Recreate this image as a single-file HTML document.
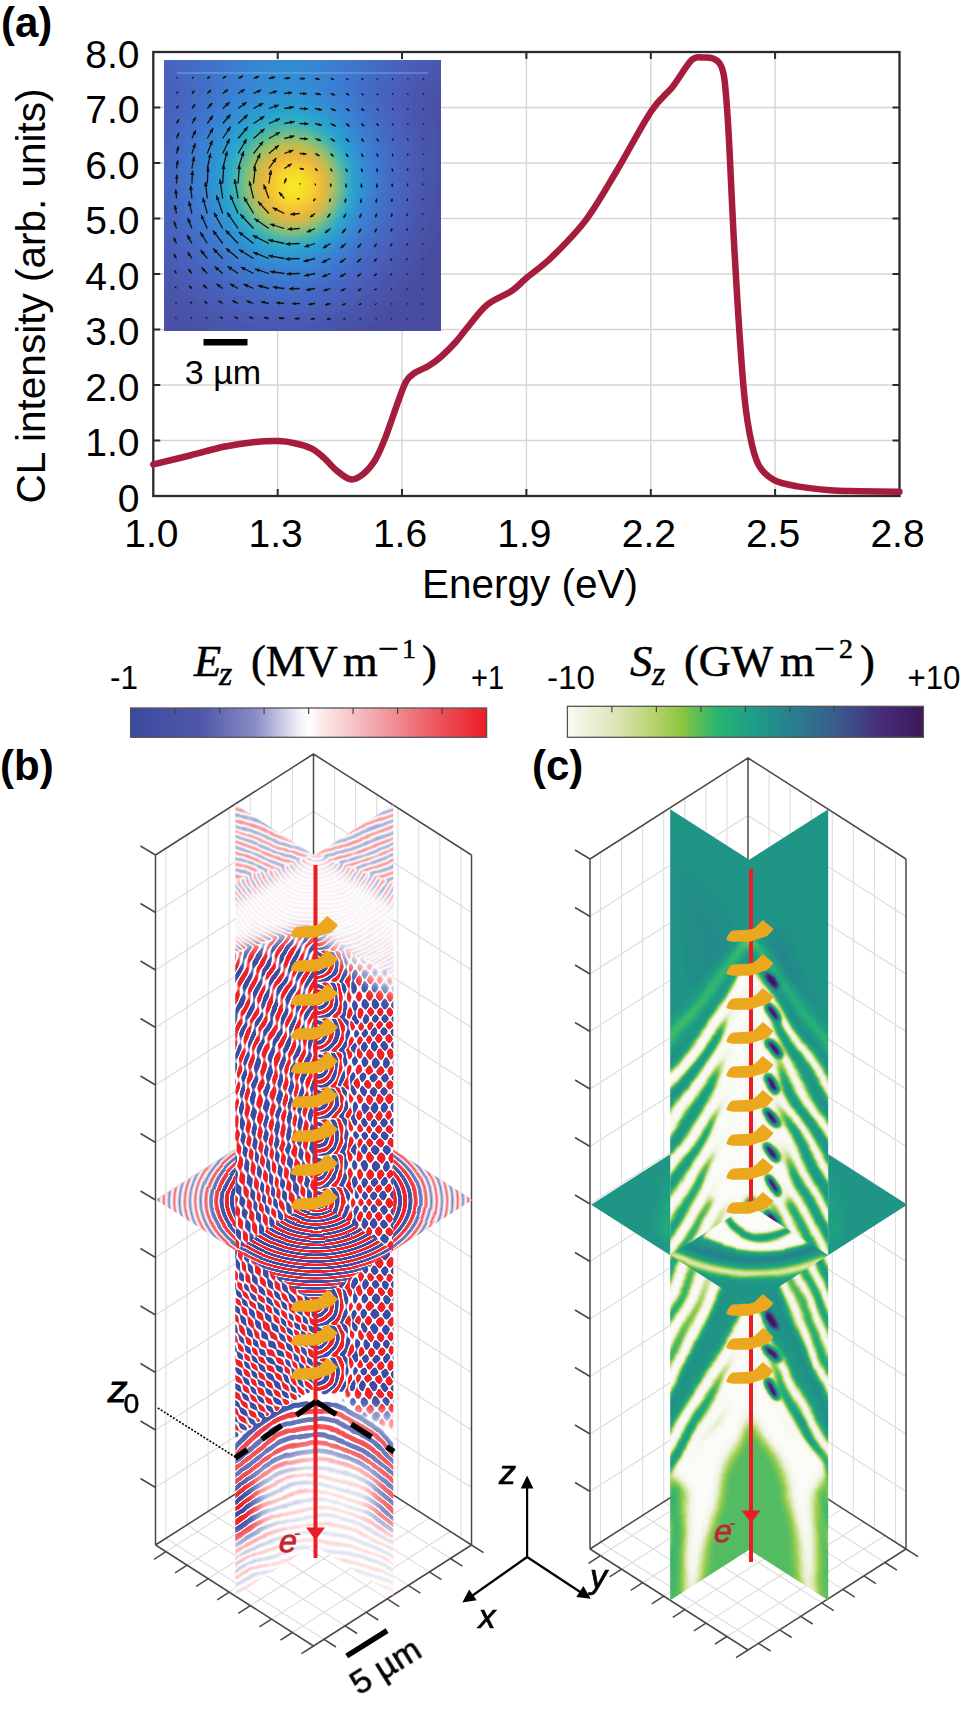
<!DOCTYPE html>
<html><head><meta charset="utf-8"><style>
html,body{margin:0;padding:0;background:#fff;}
svg{display:block;}
text{font-family:"Liberation Sans",sans-serif;fill:#000;}
.tk{font-size:39px;}
.ax{font-size:40.5px;}
.lbl{font-size:42px;font-weight:bold;}
.sb{font-size:34px;}
.cbt{font-size:33px;}
.ser{font-family:"Liberation Serif",serif;font-size:44.6px;stroke:#000;stroke-width:0.5px;}
</style></head><body>
<svg width="969" height="1720" viewBox="0 0 969 1720">

<defs><clipPath id="insclip"><rect x="164" y="60" width="277" height="271"/></clipPath>
<filter id="blur3" x="-5%" y="-5%" width="110%" height="110%"><feGaussianBlur stdDeviation="5"/></filter>
<linearGradient id="cbE" x1="0" x2="1" y1="0" y2="0"><stop offset="0" stop-color="#3a4aa0"/><stop offset="0.2" stop-color="#5058a8"/><stop offset="0.35" stop-color="#8a8cc6"/><stop offset="0.47" stop-color="#eeeef8"/><stop offset="0.5" stop-color="#ffffff"/><stop offset="0.53" stop-color="#fdeeee"/><stop offset="0.7" stop-color="#f2a0a6"/><stop offset="0.85" stop-color="#ee5a62"/><stop offset="1" stop-color="#ec1c24"/></linearGradient>
<linearGradient id="cbS" x1="0" x2="1" y1="0" y2="0"><stop offset="0" stop-color="#fafaf5"/><stop offset="0.12" stop-color="#e2e6c0"/><stop offset="0.25" stop-color="#b4d26a"/><stop offset="0.32" stop-color="#8cc63f"/><stop offset="0.42" stop-color="#2ab572"/><stop offset="0.52" stop-color="#1d9e86"/><stop offset="0.64" stop-color="#2a7d8e"/><stop offset="0.76" stop-color="#3a5a8c"/><stop offset="0.88" stop-color="#472d7b"/><stop offset="1" stop-color="#3d1856"/></linearGradient>
<filter id="rbS" color-interpolation-filters="sRGB" filterUnits="userSpaceOnUse" x="0" y="700" width="969" height="1020"><feTurbulence type="fractalNoise" baseFrequency="0.03" numOctaves="1" seed="3" result="t"/><feDisplacementMap in="SourceGraphic" in2="t" scale="9" xChannelSelector="R" yChannelSelector="G" result="d"/><feGaussianBlur in="d" stdDeviation="0.8" result="bb"/><feComponentTransfer in="bb"><feFuncR type="table" tableValues="0.230 0.230 0.230 0.230 0.230 0.230 0.230 0.230 0.230 0.230 0.230 0.230 0.230 0.230 0.325 0.503 0.714 0.950 1.000 1.000 1.000 1.000 1.000 0.994 0.973 0.957 0.941 0.930 0.930 0.930 0.930 0.930 0.930 0.930 0.930 0.930 0.930 0.930 0.930 0.930 0.930"/><feFuncG type="table" tableValues="0.300 0.300 0.300 0.300 0.300 0.300 0.300 0.300 0.300 0.300 0.300 0.300 0.300 0.300 0.386 0.548 0.740 0.955 1.000 1.000 1.000 1.000 1.000 0.921 0.668 0.461 0.272 0.130 0.130 0.130 0.130 0.130 0.130 0.130 0.130 0.130 0.130 0.130 0.130 0.130 0.130"/><feFuncB type="table" tableValues="0.640 0.640 0.640 0.640 0.640 0.640 0.640 0.640 0.640 0.640 0.640 0.640 0.640 0.640 0.684 0.767 0.866 0.977 1.000 1.000 1.000 1.000 1.000 0.923 0.676 0.473 0.289 0.150 0.150 0.150 0.150 0.150 0.150 0.150 0.150 0.150 0.150 0.150 0.150 0.150 0.150"/></feComponentTransfer></filter>
<filter id="rbF" color-interpolation-filters="sRGB" filterUnits="userSpaceOnUse" x="0" y="700" width="969" height="1020"><feTurbulence type="fractalNoise" baseFrequency="0.03" numOctaves="1" seed="3" result="t"/><feDisplacementMap in="SourceGraphic" in2="t" scale="9" xChannelSelector="R" yChannelSelector="G" result="d"/><feGaussianBlur in="d" stdDeviation="0.8" result="bb"/><feComponentTransfer in="bb"><feFuncR type="table" tableValues="0.230 0.300 0.352 0.399 0.442 0.484 0.524 0.562 0.600 0.637 0.672 0.707 0.742 0.776 0.809 0.842 0.874 0.906 0.938 0.969 1.000 0.998 0.996 0.993 0.991 0.988 0.984 0.981 0.978 0.974 0.971 0.967 0.963 0.959 0.955 0.951 0.947 0.943 0.939 0.934 0.930"/><feFuncG type="table" tableValues="0.300 0.364 0.411 0.453 0.493 0.531 0.567 0.602 0.636 0.670 0.702 0.734 0.765 0.796 0.826 0.856 0.886 0.915 0.943 0.972 1.000 0.979 0.951 0.919 0.884 0.846 0.807 0.766 0.723 0.679 0.634 0.588 0.541 0.492 0.443 0.393 0.342 0.290 0.237 0.184 0.130"/><feFuncB type="table" tableValues="0.640 0.673 0.697 0.719 0.739 0.759 0.777 0.795 0.813 0.830 0.847 0.863 0.879 0.895 0.911 0.926 0.941 0.956 0.971 0.986 1.000 0.980 0.952 0.921 0.886 0.850 0.811 0.771 0.730 0.687 0.643 0.597 0.551 0.504 0.456 0.407 0.357 0.306 0.255 0.203 0.150"/></feComponentTransfer></filter>
<filter id="rbH" color-interpolation-filters="sRGB" filterUnits="userSpaceOnUse" x="0" y="700" width="969" height="1020"><feTurbulence type="fractalNoise" baseFrequency="0.03" numOctaves="1" seed="7" result="t"/><feDisplacementMap in="SourceGraphic" in2="t" scale="3" xChannelSelector="R" yChannelSelector="G" result="d"/><feGaussianBlur in="d" stdDeviation="0.7" result="bb"/><feComponentTransfer in="bb"><feFuncR type="table" tableValues="0.230 0.230 0.230 0.230 0.230 0.230 0.230 0.230 0.230 0.230 0.230 0.230 0.230 0.230 0.325 0.503 0.714 0.950 1.000 1.000 1.000 1.000 1.000 0.994 0.973 0.957 0.941 0.930 0.930 0.930 0.930 0.930 0.930 0.930 0.930 0.930 0.930 0.930 0.930 0.930 0.930"/><feFuncG type="table" tableValues="0.300 0.300 0.300 0.300 0.300 0.300 0.300 0.300 0.300 0.300 0.300 0.300 0.300 0.300 0.386 0.548 0.740 0.955 1.000 1.000 1.000 1.000 1.000 0.921 0.668 0.461 0.272 0.130 0.130 0.130 0.130 0.130 0.130 0.130 0.130 0.130 0.130 0.130 0.130 0.130 0.130"/><feFuncB type="table" tableValues="0.640 0.640 0.640 0.640 0.640 0.640 0.640 0.640 0.640 0.640 0.640 0.640 0.640 0.640 0.684 0.767 0.866 0.977 1.000 1.000 1.000 1.000 1.000 0.923 0.676 0.473 0.289 0.150 0.150 0.150 0.150 0.150 0.150 0.150 0.150 0.150 0.150 0.150 0.150 0.150 0.150"/></feComponentTransfer></filter>
<filter id="rbHF" color-interpolation-filters="sRGB" filterUnits="userSpaceOnUse" x="0" y="700" width="969" height="1020"><feTurbulence type="fractalNoise" baseFrequency="0.03" numOctaves="1" seed="7" result="t"/><feDisplacementMap in="SourceGraphic" in2="t" scale="3" xChannelSelector="R" yChannelSelector="G" result="d"/><feGaussianBlur in="d" stdDeviation="0.7" result="bb"/><feComponentTransfer in="bb"><feFuncR type="table" tableValues="0.230 0.300 0.352 0.399 0.442 0.484 0.524 0.562 0.600 0.637 0.672 0.707 0.742 0.776 0.809 0.842 0.874 0.906 0.938 0.969 1.000 0.998 0.996 0.993 0.991 0.988 0.984 0.981 0.978 0.974 0.971 0.967 0.963 0.959 0.955 0.951 0.947 0.943 0.939 0.934 0.930"/><feFuncG type="table" tableValues="0.300 0.364 0.411 0.453 0.493 0.531 0.567 0.602 0.636 0.670 0.702 0.734 0.765 0.796 0.826 0.856 0.886 0.915 0.943 0.972 1.000 0.979 0.951 0.919 0.884 0.846 0.807 0.766 0.723 0.679 0.634 0.588 0.541 0.492 0.443 0.393 0.342 0.290 0.237 0.184 0.130"/><feFuncB type="table" tableValues="0.640 0.673 0.697 0.719 0.739 0.759 0.777 0.795 0.813 0.830 0.847 0.863 0.879 0.895 0.911 0.926 0.941 0.956 0.971 0.986 1.000 0.980 0.952 0.921 0.886 0.850 0.811 0.771 0.730 0.687 0.643 0.597 0.551 0.504 0.456 0.407 0.357 0.306 0.255 0.203 0.150"/></feComponentTransfer></filter>
<filter id="bb4" filterUnits="userSpaceOnUse" x="0" y="700" width="969" height="1020"><feGaussianBlur stdDeviation="4"/></filter>
<filter id="bb8" filterUnits="userSpaceOnUse" x="0" y="700" width="969" height="1020"><feGaussianBlur stdDeviation="8"/></filter>
<filter id="bb12" filterUnits="userSpaceOnUse" x="0" y="700" width="969" height="1020"><feGaussianBlur stdDeviation="12"/></filter>
<radialGradient id="gL1" gradientUnits="userSpaceOnUse" cx="760" cy="1120" r="11.5" spreadMethod="repeat" gradientTransform="translate(760 1120) scale(1 0.8) translate(-760 -1120)"><stop offset="0" stop-color="#000"/><stop offset="0.5" stop-color="#fff"/><stop offset="1" stop-color="#000"/></radialGradient>
<linearGradient id="gL2" gradientUnits="userSpaceOnUse" x1="0" y1="0" x2="7.4" y2="9.5" spreadMethod="repeat"><stop offset="0" stop-color="#000"/><stop offset="0.5" stop-color="#fff"/><stop offset="1" stop-color="#000"/></linearGradient>
<radialGradient id="gC0" gradientUnits="userSpaceOnUse" cx="317" cy="930" r="10" spreadMethod="repeat" ><stop offset="0" stop-color="#000"/><stop offset="0.5" stop-color="#fff"/><stop offset="1" stop-color="#000"/></radialGradient>
<radialGradient id="gC1" gradientUnits="userSpaceOnUse" cx="317" cy="964" r="10" spreadMethod="repeat" ><stop offset="0" stop-color="#000"/><stop offset="0.5" stop-color="#fff"/><stop offset="1" stop-color="#000"/></radialGradient>
<radialGradient id="gC2" gradientUnits="userSpaceOnUse" cx="317" cy="998" r="10" spreadMethod="repeat" ><stop offset="0" stop-color="#000"/><stop offset="0.5" stop-color="#fff"/><stop offset="1" stop-color="#000"/></radialGradient>
<radialGradient id="gC3" gradientUnits="userSpaceOnUse" cx="317" cy="1032" r="10" spreadMethod="repeat" ><stop offset="0" stop-color="#000"/><stop offset="0.5" stop-color="#fff"/><stop offset="1" stop-color="#000"/></radialGradient>
<radialGradient id="gC4" gradientUnits="userSpaceOnUse" cx="317" cy="1066" r="10" spreadMethod="repeat" ><stop offset="0" stop-color="#000"/><stop offset="0.5" stop-color="#fff"/><stop offset="1" stop-color="#000"/></radialGradient>
<radialGradient id="gC5" gradientUnits="userSpaceOnUse" cx="317" cy="1100" r="10" spreadMethod="repeat" ><stop offset="0" stop-color="#000"/><stop offset="0.5" stop-color="#fff"/><stop offset="1" stop-color="#000"/></radialGradient>
<radialGradient id="gC6" gradientUnits="userSpaceOnUse" cx="317" cy="1134" r="10" spreadMethod="repeat" ><stop offset="0" stop-color="#000"/><stop offset="0.5" stop-color="#fff"/><stop offset="1" stop-color="#000"/></radialGradient>
<radialGradient id="gC7" gradientUnits="userSpaceOnUse" cx="317" cy="1168" r="10" spreadMethod="repeat" ><stop offset="0" stop-color="#000"/><stop offset="0.5" stop-color="#fff"/><stop offset="1" stop-color="#000"/></radialGradient>
<radialGradient id="gC8" gradientUnits="userSpaceOnUse" cx="317" cy="1202" r="10" spreadMethod="repeat" ><stop offset="0" stop-color="#000"/><stop offset="0.5" stop-color="#fff"/><stop offset="1" stop-color="#000"/></radialGradient>
<radialGradient id="gC9" gradientUnits="userSpaceOnUse" cx="317" cy="1236" r="10" spreadMethod="repeat" ><stop offset="0" stop-color="#000"/><stop offset="0.5" stop-color="#fff"/><stop offset="1" stop-color="#000"/></radialGradient>
<radialGradient id="gC10" gradientUnits="userSpaceOnUse" cx="317" cy="1270" r="10" spreadMethod="repeat" ><stop offset="0" stop-color="#000"/><stop offset="0.5" stop-color="#fff"/><stop offset="1" stop-color="#000"/></radialGradient>
<radialGradient id="gC11" gradientUnits="userSpaceOnUse" cx="317" cy="1304" r="10" spreadMethod="repeat" ><stop offset="0" stop-color="#000"/><stop offset="0.5" stop-color="#fff"/><stop offset="1" stop-color="#000"/></radialGradient>
<radialGradient id="gC12" gradientUnits="userSpaceOnUse" cx="317" cy="1338" r="10" spreadMethod="repeat" ><stop offset="0" stop-color="#000"/><stop offset="0.5" stop-color="#fff"/><stop offset="1" stop-color="#000"/></radialGradient>
<radialGradient id="gC13" gradientUnits="userSpaceOnUse" cx="317" cy="1372" r="10" spreadMethod="repeat" ><stop offset="0" stop-color="#000"/><stop offset="0.5" stop-color="#fff"/><stop offset="1" stop-color="#000"/></radialGradient>
<linearGradient id="gR1" gradientUnits="userSpaceOnUse" x1="0" y1="0" x2="13.9" y2="9.8" spreadMethod="repeat"><stop offset="0" stop-color="#000"/><stop offset="0.5" stop-color="#fff"/><stop offset="1" stop-color="#000"/></linearGradient>
<linearGradient id="gR2" gradientUnits="userSpaceOnUse" x1="0" y1="0" x2="-13.9" y2="9.8" spreadMethod="repeat"><stop offset="0" stop-color="#000"/><stop offset="0.5" stop-color="#fff"/><stop offset="1" stop-color="#000"/></linearGradient>
<radialGradient id="gH" gradientUnits="userSpaceOnUse" cx="316" cy="1201" r="10.5" spreadMethod="repeat" gradientTransform="translate(316 1201) scale(1 0.64) translate(-316 -1201)"><stop offset="0" stop-color="#000"/><stop offset="0.5" stop-color="#fff"/><stop offset="1" stop-color="#000"/></radialGradient>
<linearGradient id="gW1" gradientUnits="userSpaceOnUse" x1="0" y1="0" x2="-3.6" y2="9.9" spreadMethod="repeat"><stop offset="0" stop-color="#000"/><stop offset="0.5" stop-color="#fff"/><stop offset="1" stop-color="#000"/></linearGradient>
<linearGradient id="gW2" gradientUnits="userSpaceOnUse" x1="0" y1="0" x2="3.6" y2="9.9" spreadMethod="repeat"><stop offset="0" stop-color="#000"/><stop offset="0.5" stop-color="#fff"/><stop offset="1" stop-color="#000"/></linearGradient>
<radialGradient id="gBot" gradientUnits="userSpaceOnUse" cx="316" cy="1540" r="7.4" spreadMethod="repeat" gradientTransform="translate(316 1540) scale(1 1.25) translate(-316 -1540)"><stop offset="0" stop-color="#000"/><stop offset="0.5" stop-color="#fff"/><stop offset="1" stop-color="#000"/></radialGradient>
<radialGradient id="gTop" gradientUnits="userSpaceOnUse" cx="316" cy="846" r="8" spreadMethod="repeat" ><stop offset="0" stop-color="#000"/><stop offset="0.5" stop-color="#fff"/><stop offset="1" stop-color="#000"/></radialGradient>
<filter id="boost" color-interpolation-filters="sRGB" filterUnits="userSpaceOnUse" x="0" y="700" width="969" height="1020"><feComponentTransfer><feFuncR type="linear" slope="2.4" intercept="-0.7"/><feFuncG type="linear" slope="2.4" intercept="-0.7"/><feFuncB type="linear" slope="2.4" intercept="-0.7"/></feComponentTransfer></filter>
<linearGradient id="rampR" gradientUnits="userSpaceOnUse" x1="335" y1="0" x2="372" y2="0"><stop offset="0" stop-color="#fff" stop-opacity="0"/><stop offset="1" stop-color="#fff" stop-opacity="1"/></linearGradient>
<mask id="mRamp" maskUnits="userSpaceOnUse" x="0" y="700" width="969" height="1020"><rect x="0" y="700" width="969" height="1020" fill="url(#rampR)"/></mask>
<filter id="vmap" color-interpolation-filters="sRGB" filterUnits="userSpaceOnUse" x="0" y="700" width="969" height="1020"><feTurbulence type="fractalNoise" baseFrequency="0.025" numOctaves="1" seed="11" result="t"/><feDisplacementMap in="SourceGraphic" in2="t" scale="10" xChannelSelector="R" yChannelSelector="G" result="d"/><feGaussianBlur in="d" stdDeviation="0.8" result="bb"/><feComponentTransfer in="bb"><feFuncR type="table" tableValues="0.988 0.969 0.949 0.907 0.850 0.786 0.696 0.606 0.497 0.382 0.286 0.218 0.149 0.140 0.132 0.123 0.122 0.122 0.122 0.122 0.122 0.130 0.138 0.150 0.165 0.181 0.201 0.222 0.243 0.253 0.263 0.273 0.268 0.260 0.253 0.245 0.239 0.233 0.227 0.221 0.216"/><feFuncG type="table" tableValues="0.988 0.975 0.962 0.939 0.910 0.879 0.843 0.807 0.779 0.753 0.729 0.710 0.690 0.671 0.651 0.631 0.621 0.613 0.605 0.596 0.588 0.560 0.533 0.497 0.456 0.415 0.375 0.335 0.294 0.254 0.213 0.173 0.151 0.133 0.115 0.098 0.090 0.085 0.080 0.075 0.071"/><feFuncB type="table" tableValues="0.973 0.940 0.907 0.818 0.690 0.564 0.441 0.319 0.327 0.368 0.405 0.438 0.471 0.484 0.498 0.511 0.515 0.517 0.518 0.520 0.522 0.533 0.544 0.551 0.554 0.555 0.547 0.538 0.529 0.505 0.480 0.456 0.431 0.407 0.382 0.358 0.343 0.331 0.319 0.306 0.294"/></feComponentTransfer></filter>
<filter id="vmap2" color-interpolation-filters="sRGB" filterUnits="userSpaceOnUse" x="0" y="700" width="969" height="1020"><feTurbulence type="fractalNoise" baseFrequency="0.03" numOctaves="1" seed="5" result="t"/><feDisplacementMap in="SourceGraphic" in2="t" scale="4" xChannelSelector="R" yChannelSelector="G" result="d"/><feGaussianBlur in="d" stdDeviation="0.8" result="bb"/><feComponentTransfer in="bb"><feFuncR type="table" tableValues="0.988 0.969 0.949 0.907 0.850 0.786 0.696 0.606 0.497 0.382 0.286 0.218 0.149 0.140 0.132 0.123 0.122 0.122 0.122 0.122 0.122 0.130 0.138 0.150 0.165 0.181 0.201 0.222 0.243 0.253 0.263 0.273 0.268 0.260 0.253 0.245 0.239 0.233 0.227 0.221 0.216"/><feFuncG type="table" tableValues="0.988 0.975 0.962 0.939 0.910 0.879 0.843 0.807 0.779 0.753 0.729 0.710 0.690 0.671 0.651 0.631 0.621 0.613 0.605 0.596 0.588 0.560 0.533 0.497 0.456 0.415 0.375 0.335 0.294 0.254 0.213 0.173 0.151 0.133 0.115 0.098 0.090 0.085 0.080 0.075 0.071"/><feFuncB type="table" tableValues="0.973 0.940 0.907 0.818 0.690 0.564 0.441 0.319 0.327 0.368 0.405 0.438 0.471 0.484 0.498 0.511 0.515 0.517 0.518 0.520 0.522 0.533 0.544 0.551 0.554 0.555 0.547 0.538 0.529 0.505 0.480 0.456 0.431 0.407 0.382 0.358 0.343 0.331 0.319 0.306 0.294"/></feComponentTransfer></filter>
<filter id="cb2" filterUnits="userSpaceOnUse" x="0" y="700" width="969" height="1020"><feGaussianBlur stdDeviation="2"/></filter>
<filter id="cb3" filterUnits="userSpaceOnUse" x="0" y="700" width="969" height="1020"><feGaussianBlur stdDeviation="3"/></filter>
<filter id="cb4" filterUnits="userSpaceOnUse" x="0" y="700" width="969" height="1020"><feGaussianBlur stdDeviation="4"/></filter>
<filter id="cb6" filterUnits="userSpaceOnUse" x="0" y="700" width="969" height="1020"><feGaussianBlur stdDeviation="6"/></filter>
<filter id="cb9" filterUnits="userSpaceOnUse" x="0" y="700" width="969" height="1020"><feGaussianBlur stdDeviation="9"/></filter>
<filter id="cb14" filterUnits="userSpaceOnUse" x="0" y="700" width="969" height="1020"><feGaussianBlur stdDeviation="14"/></filter></defs>
<path d="M277.7,52V496M402,52V496M526.4,52V496M650.8,52V496M775.1,52V496M153.3,440.5H899.5M153.3,385H899.5M153.3,329.5H899.5M153.3,274H899.5M153.3,218.5H899.5M153.3,163H899.5M153.3,107.5H899.5" stroke="#d6d6d6" stroke-width="1.4" fill="none"/>
<path d="M277.7,496v-7M277.7,52v7M402,496v-7M402,52v7M526.4,496v-7M526.4,52v7M650.8,496v-7M650.8,52v7M775.1,496v-7M775.1,52v7M153.3,440.5h7M899.5,440.5h-7M153.3,385h7M899.5,385h-7M153.3,329.5h7M899.5,329.5h-7M153.3,274h7M899.5,274h-7M153.3,218.5h7M899.5,218.5h-7M153.3,163h7M899.5,163h-7M153.3,107.5h7M899.5,107.5h-7" stroke="#2a2a2a" stroke-width="2" fill="none"/>
<rect x="153.3" y="52" width="746.2" height="444" fill="none" stroke="#2a2a2a" stroke-width="2.3"/>
<text x="151.3" y="547" text-anchor="middle" class="tk">1.0</text>
<text x="275.7" y="547" text-anchor="middle" class="tk">1.3</text>
<text x="400" y="547" text-anchor="middle" class="tk">1.6</text>
<text x="524.4" y="547" text-anchor="middle" class="tk">1.9</text>
<text x="648.8" y="547" text-anchor="middle" class="tk">2.2</text>
<text x="773.1" y="547" text-anchor="middle" class="tk">2.5</text>
<text x="897.5" y="547" text-anchor="middle" class="tk">2.8</text>
<text x="139.5" y="511.5" text-anchor="end" class="tk">0</text>
<text x="139.5" y="456" text-anchor="end" class="tk">1.0</text>
<text x="139.5" y="400.5" text-anchor="end" class="tk">2.0</text>
<text x="139.5" y="345" text-anchor="end" class="tk">3.0</text>
<text x="139.5" y="289.5" text-anchor="end" class="tk">4.0</text>
<text x="139.5" y="234" text-anchor="end" class="tk">5.0</text>
<text x="139.5" y="178.5" text-anchor="end" class="tk">6.0</text>
<text x="139.5" y="123" text-anchor="end" class="tk">7.0</text>
<text x="139.5" y="67.5" text-anchor="end" class="tk">8.0</text>
<text x="530" y="598" text-anchor="middle" class="ax">Energy (eV)</text>
<text transform="translate(44.5,296) rotate(-90)" text-anchor="middle" class="ax">CL intensity (arb. units)</text>
<text x="1" y="37" class="lbl">(a)</text>
<g clip-path="url(#insclip)"><g filter="url(#blur3)">
<rect x="156" y="52" width="9" height="9" fill="#485fbb"/>
<rect x="164" y="52" width="9" height="9" fill="#4861bd"/>
<rect x="172" y="52" width="9" height="9" fill="#4763be"/>
<rect x="180" y="52" width="9" height="9" fill="#4665c0"/>
<rect x="188" y="52" width="9" height="9" fill="#4568c2"/>
<rect x="196" y="52" width="9" height="9" fill="#446ac4"/>
<rect x="204" y="52" width="9" height="9" fill="#426dc6"/>
<rect x="212" y="52" width="9" height="9" fill="#4170c8"/>
<rect x="220" y="52" width="9" height="9" fill="#4072ca"/>
<rect x="228" y="52" width="9" height="9" fill="#3f75cc"/>
<rect x="236" y="52" width="9" height="9" fill="#3e77ce"/>
<rect x="244" y="52" width="9" height="9" fill="#3d7acf"/>
<rect x="252" y="52" width="9" height="9" fill="#3c7cd1"/>
<rect x="260" y="52" width="9" height="9" fill="#3b7dd2"/>
<rect x="268" y="52" width="9" height="9" fill="#3b7ed3"/>
<rect x="276" y="52" width="9" height="9" fill="#3a7fd3"/>
<rect x="284" y="52" width="9" height="9" fill="#3a7fd3"/>
<rect x="292" y="52" width="9" height="9" fill="#3b7fd3"/>
<rect x="300" y="52" width="9" height="9" fill="#3b7ed2"/>
<rect x="308" y="52" width="9" height="9" fill="#3c7cd1"/>
<rect x="316" y="52" width="9" height="9" fill="#3c7ad0"/>
<rect x="324" y="52" width="9" height="9" fill="#3d78ce"/>
<rect x="332" y="52" width="9" height="9" fill="#3f76cc"/>
<rect x="340" y="52" width="9" height="9" fill="#4073ca"/>
<rect x="348" y="52" width="9" height="9" fill="#4170c8"/>
<rect x="356" y="52" width="9" height="9" fill="#426dc6"/>
<rect x="364" y="52" width="9" height="9" fill="#446ac3"/>
<rect x="372" y="52" width="9" height="9" fill="#4567c1"/>
<rect x="380" y="52" width="9" height="9" fill="#4664bf"/>
<rect x="388" y="52" width="9" height="9" fill="#4861bd"/>
<rect x="396" y="52" width="9" height="9" fill="#485eba"/>
<rect x="404" y="52" width="9" height="9" fill="#485cb6"/>
<rect x="412" y="52" width="9" height="9" fill="#485ab3"/>
<rect x="420" y="52" width="9" height="9" fill="#4859b0"/>
<rect x="428" y="52" width="9" height="9" fill="#4857ae"/>
<rect x="436" y="52" width="9" height="9" fill="#4855ac"/>
<rect x="444" y="52" width="9" height="9" fill="#4854aa"/>
<rect x="156" y="60" width="9" height="9" fill="#4861bd"/>
<rect x="164" y="60" width="9" height="9" fill="#4763be"/>
<rect x="172" y="60" width="9" height="9" fill="#4666c0"/>
<rect x="180" y="60" width="9" height="9" fill="#4468c2"/>
<rect x="188" y="60" width="9" height="9" fill="#436bc4"/>
<rect x="196" y="60" width="9" height="9" fill="#426ec7"/>
<rect x="204" y="60" width="9" height="9" fill="#4071c9"/>
<rect x="212" y="60" width="9" height="9" fill="#3f75cb"/>
<rect x="220" y="60" width="9" height="9" fill="#3e78ce"/>
<rect x="228" y="60" width="9" height="9" fill="#3c7bd0"/>
<rect x="236" y="60" width="9" height="9" fill="#3b7ed2"/>
<rect x="244" y="60" width="9" height="9" fill="#3a81d4"/>
<rect x="252" y="60" width="9" height="9" fill="#3883d4"/>
<rect x="260" y="60" width="9" height="9" fill="#3786d3"/>
<rect x="268" y="60" width="9" height="9" fill="#3687d3"/>
<rect x="276" y="60" width="9" height="9" fill="#3588d3"/>
<rect x="284" y="60" width="9" height="9" fill="#3589d3"/>
<rect x="292" y="60" width="9" height="9" fill="#3588d3"/>
<rect x="300" y="60" width="9" height="9" fill="#3687d3"/>
<rect x="308" y="60" width="9" height="9" fill="#3785d4"/>
<rect x="316" y="60" width="9" height="9" fill="#3982d4"/>
<rect x="324" y="60" width="9" height="9" fill="#3a7fd3"/>
<rect x="332" y="60" width="9" height="9" fill="#3c7cd1"/>
<rect x="340" y="60" width="9" height="9" fill="#3d79cf"/>
<rect x="348" y="60" width="9" height="9" fill="#3f75cc"/>
<rect x="356" y="60" width="9" height="9" fill="#4072c9"/>
<rect x="364" y="60" width="9" height="9" fill="#426ec7"/>
<rect x="372" y="60" width="9" height="9" fill="#436bc4"/>
<rect x="380" y="60" width="9" height="9" fill="#4567c2"/>
<rect x="388" y="60" width="9" height="9" fill="#4664bf"/>
<rect x="396" y="60" width="9" height="9" fill="#4861bd"/>
<rect x="404" y="60" width="9" height="9" fill="#485eba"/>
<rect x="412" y="60" width="9" height="9" fill="#485cb6"/>
<rect x="420" y="60" width="9" height="9" fill="#485ab3"/>
<rect x="428" y="60" width="9" height="9" fill="#4858b0"/>
<rect x="436" y="60" width="9" height="9" fill="#4857ad"/>
<rect x="444" y="60" width="9" height="9" fill="#4855ab"/>
<rect x="156" y="68" width="9" height="9" fill="#4861bc"/>
<rect x="164" y="68" width="9" height="9" fill="#4763be"/>
<rect x="172" y="68" width="9" height="9" fill="#4666c0"/>
<rect x="180" y="68" width="9" height="9" fill="#4468c2"/>
<rect x="188" y="68" width="9" height="9" fill="#436cc5"/>
<rect x="196" y="68" width="9" height="9" fill="#416fc7"/>
<rect x="204" y="68" width="9" height="9" fill="#4072ca"/>
<rect x="212" y="68" width="9" height="9" fill="#3e76cc"/>
<rect x="220" y="68" width="9" height="9" fill="#3d7acf"/>
<rect x="228" y="68" width="9" height="9" fill="#3b7dd2"/>
<rect x="236" y="68" width="9" height="9" fill="#3a80d4"/>
<rect x="244" y="68" width="9" height="9" fill="#3884d4"/>
<rect x="252" y="68" width="9" height="9" fill="#3687d3"/>
<rect x="260" y="68" width="9" height="9" fill="#348ad3"/>
<rect x="268" y="68" width="9" height="9" fill="#338cd3"/>
<rect x="276" y="68" width="9" height="9" fill="#338dd3"/>
<rect x="284" y="68" width="9" height="9" fill="#338dd3"/>
<rect x="292" y="68" width="9" height="9" fill="#338cd3"/>
<rect x="300" y="68" width="9" height="9" fill="#348bd3"/>
<rect x="308" y="68" width="9" height="9" fill="#3589d3"/>
<rect x="316" y="68" width="9" height="9" fill="#3786d3"/>
<rect x="324" y="68" width="9" height="9" fill="#3982d4"/>
<rect x="332" y="68" width="9" height="9" fill="#3b7ed3"/>
<rect x="340" y="68" width="9" height="9" fill="#3c7bd0"/>
<rect x="348" y="68" width="9" height="9" fill="#3e77cd"/>
<rect x="356" y="68" width="9" height="9" fill="#4073ca"/>
<rect x="364" y="68" width="9" height="9" fill="#416fc7"/>
<rect x="372" y="68" width="9" height="9" fill="#436bc4"/>
<rect x="380" y="68" width="9" height="9" fill="#4567c2"/>
<rect x="388" y="68" width="9" height="9" fill="#4664bf"/>
<rect x="396" y="68" width="9" height="9" fill="#4861bc"/>
<rect x="404" y="68" width="9" height="9" fill="#485eb9"/>
<rect x="412" y="68" width="9" height="9" fill="#485cb5"/>
<rect x="420" y="68" width="9" height="9" fill="#4859b2"/>
<rect x="428" y="68" width="9" height="9" fill="#4858af"/>
<rect x="436" y="68" width="9" height="9" fill="#4856ac"/>
<rect x="444" y="68" width="9" height="9" fill="#4854aa"/>
<rect x="156" y="76" width="9" height="9" fill="#485fbb"/>
<rect x="164" y="76" width="9" height="9" fill="#4761bd"/>
<rect x="172" y="76" width="9" height="9" fill="#4664bf"/>
<rect x="180" y="76" width="9" height="9" fill="#4567c1"/>
<rect x="188" y="76" width="9" height="9" fill="#446ac4"/>
<rect x="196" y="76" width="9" height="9" fill="#426ec6"/>
<rect x="204" y="76" width="9" height="9" fill="#4071c9"/>
<rect x="212" y="76" width="9" height="9" fill="#3f75cc"/>
<rect x="220" y="76" width="9" height="9" fill="#3d79cf"/>
<rect x="228" y="76" width="9" height="9" fill="#3b7dd1"/>
<rect x="236" y="76" width="9" height="9" fill="#3a80d4"/>
<rect x="244" y="76" width="9" height="9" fill="#3884d4"/>
<rect x="252" y="76" width="9" height="9" fill="#3688d3"/>
<rect x="260" y="76" width="9" height="9" fill="#348ad3"/>
<rect x="268" y="76" width="9" height="9" fill="#338cd3"/>
<rect x="276" y="76" width="9" height="9" fill="#328dd3"/>
<rect x="284" y="76" width="9" height="9" fill="#328ed3"/>
<rect x="292" y="76" width="9" height="9" fill="#338dd3"/>
<rect x="300" y="76" width="9" height="9" fill="#348bd3"/>
<rect x="308" y="76" width="9" height="9" fill="#3589d3"/>
<rect x="316" y="76" width="9" height="9" fill="#3785d3"/>
<rect x="324" y="76" width="9" height="9" fill="#3981d4"/>
<rect x="332" y="76" width="9" height="9" fill="#3b7ed2"/>
<rect x="340" y="76" width="9" height="9" fill="#3d7acf"/>
<rect x="348" y="76" width="9" height="9" fill="#3f75cc"/>
<rect x="356" y="76" width="9" height="9" fill="#4071c9"/>
<rect x="364" y="76" width="9" height="9" fill="#426dc6"/>
<rect x="372" y="76" width="9" height="9" fill="#4469c3"/>
<rect x="380" y="76" width="9" height="9" fill="#4665c0"/>
<rect x="388" y="76" width="9" height="9" fill="#4762bd"/>
<rect x="396" y="76" width="9" height="9" fill="#485eba"/>
<rect x="404" y="76" width="9" height="9" fill="#485cb6"/>
<rect x="412" y="76" width="9" height="9" fill="#4859b2"/>
<rect x="420" y="76" width="9" height="9" fill="#4857af"/>
<rect x="428" y="76" width="9" height="9" fill="#4856ac"/>
<rect x="436" y="76" width="9" height="9" fill="#4854a9"/>
<rect x="444" y="76" width="9" height="9" fill="#4852a7"/>
<rect x="156" y="84" width="9" height="9" fill="#485eb8"/>
<rect x="164" y="84" width="9" height="9" fill="#4860bc"/>
<rect x="172" y="84" width="9" height="9" fill="#4762be"/>
<rect x="180" y="84" width="9" height="9" fill="#4665c0"/>
<rect x="188" y="84" width="9" height="9" fill="#4469c3"/>
<rect x="196" y="84" width="9" height="9" fill="#436dc5"/>
<rect x="204" y="84" width="9" height="9" fill="#4170c8"/>
<rect x="212" y="84" width="9" height="9" fill="#3f74cb"/>
<rect x="220" y="84" width="9" height="9" fill="#3d79ce"/>
<rect x="228" y="84" width="9" height="9" fill="#3c7cd1"/>
<rect x="236" y="84" width="9" height="9" fill="#3a80d4"/>
<rect x="244" y="84" width="9" height="9" fill="#3785d4"/>
<rect x="252" y="84" width="9" height="9" fill="#3588d3"/>
<rect x="260" y="84" width="9" height="9" fill="#348bd3"/>
<rect x="268" y="84" width="9" height="9" fill="#328dd3"/>
<rect x="276" y="84" width="9" height="9" fill="#328fd3"/>
<rect x="284" y="84" width="9" height="9" fill="#328fd3"/>
<rect x="292" y="84" width="9" height="9" fill="#328ed3"/>
<rect x="300" y="84" width="9" height="9" fill="#338cd3"/>
<rect x="308" y="84" width="9" height="9" fill="#3589d3"/>
<rect x="316" y="84" width="9" height="9" fill="#3786d3"/>
<rect x="324" y="84" width="9" height="9" fill="#3981d4"/>
<rect x="332" y="84" width="9" height="9" fill="#3b7dd2"/>
<rect x="340" y="84" width="9" height="9" fill="#3d79cf"/>
<rect x="348" y="84" width="9" height="9" fill="#3f74cb"/>
<rect x="356" y="84" width="9" height="9" fill="#4170c8"/>
<rect x="364" y="84" width="9" height="9" fill="#436bc5"/>
<rect x="372" y="84" width="9" height="9" fill="#4567c1"/>
<rect x="380" y="84" width="9" height="9" fill="#4763be"/>
<rect x="388" y="84" width="9" height="9" fill="#485fbb"/>
<rect x="396" y="84" width="9" height="9" fill="#485cb6"/>
<rect x="404" y="84" width="9" height="9" fill="#485ab2"/>
<rect x="412" y="84" width="9" height="9" fill="#4857af"/>
<rect x="420" y="84" width="9" height="9" fill="#4855ab"/>
<rect x="428" y="84" width="9" height="9" fill="#4853a8"/>
<rect x="436" y="84" width="9" height="9" fill="#4852a6"/>
<rect x="444" y="84" width="9" height="9" fill="#4851a4"/>
<rect x="156" y="92" width="9" height="9" fill="#485db7"/>
<rect x="164" y="92" width="9" height="9" fill="#485fbb"/>
<rect x="172" y="92" width="9" height="9" fill="#4762bd"/>
<rect x="180" y="92" width="9" height="9" fill="#4665c0"/>
<rect x="188" y="92" width="9" height="9" fill="#4469c3"/>
<rect x="196" y="92" width="9" height="9" fill="#426dc6"/>
<rect x="204" y="92" width="9" height="9" fill="#4171c9"/>
<rect x="212" y="92" width="9" height="9" fill="#3f75cc"/>
<rect x="220" y="92" width="9" height="9" fill="#3d7acf"/>
<rect x="228" y="92" width="9" height="9" fill="#3b7ed3"/>
<rect x="236" y="92" width="9" height="9" fill="#3883d4"/>
<rect x="244" y="92" width="9" height="9" fill="#3688d3"/>
<rect x="252" y="92" width="9" height="9" fill="#338cd3"/>
<rect x="260" y="92" width="9" height="9" fill="#318fd3"/>
<rect x="268" y="92" width="9" height="9" fill="#3091d2"/>
<rect x="276" y="92" width="9" height="9" fill="#2f93d2"/>
<rect x="284" y="92" width="9" height="9" fill="#2f93d2"/>
<rect x="292" y="92" width="9" height="9" fill="#3092d2"/>
<rect x="300" y="92" width="9" height="9" fill="#3190d2"/>
<rect x="308" y="92" width="9" height="9" fill="#338dd3"/>
<rect x="316" y="92" width="9" height="9" fill="#3589d3"/>
<rect x="324" y="92" width="9" height="9" fill="#3884d4"/>
<rect x="332" y="92" width="9" height="9" fill="#3b7fd3"/>
<rect x="340" y="92" width="9" height="9" fill="#3d7acf"/>
<rect x="348" y="92" width="9" height="9" fill="#3f75cc"/>
<rect x="356" y="92" width="9" height="9" fill="#4170c8"/>
<rect x="364" y="92" width="9" height="9" fill="#436bc5"/>
<rect x="372" y="92" width="9" height="9" fill="#4567c1"/>
<rect x="380" y="92" width="9" height="9" fill="#4762be"/>
<rect x="388" y="92" width="9" height="9" fill="#485fba"/>
<rect x="396" y="92" width="9" height="9" fill="#485bb5"/>
<rect x="404" y="92" width="9" height="9" fill="#4859b1"/>
<rect x="412" y="92" width="9" height="9" fill="#4856ad"/>
<rect x="420" y="92" width="9" height="9" fill="#4854a9"/>
<rect x="428" y="92" width="9" height="9" fill="#4852a7"/>
<rect x="436" y="92" width="9" height="9" fill="#4851a4"/>
<rect x="444" y="92" width="9" height="9" fill="#484fa2"/>
<rect x="156" y="100" width="9" height="9" fill="#485db8"/>
<rect x="164" y="100" width="9" height="9" fill="#485fbb"/>
<rect x="172" y="100" width="9" height="9" fill="#4763be"/>
<rect x="180" y="100" width="9" height="9" fill="#4566c1"/>
<rect x="188" y="100" width="9" height="9" fill="#446ac4"/>
<rect x="196" y="100" width="9" height="9" fill="#426fc7"/>
<rect x="204" y="100" width="9" height="9" fill="#4073ca"/>
<rect x="212" y="100" width="9" height="9" fill="#3d78ce"/>
<rect x="220" y="100" width="9" height="9" fill="#3b7dd2"/>
<rect x="228" y="100" width="9" height="9" fill="#3982d4"/>
<rect x="236" y="100" width="9" height="9" fill="#3588d3"/>
<rect x="244" y="100" width="9" height="9" fill="#328dd3"/>
<rect x="252" y="100" width="9" height="9" fill="#3092d2"/>
<rect x="260" y="100" width="9" height="9" fill="#2e96d2"/>
<rect x="268" y="100" width="9" height="9" fill="#2c98d2"/>
<rect x="276" y="100" width="9" height="9" fill="#2b9ad1"/>
<rect x="284" y="100" width="9" height="9" fill="#2b9ad1"/>
<rect x="292" y="100" width="9" height="9" fill="#2c99d1"/>
<rect x="300" y="100" width="9" height="9" fill="#2d97d2"/>
<rect x="308" y="100" width="9" height="9" fill="#2f93d2"/>
<rect x="316" y="100" width="9" height="9" fill="#328fd3"/>
<rect x="324" y="100" width="9" height="9" fill="#3589d3"/>
<rect x="332" y="100" width="9" height="9" fill="#3883d4"/>
<rect x="340" y="100" width="9" height="9" fill="#3b7dd2"/>
<rect x="348" y="100" width="9" height="9" fill="#3e78ce"/>
<rect x="356" y="100" width="9" height="9" fill="#4073ca"/>
<rect x="364" y="100" width="9" height="9" fill="#426dc6"/>
<rect x="372" y="100" width="9" height="9" fill="#4468c2"/>
<rect x="380" y="100" width="9" height="9" fill="#4763bf"/>
<rect x="388" y="100" width="9" height="9" fill="#485fbb"/>
<rect x="396" y="100" width="9" height="9" fill="#485cb5"/>
<rect x="404" y="100" width="9" height="9" fill="#4859b1"/>
<rect x="412" y="100" width="9" height="9" fill="#4856ad"/>
<rect x="420" y="100" width="9" height="9" fill="#4854a9"/>
<rect x="428" y="100" width="9" height="9" fill="#4852a6"/>
<rect x="436" y="100" width="9" height="9" fill="#4850a3"/>
<rect x="444" y="100" width="9" height="9" fill="#484fa1"/>
<rect x="156" y="108" width="9" height="9" fill="#485eb9"/>
<rect x="164" y="108" width="9" height="9" fill="#4860bc"/>
<rect x="172" y="108" width="9" height="9" fill="#4664bf"/>
<rect x="180" y="108" width="9" height="9" fill="#4568c2"/>
<rect x="188" y="108" width="9" height="9" fill="#436cc5"/>
<rect x="196" y="108" width="9" height="9" fill="#4071c9"/>
<rect x="204" y="108" width="9" height="9" fill="#3e76cd"/>
<rect x="212" y="108" width="9" height="9" fill="#3c7cd1"/>
<rect x="220" y="108" width="9" height="9" fill="#3981d4"/>
<rect x="228" y="108" width="9" height="9" fill="#3588d3"/>
<rect x="236" y="108" width="9" height="9" fill="#328ed3"/>
<rect x="244" y="108" width="9" height="9" fill="#2e94d2"/>
<rect x="252" y="108" width="9" height="9" fill="#2b9ad1"/>
<rect x="260" y="108" width="9" height="9" fill="#299ed1"/>
<rect x="268" y="108" width="9" height="9" fill="#27a1d1"/>
<rect x="276" y="108" width="9" height="9" fill="#26a3d0"/>
<rect x="284" y="108" width="9" height="9" fill="#25a4d0"/>
<rect x="292" y="108" width="9" height="9" fill="#26a3d1"/>
<rect x="300" y="108" width="9" height="9" fill="#27a0d1"/>
<rect x="308" y="108" width="9" height="9" fill="#2a9cd1"/>
<rect x="316" y="108" width="9" height="9" fill="#2d97d2"/>
<rect x="324" y="108" width="9" height="9" fill="#3091d2"/>
<rect x="332" y="108" width="9" height="9" fill="#348ad3"/>
<rect x="340" y="108" width="9" height="9" fill="#3982d4"/>
<rect x="348" y="108" width="9" height="9" fill="#3c7cd1"/>
<rect x="356" y="108" width="9" height="9" fill="#3e76cc"/>
<rect x="364" y="108" width="9" height="9" fill="#4170c8"/>
<rect x="372" y="108" width="9" height="9" fill="#436bc4"/>
<rect x="380" y="108" width="9" height="9" fill="#4665c0"/>
<rect x="388" y="108" width="9" height="9" fill="#4860bc"/>
<rect x="396" y="108" width="9" height="9" fill="#485db7"/>
<rect x="404" y="108" width="9" height="9" fill="#4859b2"/>
<rect x="412" y="108" width="9" height="9" fill="#4857ad"/>
<rect x="420" y="108" width="9" height="9" fill="#4854a9"/>
<rect x="428" y="108" width="9" height="9" fill="#4852a6"/>
<rect x="436" y="108" width="9" height="9" fill="#4850a3"/>
<rect x="444" y="108" width="9" height="9" fill="#484fa1"/>
<rect x="156" y="116" width="9" height="9" fill="#485fba"/>
<rect x="164" y="116" width="9" height="9" fill="#4762bd"/>
<rect x="172" y="116" width="9" height="9" fill="#4666c0"/>
<rect x="180" y="116" width="9" height="9" fill="#446ac3"/>
<rect x="188" y="116" width="9" height="9" fill="#426fc7"/>
<rect x="196" y="116" width="9" height="9" fill="#3f74cb"/>
<rect x="204" y="116" width="9" height="9" fill="#3d7acf"/>
<rect x="212" y="116" width="9" height="9" fill="#3a80d4"/>
<rect x="220" y="116" width="9" height="9" fill="#3687d3"/>
<rect x="228" y="116" width="9" height="9" fill="#328ed3"/>
<rect x="236" y="116" width="9" height="9" fill="#2e96d2"/>
<rect x="244" y="116" width="9" height="9" fill="#2a9cd1"/>
<rect x="252" y="116" width="9" height="9" fill="#26a3d1"/>
<rect x="260" y="116" width="9" height="9" fill="#23a8d0"/>
<rect x="268" y="116" width="9" height="9" fill="#2aabc7"/>
<rect x="276" y="116" width="9" height="9" fill="#2eadc1"/>
<rect x="284" y="116" width="9" height="9" fill="#30aebf"/>
<rect x="292" y="116" width="9" height="9" fill="#2eadc1"/>
<rect x="300" y="116" width="9" height="9" fill="#29abc8"/>
<rect x="308" y="116" width="9" height="9" fill="#24a7d0"/>
<rect x="316" y="116" width="9" height="9" fill="#27a1d1"/>
<rect x="324" y="116" width="9" height="9" fill="#2b9ad1"/>
<rect x="332" y="116" width="9" height="9" fill="#3092d2"/>
<rect x="340" y="116" width="9" height="9" fill="#3589d3"/>
<rect x="348" y="116" width="9" height="9" fill="#3a81d4"/>
<rect x="356" y="116" width="9" height="9" fill="#3d7acf"/>
<rect x="364" y="116" width="9" height="9" fill="#4073cb"/>
<rect x="372" y="116" width="9" height="9" fill="#426dc6"/>
<rect x="380" y="116" width="9" height="9" fill="#4568c2"/>
<rect x="388" y="116" width="9" height="9" fill="#4762be"/>
<rect x="396" y="116" width="9" height="9" fill="#485eb9"/>
<rect x="404" y="116" width="9" height="9" fill="#485ab3"/>
<rect x="412" y="116" width="9" height="9" fill="#4857ae"/>
<rect x="420" y="116" width="9" height="9" fill="#4855aa"/>
<rect x="428" y="116" width="9" height="9" fill="#4852a7"/>
<rect x="436" y="116" width="9" height="9" fill="#4850a4"/>
<rect x="444" y="116" width="9" height="9" fill="#484fa1"/>
<rect x="156" y="124" width="9" height="9" fill="#485fbb"/>
<rect x="164" y="124" width="9" height="9" fill="#4763be"/>
<rect x="172" y="124" width="9" height="9" fill="#4567c1"/>
<rect x="180" y="124" width="9" height="9" fill="#436cc5"/>
<rect x="188" y="124" width="9" height="9" fill="#4171c9"/>
<rect x="196" y="124" width="9" height="9" fill="#3e77cd"/>
<rect x="204" y="124" width="9" height="9" fill="#3b7dd2"/>
<rect x="212" y="124" width="9" height="9" fill="#3884d4"/>
<rect x="220" y="124" width="9" height="9" fill="#338cd3"/>
<rect x="228" y="124" width="9" height="9" fill="#2e95d2"/>
<rect x="236" y="124" width="9" height="9" fill="#299dd1"/>
<rect x="244" y="124" width="9" height="9" fill="#25a5d0"/>
<rect x="252" y="124" width="9" height="9" fill="#2aabc7"/>
<rect x="260" y="124" width="9" height="9" fill="#35b0b9"/>
<rect x="268" y="124" width="9" height="9" fill="#3eb4ad"/>
<rect x="276" y="124" width="9" height="9" fill="#45b7a5"/>
<rect x="284" y="124" width="9" height="9" fill="#47b8a1"/>
<rect x="292" y="124" width="9" height="9" fill="#46b8a3"/>
<rect x="300" y="124" width="9" height="9" fill="#40b5aa"/>
<rect x="308" y="124" width="9" height="9" fill="#37b1b7"/>
<rect x="316" y="124" width="9" height="9" fill="#2aabc7"/>
<rect x="324" y="124" width="9" height="9" fill="#26a3d0"/>
<rect x="332" y="124" width="9" height="9" fill="#2b9ad1"/>
<rect x="340" y="124" width="9" height="9" fill="#3190d2"/>
<rect x="348" y="124" width="9" height="9" fill="#3687d3"/>
<rect x="356" y="124" width="9" height="9" fill="#3b7ed2"/>
<rect x="364" y="124" width="9" height="9" fill="#3e77cd"/>
<rect x="372" y="124" width="9" height="9" fill="#4170c8"/>
<rect x="380" y="124" width="9" height="9" fill="#446ac3"/>
<rect x="388" y="124" width="9" height="9" fill="#4664bf"/>
<rect x="396" y="124" width="9" height="9" fill="#485fbb"/>
<rect x="404" y="124" width="9" height="9" fill="#485bb5"/>
<rect x="412" y="124" width="9" height="9" fill="#4858b0"/>
<rect x="420" y="124" width="9" height="9" fill="#4855ab"/>
<rect x="428" y="124" width="9" height="9" fill="#4853a7"/>
<rect x="436" y="124" width="9" height="9" fill="#4851a4"/>
<rect x="444" y="124" width="9" height="9" fill="#484fa1"/>
<rect x="156" y="132" width="9" height="9" fill="#4860bc"/>
<rect x="164" y="132" width="9" height="9" fill="#4664bf"/>
<rect x="172" y="132" width="9" height="9" fill="#4468c2"/>
<rect x="180" y="132" width="9" height="9" fill="#426ec6"/>
<rect x="188" y="132" width="9" height="9" fill="#4073ca"/>
<rect x="196" y="132" width="9" height="9" fill="#3d79cf"/>
<rect x="204" y="132" width="9" height="9" fill="#3a80d4"/>
<rect x="212" y="132" width="9" height="9" fill="#3589d3"/>
<rect x="220" y="132" width="9" height="9" fill="#3092d2"/>
<rect x="228" y="132" width="9" height="9" fill="#2b9bd1"/>
<rect x="236" y="132" width="9" height="9" fill="#25a4d0"/>
<rect x="244" y="132" width="9" height="9" fill="#2cacc5"/>
<rect x="252" y="132" width="9" height="9" fill="#3bb3b1"/>
<rect x="260" y="132" width="9" height="9" fill="#49b99e"/>
<rect x="268" y="132" width="9" height="9" fill="#5bbd8d"/>
<rect x="276" y="132" width="9" height="9" fill="#6ebf7f"/>
<rect x="284" y="132" width="9" height="9" fill="#77bf78"/>
<rect x="292" y="132" width="9" height="9" fill="#75bf79"/>
<rect x="300" y="132" width="9" height="9" fill="#68be84"/>
<rect x="308" y="132" width="9" height="9" fill="#50bc96"/>
<rect x="316" y="132" width="9" height="9" fill="#40b5aa"/>
<rect x="324" y="132" width="9" height="9" fill="#2eadc2"/>
<rect x="332" y="132" width="9" height="9" fill="#26a3d0"/>
<rect x="340" y="132" width="9" height="9" fill="#2c98d2"/>
<rect x="348" y="132" width="9" height="9" fill="#338dd3"/>
<rect x="356" y="132" width="9" height="9" fill="#3982d4"/>
<rect x="364" y="132" width="9" height="9" fill="#3d7acf"/>
<rect x="372" y="132" width="9" height="9" fill="#4073ca"/>
<rect x="380" y="132" width="9" height="9" fill="#436cc5"/>
<rect x="388" y="132" width="9" height="9" fill="#4566c0"/>
<rect x="396" y="132" width="9" height="9" fill="#4860bc"/>
<rect x="404" y="132" width="9" height="9" fill="#485cb6"/>
<rect x="412" y="132" width="9" height="9" fill="#4859b1"/>
<rect x="420" y="132" width="9" height="9" fill="#4856ac"/>
<rect x="428" y="132" width="9" height="9" fill="#4853a8"/>
<rect x="436" y="132" width="9" height="9" fill="#4851a4"/>
<rect x="444" y="132" width="9" height="9" fill="#484fa2"/>
<rect x="156" y="140" width="9" height="9" fill="#4861bd"/>
<rect x="164" y="140" width="9" height="9" fill="#4665c0"/>
<rect x="172" y="140" width="9" height="9" fill="#446ac3"/>
<rect x="180" y="140" width="9" height="9" fill="#416fc7"/>
<rect x="188" y="140" width="9" height="9" fill="#3f75cc"/>
<rect x="196" y="140" width="9" height="9" fill="#3c7cd1"/>
<rect x="204" y="140" width="9" height="9" fill="#3883d4"/>
<rect x="212" y="140" width="9" height="9" fill="#338dd3"/>
<rect x="220" y="140" width="9" height="9" fill="#2d96d2"/>
<rect x="228" y="140" width="9" height="9" fill="#27a0d1"/>
<rect x="236" y="140" width="9" height="9" fill="#28aac9"/>
<rect x="244" y="140" width="9" height="9" fill="#3bb3b1"/>
<rect x="252" y="140" width="9" height="9" fill="#4ebb99"/>
<rect x="260" y="140" width="9" height="9" fill="#70bf7d"/>
<rect x="268" y="140" width="9" height="9" fill="#91c263"/>
<rect x="276" y="140" width="9" height="9" fill="#abc450"/>
<rect x="284" y="140" width="9" height="9" fill="#b4c14d"/>
<rect x="292" y="140" width="9" height="9" fill="#b4c14d"/>
<rect x="300" y="140" width="9" height="9" fill="#aac450"/>
<rect x="308" y="140" width="9" height="9" fill="#8cc167"/>
<rect x="316" y="140" width="9" height="9" fill="#64be86"/>
<rect x="324" y="140" width="9" height="9" fill="#43b6a6"/>
<rect x="332" y="140" width="9" height="9" fill="#2cacc5"/>
<rect x="340" y="140" width="9" height="9" fill="#289fd1"/>
<rect x="348" y="140" width="9" height="9" fill="#2f93d2"/>
<rect x="356" y="140" width="9" height="9" fill="#3687d3"/>
<rect x="364" y="140" width="9" height="9" fill="#3b7dd2"/>
<rect x="372" y="140" width="9" height="9" fill="#3f75cc"/>
<rect x="380" y="140" width="9" height="9" fill="#426ec6"/>
<rect x="388" y="140" width="9" height="9" fill="#4567c1"/>
<rect x="396" y="140" width="9" height="9" fill="#4762bd"/>
<rect x="404" y="140" width="9" height="9" fill="#485db7"/>
<rect x="412" y="140" width="9" height="9" fill="#4859b2"/>
<rect x="420" y="140" width="9" height="9" fill="#4856ad"/>
<rect x="428" y="140" width="9" height="9" fill="#4853a8"/>
<rect x="436" y="140" width="9" height="9" fill="#4851a5"/>
<rect x="444" y="140" width="9" height="9" fill="#484fa2"/>
<rect x="156" y="148" width="9" height="9" fill="#4761bd"/>
<rect x="164" y="148" width="9" height="9" fill="#4566c0"/>
<rect x="172" y="148" width="9" height="9" fill="#436bc4"/>
<rect x="180" y="148" width="9" height="9" fill="#4170c8"/>
<rect x="188" y="148" width="9" height="9" fill="#3e77cd"/>
<rect x="196" y="148" width="9" height="9" fill="#3b7ed2"/>
<rect x="204" y="148" width="9" height="9" fill="#3686d3"/>
<rect x="212" y="148" width="9" height="9" fill="#3190d2"/>
<rect x="220" y="148" width="9" height="9" fill="#2b9bd1"/>
<rect x="228" y="148" width="9" height="9" fill="#24a6d0"/>
<rect x="236" y="148" width="9" height="9" fill="#34afbb"/>
<rect x="244" y="148" width="9" height="9" fill="#4ab99e"/>
<rect x="252" y="148" width="9" height="9" fill="#72bf7c"/>
<rect x="260" y="148" width="9" height="9" fill="#a1c357"/>
<rect x="268" y="148" width="9" height="9" fill="#c0bc4a"/>
<rect x="276" y="148" width="9" height="9" fill="#d6b444"/>
<rect x="284" y="148" width="9" height="9" fill="#e3b041"/>
<rect x="292" y="148" width="9" height="9" fill="#e5af40"/>
<rect x="300" y="148" width="9" height="9" fill="#d9b344"/>
<rect x="308" y="148" width="9" height="9" fill="#c2bb4a"/>
<rect x="316" y="148" width="9" height="9" fill="#9ec359"/>
<rect x="324" y="148" width="9" height="9" fill="#65be85"/>
<rect x="332" y="148" width="9" height="9" fill="#3eb4ae"/>
<rect x="340" y="148" width="9" height="9" fill="#23a7d0"/>
<rect x="348" y="148" width="9" height="9" fill="#2c98d2"/>
<rect x="356" y="148" width="9" height="9" fill="#348bd3"/>
<rect x="364" y="148" width="9" height="9" fill="#3a7fd4"/>
<rect x="372" y="148" width="9" height="9" fill="#3e77cd"/>
<rect x="380" y="148" width="9" height="9" fill="#416fc7"/>
<rect x="388" y="148" width="9" height="9" fill="#4469c2"/>
<rect x="396" y="148" width="9" height="9" fill="#4763be"/>
<rect x="404" y="148" width="9" height="9" fill="#485eb8"/>
<rect x="412" y="148" width="9" height="9" fill="#485ab2"/>
<rect x="420" y="148" width="9" height="9" fill="#4856ad"/>
<rect x="428" y="148" width="9" height="9" fill="#4854a9"/>
<rect x="436" y="148" width="9" height="9" fill="#4851a5"/>
<rect x="444" y="148" width="9" height="9" fill="#484fa2"/>
<rect x="156" y="156" width="9" height="9" fill="#4762bd"/>
<rect x="164" y="156" width="9" height="9" fill="#4566c1"/>
<rect x="172" y="156" width="9" height="9" fill="#436bc5"/>
<rect x="180" y="156" width="9" height="9" fill="#4071c9"/>
<rect x="188" y="156" width="9" height="9" fill="#3e78ce"/>
<rect x="196" y="156" width="9" height="9" fill="#3a7fd3"/>
<rect x="204" y="156" width="9" height="9" fill="#3588d3"/>
<rect x="212" y="156" width="9" height="9" fill="#2f93d2"/>
<rect x="220" y="156" width="9" height="9" fill="#299ed1"/>
<rect x="228" y="156" width="9" height="9" fill="#27aacb"/>
<rect x="236" y="156" width="9" height="9" fill="#3eb4ad"/>
<rect x="244" y="156" width="9" height="9" fill="#5fbd8a"/>
<rect x="252" y="156" width="9" height="9" fill="#97c25f"/>
<rect x="260" y="156" width="9" height="9" fill="#c3bb49"/>
<rect x="268" y="156" width="9" height="9" fill="#e7af40"/>
<rect x="276" y="156" width="9" height="9" fill="#f0b53a"/>
<rect x="284" y="156" width="9" height="9" fill="#f2bd37"/>
<rect x="292" y="156" width="9" height="9" fill="#f2be36"/>
<rect x="300" y="156" width="9" height="9" fill="#f1b839"/>
<rect x="308" y="156" width="9" height="9" fill="#eead3e"/>
<rect x="316" y="156" width="9" height="9" fill="#c9b948"/>
<rect x="324" y="156" width="9" height="9" fill="#95c260"/>
<rect x="332" y="156" width="9" height="9" fill="#4fbc97"/>
<rect x="340" y="156" width="9" height="9" fill="#2fadc1"/>
<rect x="348" y="156" width="9" height="9" fill="#299ed1"/>
<rect x="356" y="156" width="9" height="9" fill="#318fd3"/>
<rect x="364" y="156" width="9" height="9" fill="#3982d4"/>
<rect x="372" y="156" width="9" height="9" fill="#3d78ce"/>
<rect x="380" y="156" width="9" height="9" fill="#4171c8"/>
<rect x="388" y="156" width="9" height="9" fill="#4469c3"/>
<rect x="396" y="156" width="9" height="9" fill="#4763be"/>
<rect x="404" y="156" width="9" height="9" fill="#485eb9"/>
<rect x="412" y="156" width="9" height="9" fill="#485ab3"/>
<rect x="420" y="156" width="9" height="9" fill="#4857ad"/>
<rect x="428" y="156" width="9" height="9" fill="#4854a9"/>
<rect x="436" y="156" width="9" height="9" fill="#4851a5"/>
<rect x="444" y="156" width="9" height="9" fill="#484fa2"/>
<rect x="156" y="164" width="9" height="9" fill="#4762be"/>
<rect x="164" y="164" width="9" height="9" fill="#4567c1"/>
<rect x="172" y="164" width="9" height="9" fill="#436cc5"/>
<rect x="180" y="164" width="9" height="9" fill="#4072c9"/>
<rect x="188" y="164" width="9" height="9" fill="#3d79ce"/>
<rect x="196" y="164" width="9" height="9" fill="#3a80d4"/>
<rect x="204" y="164" width="9" height="9" fill="#348ad3"/>
<rect x="212" y="164" width="9" height="9" fill="#2e95d2"/>
<rect x="220" y="164" width="9" height="9" fill="#27a0d1"/>
<rect x="228" y="164" width="9" height="9" fill="#2dacc4"/>
<rect x="236" y="164" width="9" height="9" fill="#46b8a3"/>
<rect x="244" y="164" width="9" height="9" fill="#77bf78"/>
<rect x="252" y="164" width="9" height="9" fill="#b3c14e"/>
<rect x="260" y="164" width="9" height="9" fill="#dfb142"/>
<rect x="268" y="164" width="9" height="9" fill="#f1b839"/>
<rect x="276" y="164" width="9" height="9" fill="#f5c733"/>
<rect x="284" y="164" width="9" height="9" fill="#f6d02f"/>
<rect x="292" y="164" width="9" height="9" fill="#f6d22e"/>
<rect x="300" y="164" width="9" height="9" fill="#f6cc30"/>
<rect x="308" y="164" width="9" height="9" fill="#f2be36"/>
<rect x="316" y="164" width="9" height="9" fill="#ecad3f"/>
<rect x="324" y="164" width="9" height="9" fill="#b8bf4c"/>
<rect x="332" y="164" width="9" height="9" fill="#6ebf7e"/>
<rect x="340" y="164" width="9" height="9" fill="#3ab2b3"/>
<rect x="348" y="164" width="9" height="9" fill="#26a2d1"/>
<rect x="356" y="164" width="9" height="9" fill="#3092d2"/>
<rect x="364" y="164" width="9" height="9" fill="#3884d4"/>
<rect x="372" y="164" width="9" height="9" fill="#3d7acf"/>
<rect x="380" y="164" width="9" height="9" fill="#4071c9"/>
<rect x="388" y="164" width="9" height="9" fill="#446ac4"/>
<rect x="396" y="164" width="9" height="9" fill="#4664bf"/>
<rect x="404" y="164" width="9" height="9" fill="#485eb9"/>
<rect x="412" y="164" width="9" height="9" fill="#485ab3"/>
<rect x="420" y="164" width="9" height="9" fill="#4857ad"/>
<rect x="428" y="164" width="9" height="9" fill="#4854a9"/>
<rect x="436" y="164" width="9" height="9" fill="#4851a5"/>
<rect x="444" y="164" width="9" height="9" fill="#484fa2"/>
<rect x="156" y="172" width="9" height="9" fill="#4762be"/>
<rect x="164" y="172" width="9" height="9" fill="#4567c1"/>
<rect x="172" y="172" width="9" height="9" fill="#436cc5"/>
<rect x="180" y="172" width="9" height="9" fill="#4072ca"/>
<rect x="188" y="172" width="9" height="9" fill="#3d79cf"/>
<rect x="196" y="172" width="9" height="9" fill="#3a80d4"/>
<rect x="204" y="172" width="9" height="9" fill="#348ad3"/>
<rect x="212" y="172" width="9" height="9" fill="#2e96d2"/>
<rect x="220" y="172" width="9" height="9" fill="#27a2d1"/>
<rect x="228" y="172" width="9" height="9" fill="#30aebf"/>
<rect x="236" y="172" width="9" height="9" fill="#4bba9c"/>
<rect x="244" y="172" width="9" height="9" fill="#87c16b"/>
<rect x="252" y="172" width="9" height="9" fill="#c2bb4a"/>
<rect x="260" y="172" width="9" height="9" fill="#efaf3d"/>
<rect x="268" y="172" width="9" height="9" fill="#f4c334"/>
<rect x="276" y="172" width="9" height="9" fill="#f6d42d"/>
<rect x="284" y="172" width="9" height="9" fill="#f7de29"/>
<rect x="292" y="172" width="9" height="9" fill="#f7e128"/>
<rect x="300" y="172" width="9" height="9" fill="#f7da2b"/>
<rect x="308" y="172" width="9" height="9" fill="#f6cb31"/>
<rect x="316" y="172" width="9" height="9" fill="#f0b63a"/>
<rect x="324" y="172" width="9" height="9" fill="#ccb847"/>
<rect x="332" y="172" width="9" height="9" fill="#86c16c"/>
<rect x="340" y="172" width="9" height="9" fill="#42b6a9"/>
<rect x="348" y="172" width="9" height="9" fill="#25a5d0"/>
<rect x="356" y="172" width="9" height="9" fill="#2f94d2"/>
<rect x="364" y="172" width="9" height="9" fill="#3785d4"/>
<rect x="372" y="172" width="9" height="9" fill="#3d7ad0"/>
<rect x="380" y="172" width="9" height="9" fill="#4072c9"/>
<rect x="388" y="172" width="9" height="9" fill="#446ac4"/>
<rect x="396" y="172" width="9" height="9" fill="#4664bf"/>
<rect x="404" y="172" width="9" height="9" fill="#485eb9"/>
<rect x="412" y="172" width="9" height="9" fill="#485ab3"/>
<rect x="420" y="172" width="9" height="9" fill="#4857ad"/>
<rect x="428" y="172" width="9" height="9" fill="#4854a9"/>
<rect x="436" y="172" width="9" height="9" fill="#4851a5"/>
<rect x="444" y="172" width="9" height="9" fill="#484fa1"/>
<rect x="156" y="180" width="9" height="9" fill="#4762bd"/>
<rect x="164" y="180" width="9" height="9" fill="#4566c1"/>
<rect x="172" y="180" width="9" height="9" fill="#436cc5"/>
<rect x="180" y="180" width="9" height="9" fill="#4072c9"/>
<rect x="188" y="180" width="9" height="9" fill="#3d79ce"/>
<rect x="196" y="180" width="9" height="9" fill="#3a80d4"/>
<rect x="204" y="180" width="9" height="9" fill="#348ad3"/>
<rect x="212" y="180" width="9" height="9" fill="#2e95d2"/>
<rect x="220" y="180" width="9" height="9" fill="#27a2d1"/>
<rect x="228" y="180" width="9" height="9" fill="#31aebe"/>
<rect x="236" y="180" width="9" height="9" fill="#4dbb9a"/>
<rect x="244" y="180" width="9" height="9" fill="#8dc166"/>
<rect x="252" y="180" width="9" height="9" fill="#c9b948"/>
<rect x="260" y="180" width="9" height="9" fill="#f0b33b"/>
<rect x="268" y="180" width="9" height="9" fill="#f5c832"/>
<rect x="276" y="180" width="9" height="9" fill="#f7da2b"/>
<rect x="284" y="180" width="9" height="9" fill="#f8e527"/>
<rect x="292" y="180" width="9" height="9" fill="#f8e825"/>
<rect x="300" y="180" width="9" height="9" fill="#f7e128"/>
<rect x="308" y="180" width="9" height="9" fill="#f6d22e"/>
<rect x="316" y="180" width="9" height="9" fill="#f2bc37"/>
<rect x="324" y="180" width="9" height="9" fill="#d6b444"/>
<rect x="332" y="180" width="9" height="9" fill="#90c264"/>
<rect x="340" y="180" width="9" height="9" fill="#45b7a5"/>
<rect x="348" y="180" width="9" height="9" fill="#24a6d0"/>
<rect x="356" y="180" width="9" height="9" fill="#2f94d2"/>
<rect x="364" y="180" width="9" height="9" fill="#3785d4"/>
<rect x="372" y="180" width="9" height="9" fill="#3d7acf"/>
<rect x="380" y="180" width="9" height="9" fill="#4071c9"/>
<rect x="388" y="180" width="9" height="9" fill="#446ac3"/>
<rect x="396" y="180" width="9" height="9" fill="#4663bf"/>
<rect x="404" y="180" width="9" height="9" fill="#485eb9"/>
<rect x="412" y="180" width="9" height="9" fill="#485ab3"/>
<rect x="420" y="180" width="9" height="9" fill="#4856ad"/>
<rect x="428" y="180" width="9" height="9" fill="#4853a8"/>
<rect x="436" y="180" width="9" height="9" fill="#4851a4"/>
<rect x="444" y="180" width="9" height="9" fill="#484fa1"/>
<rect x="156" y="188" width="9" height="9" fill="#4761bd"/>
<rect x="164" y="188" width="9" height="9" fill="#4566c0"/>
<rect x="172" y="188" width="9" height="9" fill="#436bc4"/>
<rect x="180" y="188" width="9" height="9" fill="#4171c9"/>
<rect x="188" y="188" width="9" height="9" fill="#3e78ce"/>
<rect x="196" y="188" width="9" height="9" fill="#3a7fd3"/>
<rect x="204" y="188" width="9" height="9" fill="#3589d3"/>
<rect x="212" y="188" width="9" height="9" fill="#2e94d2"/>
<rect x="220" y="188" width="9" height="9" fill="#27a0d1"/>
<rect x="228" y="188" width="9" height="9" fill="#2eadc1"/>
<rect x="236" y="188" width="9" height="9" fill="#4aba9d"/>
<rect x="244" y="188" width="9" height="9" fill="#88c16b"/>
<rect x="252" y="188" width="9" height="9" fill="#c5bb49"/>
<rect x="260" y="188" width="9" height="9" fill="#efb13c"/>
<rect x="268" y="188" width="9" height="9" fill="#f4c733"/>
<rect x="276" y="188" width="9" height="9" fill="#f7d92c"/>
<rect x="284" y="188" width="9" height="9" fill="#f7e427"/>
<rect x="292" y="188" width="9" height="9" fill="#f8e726"/>
<rect x="300" y="188" width="9" height="9" fill="#f7e029"/>
<rect x="308" y="188" width="9" height="9" fill="#f6d02f"/>
<rect x="316" y="188" width="9" height="9" fill="#f1ba38"/>
<rect x="324" y="188" width="9" height="9" fill="#d3b645"/>
<rect x="332" y="188" width="9" height="9" fill="#8bc168"/>
<rect x="340" y="188" width="9" height="9" fill="#42b6a8"/>
<rect x="348" y="188" width="9" height="9" fill="#25a5d0"/>
<rect x="356" y="188" width="9" height="9" fill="#2f93d2"/>
<rect x="364" y="188" width="9" height="9" fill="#3884d4"/>
<rect x="372" y="188" width="9" height="9" fill="#3d79cf"/>
<rect x="380" y="188" width="9" height="9" fill="#4171c9"/>
<rect x="388" y="188" width="9" height="9" fill="#4469c3"/>
<rect x="396" y="188" width="9" height="9" fill="#4763be"/>
<rect x="404" y="188" width="9" height="9" fill="#485eb8"/>
<rect x="412" y="188" width="9" height="9" fill="#485ab2"/>
<rect x="420" y="188" width="9" height="9" fill="#4856ac"/>
<rect x="428" y="188" width="9" height="9" fill="#4853a8"/>
<rect x="436" y="188" width="9" height="9" fill="#4850a4"/>
<rect x="444" y="188" width="9" height="9" fill="#484ea1"/>
<rect x="156" y="196" width="9" height="9" fill="#4861bc"/>
<rect x="164" y="196" width="9" height="9" fill="#4665c0"/>
<rect x="172" y="196" width="9" height="9" fill="#446ac4"/>
<rect x="180" y="196" width="9" height="9" fill="#4170c8"/>
<rect x="188" y="196" width="9" height="9" fill="#3e77cd"/>
<rect x="196" y="196" width="9" height="9" fill="#3b7ed2"/>
<rect x="204" y="196" width="9" height="9" fill="#3687d3"/>
<rect x="212" y="196" width="9" height="9" fill="#3092d2"/>
<rect x="220" y="196" width="9" height="9" fill="#299ed1"/>
<rect x="228" y="196" width="9" height="9" fill="#29abc9"/>
<rect x="236" y="196" width="9" height="9" fill="#44b6a6"/>
<rect x="244" y="196" width="9" height="9" fill="#76bf78"/>
<rect x="252" y="196" width="9" height="9" fill="#b7bf4d"/>
<rect x="260" y="196" width="9" height="9" fill="#e8ae3f"/>
<rect x="268" y="196" width="9" height="9" fill="#f2be36"/>
<rect x="276" y="196" width="9" height="9" fill="#f6cf2f"/>
<rect x="284" y="196" width="9" height="9" fill="#f7da2b"/>
<rect x="292" y="196" width="9" height="9" fill="#f7dc2a"/>
<rect x="300" y="196" width="9" height="9" fill="#f7d52d"/>
<rect x="308" y="196" width="9" height="9" fill="#f4c733"/>
<rect x="316" y="196" width="9" height="9" fill="#efb23c"/>
<rect x="324" y="196" width="9" height="9" fill="#c2bc4a"/>
<rect x="332" y="196" width="9" height="9" fill="#76bf78"/>
<rect x="340" y="196" width="9" height="9" fill="#3ab2b2"/>
<rect x="348" y="196" width="9" height="9" fill="#27a1d1"/>
<rect x="356" y="196" width="9" height="9" fill="#3190d2"/>
<rect x="364" y="196" width="9" height="9" fill="#3982d4"/>
<rect x="372" y="196" width="9" height="9" fill="#3e78ce"/>
<rect x="380" y="196" width="9" height="9" fill="#416fc8"/>
<rect x="388" y="196" width="9" height="9" fill="#4468c2"/>
<rect x="396" y="196" width="9" height="9" fill="#4762bd"/>
<rect x="404" y="196" width="9" height="9" fill="#485db7"/>
<rect x="412" y="196" width="9" height="9" fill="#4859b1"/>
<rect x="420" y="196" width="9" height="9" fill="#4855ac"/>
<rect x="428" y="196" width="9" height="9" fill="#4853a7"/>
<rect x="436" y="196" width="9" height="9" fill="#4850a3"/>
<rect x="444" y="196" width="9" height="9" fill="#484ea0"/>
<rect x="156" y="204" width="9" height="9" fill="#4860bc"/>
<rect x="164" y="204" width="9" height="9" fill="#4664bf"/>
<rect x="172" y="204" width="9" height="9" fill="#4469c3"/>
<rect x="180" y="204" width="9" height="9" fill="#426fc7"/>
<rect x="188" y="204" width="9" height="9" fill="#3f75cc"/>
<rect x="196" y="204" width="9" height="9" fill="#3c7cd1"/>
<rect x="204" y="204" width="9" height="9" fill="#3884d4"/>
<rect x="212" y="204" width="9" height="9" fill="#328fd3"/>
<rect x="220" y="204" width="9" height="9" fill="#2b9ad1"/>
<rect x="228" y="204" width="9" height="9" fill="#24a7d0"/>
<rect x="236" y="204" width="9" height="9" fill="#39b2b4"/>
<rect x="244" y="204" width="9" height="9" fill="#5bbd8d"/>
<rect x="252" y="204" width="9" height="9" fill="#9bc35b"/>
<rect x="260" y="204" width="9" height="9" fill="#ccb847"/>
<rect x="268" y="204" width="9" height="9" fill="#efb03c"/>
<rect x="276" y="204" width="9" height="9" fill="#f3bf36"/>
<rect x="284" y="204" width="9" height="9" fill="#f5c832"/>
<rect x="292" y="204" width="9" height="9" fill="#f5ca31"/>
<rect x="300" y="204" width="9" height="9" fill="#f4c434"/>
<rect x="308" y="204" width="9" height="9" fill="#f0b63a"/>
<rect x="316" y="204" width="9" height="9" fill="#dab343"/>
<rect x="324" y="204" width="9" height="9" fill="#a5c454"/>
<rect x="332" y="204" width="9" height="9" fill="#55bc92"/>
<rect x="340" y="204" width="9" height="9" fill="#2eadc2"/>
<rect x="348" y="204" width="9" height="9" fill="#2a9cd1"/>
<rect x="356" y="204" width="9" height="9" fill="#338cd3"/>
<rect x="364" y="204" width="9" height="9" fill="#3b7fd3"/>
<rect x="372" y="204" width="9" height="9" fill="#3f76cc"/>
<rect x="380" y="204" width="9" height="9" fill="#426ec6"/>
<rect x="388" y="204" width="9" height="9" fill="#4567c1"/>
<rect x="396" y="204" width="9" height="9" fill="#4861bd"/>
<rect x="404" y="204" width="9" height="9" fill="#485cb6"/>
<rect x="412" y="204" width="9" height="9" fill="#4858b0"/>
<rect x="420" y="204" width="9" height="9" fill="#4855ab"/>
<rect x="428" y="204" width="9" height="9" fill="#4852a6"/>
<rect x="436" y="204" width="9" height="9" fill="#4850a3"/>
<rect x="444" y="204" width="9" height="9" fill="#484ea0"/>
<rect x="156" y="212" width="9" height="9" fill="#485fba"/>
<rect x="164" y="212" width="9" height="9" fill="#4763be"/>
<rect x="172" y="212" width="9" height="9" fill="#4567c2"/>
<rect x="180" y="212" width="9" height="9" fill="#426dc6"/>
<rect x="188" y="212" width="9" height="9" fill="#4073ca"/>
<rect x="196" y="212" width="9" height="9" fill="#3d79cf"/>
<rect x="204" y="212" width="9" height="9" fill="#3a81d4"/>
<rect x="212" y="212" width="9" height="9" fill="#348ad3"/>
<rect x="220" y="212" width="9" height="9" fill="#2e95d2"/>
<rect x="228" y="212" width="9" height="9" fill="#27a0d1"/>
<rect x="236" y="212" width="9" height="9" fill="#2cacc4"/>
<rect x="244" y="212" width="9" height="9" fill="#45b7a5"/>
<rect x="252" y="212" width="9" height="9" fill="#70bf7d"/>
<rect x="260" y="212" width="9" height="9" fill="#a9c451"/>
<rect x="268" y="212" width="9" height="9" fill="#ccb847"/>
<rect x="276" y="212" width="9" height="9" fill="#e9ae3f"/>
<rect x="284" y="212" width="9" height="9" fill="#efb13c"/>
<rect x="292" y="212" width="9" height="9" fill="#f0b33b"/>
<rect x="300" y="212" width="9" height="9" fill="#eead3d"/>
<rect x="308" y="212" width="9" height="9" fill="#d6b544"/>
<rect x="316" y="212" width="9" height="9" fill="#b0c24e"/>
<rect x="324" y="212" width="9" height="9" fill="#70bf7d"/>
<rect x="332" y="212" width="9" height="9" fill="#3eb4ad"/>
<rect x="340" y="212" width="9" height="9" fill="#25a5d0"/>
<rect x="348" y="212" width="9" height="9" fill="#2e95d2"/>
<rect x="356" y="212" width="9" height="9" fill="#3687d3"/>
<rect x="364" y="212" width="9" height="9" fill="#3c7cd1"/>
<rect x="372" y="212" width="9" height="9" fill="#4073ca"/>
<rect x="380" y="212" width="9" height="9" fill="#436cc5"/>
<rect x="388" y="212" width="9" height="9" fill="#4665c0"/>
<rect x="396" y="212" width="9" height="9" fill="#485fbb"/>
<rect x="404" y="212" width="9" height="9" fill="#485bb4"/>
<rect x="412" y="212" width="9" height="9" fill="#4857af"/>
<rect x="420" y="212" width="9" height="9" fill="#4854aa"/>
<rect x="428" y="212" width="9" height="9" fill="#4851a5"/>
<rect x="436" y="212" width="9" height="9" fill="#484fa2"/>
<rect x="444" y="212" width="9" height="9" fill="#484ea0"/>
<rect x="156" y="220" width="9" height="9" fill="#485eb9"/>
<rect x="164" y="220" width="9" height="9" fill="#4761bd"/>
<rect x="172" y="220" width="9" height="9" fill="#4566c0"/>
<rect x="180" y="220" width="9" height="9" fill="#436bc4"/>
<rect x="188" y="220" width="9" height="9" fill="#4170c8"/>
<rect x="196" y="220" width="9" height="9" fill="#3e77cd"/>
<rect x="204" y="220" width="9" height="9" fill="#3b7dd2"/>
<rect x="212" y="220" width="9" height="9" fill="#3786d3"/>
<rect x="220" y="220" width="9" height="9" fill="#318fd2"/>
<rect x="228" y="220" width="9" height="9" fill="#2b9ad1"/>
<rect x="236" y="220" width="9" height="9" fill="#25a5d0"/>
<rect x="244" y="220" width="9" height="9" fill="#32afbd"/>
<rect x="252" y="220" width="9" height="9" fill="#48b9a0"/>
<rect x="260" y="220" width="9" height="9" fill="#6ebf7f"/>
<rect x="268" y="220" width="9" height="9" fill="#98c25e"/>
<rect x="276" y="220" width="9" height="9" fill="#b5c04d"/>
<rect x="284" y="220" width="9" height="9" fill="#c2bc4a"/>
<rect x="292" y="220" width="9" height="9" fill="#c3bb49"/>
<rect x="300" y="220" width="9" height="9" fill="#b8bf4c"/>
<rect x="308" y="220" width="9" height="9" fill="#9ec35a"/>
<rect x="316" y="220" width="9" height="9" fill="#6ebf7f"/>
<rect x="324" y="220" width="9" height="9" fill="#44b6a6"/>
<rect x="332" y="220" width="9" height="9" fill="#28aaca"/>
<rect x="340" y="220" width="9" height="9" fill="#2a9bd1"/>
<rect x="348" y="220" width="9" height="9" fill="#328dd3"/>
<rect x="356" y="220" width="9" height="9" fill="#3981d4"/>
<rect x="364" y="220" width="9" height="9" fill="#3e78ce"/>
<rect x="372" y="220" width="9" height="9" fill="#4170c8"/>
<rect x="380" y="220" width="9" height="9" fill="#4469c3"/>
<rect x="388" y="220" width="9" height="9" fill="#4763be"/>
<rect x="396" y="220" width="9" height="9" fill="#485eb9"/>
<rect x="404" y="220" width="9" height="9" fill="#485ab3"/>
<rect x="412" y="220" width="9" height="9" fill="#4856ad"/>
<rect x="420" y="220" width="9" height="9" fill="#4853a8"/>
<rect x="428" y="220" width="9" height="9" fill="#4851a4"/>
<rect x="436" y="220" width="9" height="9" fill="#484fa1"/>
<rect x="444" y="220" width="9" height="9" fill="#484ea0"/>
<rect x="156" y="228" width="9" height="9" fill="#485db7"/>
<rect x="164" y="228" width="9" height="9" fill="#4860bb"/>
<rect x="172" y="228" width="9" height="9" fill="#4664bf"/>
<rect x="180" y="228" width="9" height="9" fill="#4469c2"/>
<rect x="188" y="228" width="9" height="9" fill="#426ec6"/>
<rect x="196" y="228" width="9" height="9" fill="#3f74cb"/>
<rect x="204" y="228" width="9" height="9" fill="#3d7acf"/>
<rect x="212" y="228" width="9" height="9" fill="#3a80d4"/>
<rect x="220" y="228" width="9" height="9" fill="#3589d3"/>
<rect x="228" y="228" width="9" height="9" fill="#3092d2"/>
<rect x="236" y="228" width="9" height="9" fill="#2a9cd1"/>
<rect x="244" y="228" width="9" height="9" fill="#24a6d0"/>
<rect x="252" y="228" width="9" height="9" fill="#31aebe"/>
<rect x="260" y="228" width="9" height="9" fill="#42b6a8"/>
<rect x="268" y="228" width="9" height="9" fill="#54bc93"/>
<rect x="276" y="228" width="9" height="9" fill="#6dbf80"/>
<rect x="284" y="228" width="9" height="9" fill="#7bc075"/>
<rect x="292" y="228" width="9" height="9" fill="#7bc074"/>
<rect x="300" y="228" width="9" height="9" fill="#6dbf80"/>
<rect x="308" y="228" width="9" height="9" fill="#51bc95"/>
<rect x="316" y="228" width="9" height="9" fill="#3eb4ad"/>
<rect x="324" y="228" width="9" height="9" fill="#28aac9"/>
<rect x="332" y="228" width="9" height="9" fill="#299ed1"/>
<rect x="340" y="228" width="9" height="9" fill="#3091d2"/>
<rect x="348" y="228" width="9" height="9" fill="#3786d3"/>
<rect x="356" y="228" width="9" height="9" fill="#3c7cd1"/>
<rect x="364" y="228" width="9" height="9" fill="#3f74cb"/>
<rect x="372" y="228" width="9" height="9" fill="#426dc6"/>
<rect x="380" y="228" width="9" height="9" fill="#4567c1"/>
<rect x="388" y="228" width="9" height="9" fill="#4861bd"/>
<rect x="396" y="228" width="9" height="9" fill="#485cb6"/>
<rect x="404" y="228" width="9" height="9" fill="#4859b0"/>
<rect x="412" y="228" width="9" height="9" fill="#4855ab"/>
<rect x="420" y="228" width="9" height="9" fill="#4852a7"/>
<rect x="428" y="228" width="9" height="9" fill="#4850a3"/>
<rect x="436" y="228" width="9" height="9" fill="#484ea0"/>
<rect x="444" y="228" width="9" height="9" fill="#484ea0"/>
<rect x="156" y="236" width="9" height="9" fill="#485bb5"/>
<rect x="164" y="236" width="9" height="9" fill="#485eb9"/>
<rect x="172" y="236" width="9" height="9" fill="#4762bd"/>
<rect x="180" y="236" width="9" height="9" fill="#4566c1"/>
<rect x="188" y="236" width="9" height="9" fill="#436bc4"/>
<rect x="196" y="236" width="9" height="9" fill="#4170c8"/>
<rect x="204" y="236" width="9" height="9" fill="#3e76cc"/>
<rect x="212" y="236" width="9" height="9" fill="#3c7cd1"/>
<rect x="220" y="236" width="9" height="9" fill="#3883d4"/>
<rect x="228" y="236" width="9" height="9" fill="#348bd3"/>
<rect x="236" y="236" width="9" height="9" fill="#2f93d2"/>
<rect x="244" y="236" width="9" height="9" fill="#2a9bd1"/>
<rect x="252" y="236" width="9" height="9" fill="#26a3d0"/>
<rect x="260" y="236" width="9" height="9" fill="#28aaca"/>
<rect x="268" y="236" width="9" height="9" fill="#33afbb"/>
<rect x="276" y="236" width="9" height="9" fill="#3cb3b0"/>
<rect x="284" y="236" width="9" height="9" fill="#40b5aa"/>
<rect x="292" y="236" width="9" height="9" fill="#40b5ab"/>
<rect x="300" y="236" width="9" height="9" fill="#3ab2b3"/>
<rect x="308" y="236" width="9" height="9" fill="#2fadc1"/>
<rect x="316" y="236" width="9" height="9" fill="#24a7d0"/>
<rect x="324" y="236" width="9" height="9" fill="#2a9dd1"/>
<rect x="332" y="236" width="9" height="9" fill="#3092d2"/>
<rect x="340" y="236" width="9" height="9" fill="#3688d3"/>
<rect x="348" y="236" width="9" height="9" fill="#3b7ed3"/>
<rect x="356" y="236" width="9" height="9" fill="#3e77cd"/>
<rect x="364" y="236" width="9" height="9" fill="#4170c8"/>
<rect x="372" y="236" width="9" height="9" fill="#446ac3"/>
<rect x="380" y="236" width="9" height="9" fill="#4664bf"/>
<rect x="388" y="236" width="9" height="9" fill="#485fba"/>
<rect x="396" y="236" width="9" height="9" fill="#485bb4"/>
<rect x="404" y="236" width="9" height="9" fill="#4857ae"/>
<rect x="412" y="236" width="9" height="9" fill="#4854a9"/>
<rect x="420" y="236" width="9" height="9" fill="#4851a5"/>
<rect x="428" y="236" width="9" height="9" fill="#484fa2"/>
<rect x="436" y="236" width="9" height="9" fill="#484ea0"/>
<rect x="444" y="236" width="9" height="9" fill="#484ea0"/>
<rect x="156" y="244" width="9" height="9" fill="#485ab3"/>
<rect x="164" y="244" width="9" height="9" fill="#485db7"/>
<rect x="172" y="244" width="9" height="9" fill="#4860bb"/>
<rect x="180" y="244" width="9" height="9" fill="#4664bf"/>
<rect x="188" y="244" width="9" height="9" fill="#4568c2"/>
<rect x="196" y="244" width="9" height="9" fill="#426dc6"/>
<rect x="204" y="244" width="9" height="9" fill="#4072c9"/>
<rect x="212" y="244" width="9" height="9" fill="#3e77cd"/>
<rect x="220" y="244" width="9" height="9" fill="#3b7dd2"/>
<rect x="228" y="244" width="9" height="9" fill="#3883d4"/>
<rect x="236" y="244" width="9" height="9" fill="#348ad3"/>
<rect x="244" y="244" width="9" height="9" fill="#3091d2"/>
<rect x="252" y="244" width="9" height="9" fill="#2d97d2"/>
<rect x="260" y="244" width="9" height="9" fill="#299dd1"/>
<rect x="268" y="244" width="9" height="9" fill="#26a2d1"/>
<rect x="276" y="244" width="9" height="9" fill="#24a5d0"/>
<rect x="284" y="244" width="9" height="9" fill="#24a7d0"/>
<rect x="292" y="244" width="9" height="9" fill="#24a6d0"/>
<rect x="300" y="244" width="9" height="9" fill="#26a3d0"/>
<rect x="308" y="244" width="9" height="9" fill="#299ed1"/>
<rect x="316" y="244" width="9" height="9" fill="#2c98d2"/>
<rect x="324" y="244" width="9" height="9" fill="#3190d2"/>
<rect x="332" y="244" width="9" height="9" fill="#3687d3"/>
<rect x="340" y="244" width="9" height="9" fill="#3a7fd3"/>
<rect x="348" y="244" width="9" height="9" fill="#3d78ce"/>
<rect x="356" y="244" width="9" height="9" fill="#4072ca"/>
<rect x="364" y="244" width="9" height="9" fill="#436cc5"/>
<rect x="372" y="244" width="9" height="9" fill="#4566c1"/>
<rect x="380" y="244" width="9" height="9" fill="#4861bd"/>
<rect x="388" y="244" width="9" height="9" fill="#485db7"/>
<rect x="396" y="244" width="9" height="9" fill="#4859b1"/>
<rect x="404" y="244" width="9" height="9" fill="#4856ac"/>
<rect x="412" y="244" width="9" height="9" fill="#4853a8"/>
<rect x="420" y="244" width="9" height="9" fill="#4850a4"/>
<rect x="428" y="244" width="9" height="9" fill="#484ea0"/>
<rect x="436" y="244" width="9" height="9" fill="#484ea0"/>
<rect x="444" y="244" width="9" height="9" fill="#484ea0"/>
<rect x="156" y="252" width="9" height="9" fill="#4859b1"/>
<rect x="164" y="252" width="9" height="9" fill="#485bb4"/>
<rect x="172" y="252" width="9" height="9" fill="#485eb8"/>
<rect x="180" y="252" width="9" height="9" fill="#4861bd"/>
<rect x="188" y="252" width="9" height="9" fill="#4665c0"/>
<rect x="196" y="252" width="9" height="9" fill="#4469c3"/>
<rect x="204" y="252" width="9" height="9" fill="#426ec6"/>
<rect x="212" y="252" width="9" height="9" fill="#4073ca"/>
<rect x="220" y="252" width="9" height="9" fill="#3e78ce"/>
<rect x="228" y="252" width="9" height="9" fill="#3c7cd1"/>
<rect x="236" y="252" width="9" height="9" fill="#3982d4"/>
<rect x="244" y="252" width="9" height="9" fill="#3687d3"/>
<rect x="252" y="252" width="9" height="9" fill="#338dd3"/>
<rect x="260" y="252" width="9" height="9" fill="#3091d2"/>
<rect x="268" y="252" width="9" height="9" fill="#2e95d2"/>
<rect x="276" y="252" width="9" height="9" fill="#2d97d2"/>
<rect x="284" y="252" width="9" height="9" fill="#2c98d2"/>
<rect x="292" y="252" width="9" height="9" fill="#2d97d2"/>
<rect x="300" y="252" width="9" height="9" fill="#2e94d2"/>
<rect x="308" y="252" width="9" height="9" fill="#3190d2"/>
<rect x="316" y="252" width="9" height="9" fill="#348bd3"/>
<rect x="324" y="252" width="9" height="9" fill="#3785d4"/>
<rect x="332" y="252" width="9" height="9" fill="#3b7ed3"/>
<rect x="340" y="252" width="9" height="9" fill="#3d79ce"/>
<rect x="348" y="252" width="9" height="9" fill="#4073ca"/>
<rect x="356" y="252" width="9" height="9" fill="#426dc6"/>
<rect x="364" y="252" width="9" height="9" fill="#4568c2"/>
<rect x="372" y="252" width="9" height="9" fill="#4763be"/>
<rect x="380" y="252" width="9" height="9" fill="#485eb9"/>
<rect x="388" y="252" width="9" height="9" fill="#485bb3"/>
<rect x="396" y="252" width="9" height="9" fill="#4857ae"/>
<rect x="404" y="252" width="9" height="9" fill="#4854aa"/>
<rect x="412" y="252" width="9" height="9" fill="#4852a6"/>
<rect x="420" y="252" width="9" height="9" fill="#484fa2"/>
<rect x="428" y="252" width="9" height="9" fill="#484ea0"/>
<rect x="436" y="252" width="9" height="9" fill="#484ea0"/>
<rect x="444" y="252" width="9" height="9" fill="#484ea0"/>
<rect x="156" y="260" width="9" height="9" fill="#4857af"/>
<rect x="164" y="260" width="9" height="9" fill="#485ab2"/>
<rect x="172" y="260" width="9" height="9" fill="#485cb6"/>
<rect x="180" y="260" width="9" height="9" fill="#485fba"/>
<rect x="188" y="260" width="9" height="9" fill="#4762bd"/>
<rect x="196" y="260" width="9" height="9" fill="#4666c0"/>
<rect x="204" y="260" width="9" height="9" fill="#446ac3"/>
<rect x="212" y="260" width="9" height="9" fill="#426ec7"/>
<rect x="220" y="260" width="9" height="9" fill="#4072ca"/>
<rect x="228" y="260" width="9" height="9" fill="#3e77cd"/>
<rect x="236" y="260" width="9" height="9" fill="#3c7bd0"/>
<rect x="244" y="260" width="9" height="9" fill="#3b7fd3"/>
<rect x="252" y="260" width="9" height="9" fill="#3883d4"/>
<rect x="260" y="260" width="9" height="9" fill="#3686d3"/>
<rect x="268" y="260" width="9" height="9" fill="#3589d3"/>
<rect x="276" y="260" width="9" height="9" fill="#348bd3"/>
<rect x="284" y="260" width="9" height="9" fill="#348bd3"/>
<rect x="292" y="260" width="9" height="9" fill="#348ad3"/>
<rect x="300" y="260" width="9" height="9" fill="#3588d3"/>
<rect x="308" y="260" width="9" height="9" fill="#3785d4"/>
<rect x="316" y="260" width="9" height="9" fill="#3a80d4"/>
<rect x="324" y="260" width="9" height="9" fill="#3c7cd1"/>
<rect x="332" y="260" width="9" height="9" fill="#3e77ce"/>
<rect x="340" y="260" width="9" height="9" fill="#4072ca"/>
<rect x="348" y="260" width="9" height="9" fill="#426ec6"/>
<rect x="356" y="260" width="9" height="9" fill="#4469c2"/>
<rect x="364" y="260" width="9" height="9" fill="#4664bf"/>
<rect x="372" y="260" width="9" height="9" fill="#485fbb"/>
<rect x="380" y="260" width="9" height="9" fill="#485cb5"/>
<rect x="388" y="260" width="9" height="9" fill="#4858b0"/>
<rect x="396" y="260" width="9" height="9" fill="#4855ab"/>
<rect x="404" y="260" width="9" height="9" fill="#4853a7"/>
<rect x="412" y="260" width="9" height="9" fill="#4850a4"/>
<rect x="420" y="260" width="9" height="9" fill="#484ea0"/>
<rect x="428" y="260" width="9" height="9" fill="#484ea0"/>
<rect x="436" y="260" width="9" height="9" fill="#484ea0"/>
<rect x="444" y="260" width="9" height="9" fill="#484ea0"/>
<rect x="156" y="268" width="9" height="9" fill="#4856ad"/>
<rect x="164" y="268" width="9" height="9" fill="#4858af"/>
<rect x="172" y="268" width="9" height="9" fill="#485ab3"/>
<rect x="180" y="268" width="9" height="9" fill="#485cb6"/>
<rect x="188" y="268" width="9" height="9" fill="#485fba"/>
<rect x="196" y="268" width="9" height="9" fill="#4762be"/>
<rect x="204" y="268" width="9" height="9" fill="#4566c0"/>
<rect x="212" y="268" width="9" height="9" fill="#446ac3"/>
<rect x="220" y="268" width="9" height="9" fill="#426dc6"/>
<rect x="228" y="268" width="9" height="9" fill="#4171c9"/>
<rect x="236" y="268" width="9" height="9" fill="#3f75cb"/>
<rect x="244" y="268" width="9" height="9" fill="#3e78ce"/>
<rect x="252" y="268" width="9" height="9" fill="#3c7bd0"/>
<rect x="260" y="268" width="9" height="9" fill="#3b7dd2"/>
<rect x="268" y="268" width="9" height="9" fill="#3b7fd3"/>
<rect x="276" y="268" width="9" height="9" fill="#3a80d4"/>
<rect x="284" y="268" width="9" height="9" fill="#3a80d4"/>
<rect x="292" y="268" width="9" height="9" fill="#3a7fd3"/>
<rect x="300" y="268" width="9" height="9" fill="#3b7ed2"/>
<rect x="308" y="268" width="9" height="9" fill="#3c7bd1"/>
<rect x="316" y="268" width="9" height="9" fill="#3d78ce"/>
<rect x="324" y="268" width="9" height="9" fill="#3f75cc"/>
<rect x="332" y="268" width="9" height="9" fill="#4171c9"/>
<rect x="340" y="268" width="9" height="9" fill="#426dc6"/>
<rect x="348" y="268" width="9" height="9" fill="#4468c2"/>
<rect x="356" y="268" width="9" height="9" fill="#4664bf"/>
<rect x="364" y="268" width="9" height="9" fill="#4860bc"/>
<rect x="372" y="268" width="9" height="9" fill="#485cb7"/>
<rect x="380" y="268" width="9" height="9" fill="#4859b2"/>
<rect x="388" y="268" width="9" height="9" fill="#4856ad"/>
<rect x="396" y="268" width="9" height="9" fill="#4854a9"/>
<rect x="404" y="268" width="9" height="9" fill="#4851a5"/>
<rect x="412" y="268" width="9" height="9" fill="#484fa2"/>
<rect x="420" y="268" width="9" height="9" fill="#484ea0"/>
<rect x="428" y="268" width="9" height="9" fill="#484ea0"/>
<rect x="436" y="268" width="9" height="9" fill="#484ea0"/>
<rect x="444" y="268" width="9" height="9" fill="#484ea0"/>
<rect x="156" y="276" width="9" height="9" fill="#4855ab"/>
<rect x="164" y="276" width="9" height="9" fill="#4856ad"/>
<rect x="172" y="276" width="9" height="9" fill="#4858b0"/>
<rect x="180" y="276" width="9" height="9" fill="#485ab3"/>
<rect x="188" y="276" width="9" height="9" fill="#485db7"/>
<rect x="196" y="276" width="9" height="9" fill="#485fba"/>
<rect x="204" y="276" width="9" height="9" fill="#4762bd"/>
<rect x="212" y="276" width="9" height="9" fill="#4665c0"/>
<rect x="220" y="276" width="9" height="9" fill="#4468c2"/>
<rect x="228" y="276" width="9" height="9" fill="#436cc5"/>
<rect x="236" y="276" width="9" height="9" fill="#426fc7"/>
<rect x="244" y="276" width="9" height="9" fill="#4072c9"/>
<rect x="252" y="276" width="9" height="9" fill="#3f74cb"/>
<rect x="260" y="276" width="9" height="9" fill="#3e76cc"/>
<rect x="268" y="276" width="9" height="9" fill="#3e77cd"/>
<rect x="276" y="276" width="9" height="9" fill="#3d78ce"/>
<rect x="284" y="276" width="9" height="9" fill="#3d78ce"/>
<rect x="292" y="276" width="9" height="9" fill="#3e77ce"/>
<rect x="300" y="276" width="9" height="9" fill="#3e76cd"/>
<rect x="308" y="276" width="9" height="9" fill="#3f74cb"/>
<rect x="316" y="276" width="9" height="9" fill="#4072c9"/>
<rect x="324" y="276" width="9" height="9" fill="#426ec7"/>
<rect x="332" y="276" width="9" height="9" fill="#436bc4"/>
<rect x="340" y="276" width="9" height="9" fill="#4567c2"/>
<rect x="348" y="276" width="9" height="9" fill="#4664bf"/>
<rect x="356" y="276" width="9" height="9" fill="#4860bc"/>
<rect x="364" y="276" width="9" height="9" fill="#485db7"/>
<rect x="372" y="276" width="9" height="9" fill="#485ab2"/>
<rect x="380" y="276" width="9" height="9" fill="#4857ae"/>
<rect x="388" y="276" width="9" height="9" fill="#4854aa"/>
<rect x="396" y="276" width="9" height="9" fill="#4852a6"/>
<rect x="404" y="276" width="9" height="9" fill="#4850a3"/>
<rect x="412" y="276" width="9" height="9" fill="#484ea0"/>
<rect x="420" y="276" width="9" height="9" fill="#484ea0"/>
<rect x="428" y="276" width="9" height="9" fill="#484ea0"/>
<rect x="436" y="276" width="9" height="9" fill="#484ea0"/>
<rect x="444" y="276" width="9" height="9" fill="#484ea0"/>
<rect x="156" y="284" width="9" height="9" fill="#4854a9"/>
<rect x="164" y="284" width="9" height="9" fill="#4855ab"/>
<rect x="172" y="284" width="9" height="9" fill="#4857ad"/>
<rect x="180" y="284" width="9" height="9" fill="#4858b0"/>
<rect x="188" y="284" width="9" height="9" fill="#485ab3"/>
<rect x="196" y="284" width="9" height="9" fill="#485cb6"/>
<rect x="204" y="284" width="9" height="9" fill="#485fba"/>
<rect x="212" y="284" width="9" height="9" fill="#4861bd"/>
<rect x="220" y="284" width="9" height="9" fill="#4664bf"/>
<rect x="228" y="284" width="9" height="9" fill="#4567c1"/>
<rect x="236" y="284" width="9" height="9" fill="#4469c3"/>
<rect x="244" y="284" width="9" height="9" fill="#436cc5"/>
<rect x="252" y="284" width="9" height="9" fill="#426ec6"/>
<rect x="260" y="284" width="9" height="9" fill="#416fc7"/>
<rect x="268" y="284" width="9" height="9" fill="#4170c8"/>
<rect x="276" y="284" width="9" height="9" fill="#4171c9"/>
<rect x="284" y="284" width="9" height="9" fill="#4171c9"/>
<rect x="292" y="284" width="9" height="9" fill="#4170c8"/>
<rect x="300" y="284" width="9" height="9" fill="#416fc7"/>
<rect x="308" y="284" width="9" height="9" fill="#426dc6"/>
<rect x="316" y="284" width="9" height="9" fill="#436bc4"/>
<rect x="324" y="284" width="9" height="9" fill="#4469c2"/>
<rect x="332" y="284" width="9" height="9" fill="#4666c0"/>
<rect x="340" y="284" width="9" height="9" fill="#4762be"/>
<rect x="348" y="284" width="9" height="9" fill="#485fbb"/>
<rect x="356" y="284" width="9" height="9" fill="#485db7"/>
<rect x="364" y="284" width="9" height="9" fill="#485ab2"/>
<rect x="372" y="284" width="9" height="9" fill="#4857ae"/>
<rect x="380" y="284" width="9" height="9" fill="#4855aa"/>
<rect x="388" y="284" width="9" height="9" fill="#4852a7"/>
<rect x="396" y="284" width="9" height="9" fill="#4850a4"/>
<rect x="404" y="284" width="9" height="9" fill="#484ea1"/>
<rect x="412" y="284" width="9" height="9" fill="#484ea0"/>
<rect x="420" y="284" width="9" height="9" fill="#484ea0"/>
<rect x="428" y="284" width="9" height="9" fill="#484ea0"/>
<rect x="436" y="284" width="9" height="9" fill="#484ea0"/>
<rect x="444" y="284" width="9" height="9" fill="#484ea0"/>
<rect x="156" y="292" width="9" height="9" fill="#4853a7"/>
<rect x="164" y="292" width="9" height="9" fill="#4854a9"/>
<rect x="172" y="292" width="9" height="9" fill="#4855ab"/>
<rect x="180" y="292" width="9" height="9" fill="#4856ad"/>
<rect x="188" y="292" width="9" height="9" fill="#4858b0"/>
<rect x="196" y="292" width="9" height="9" fill="#485ab2"/>
<rect x="204" y="292" width="9" height="9" fill="#485cb5"/>
<rect x="212" y="292" width="9" height="9" fill="#485eb8"/>
<rect x="220" y="292" width="9" height="9" fill="#4860bc"/>
<rect x="228" y="292" width="9" height="9" fill="#4762bd"/>
<rect x="236" y="292" width="9" height="9" fill="#4664bf"/>
<rect x="244" y="292" width="9" height="9" fill="#4566c1"/>
<rect x="252" y="292" width="9" height="9" fill="#4568c2"/>
<rect x="260" y="292" width="9" height="9" fill="#4469c3"/>
<rect x="268" y="292" width="9" height="9" fill="#446ac4"/>
<rect x="276" y="292" width="9" height="9" fill="#436bc4"/>
<rect x="284" y="292" width="9" height="9" fill="#436ac4"/>
<rect x="292" y="292" width="9" height="9" fill="#446ac3"/>
<rect x="300" y="292" width="9" height="9" fill="#4469c3"/>
<rect x="308" y="292" width="9" height="9" fill="#4567c2"/>
<rect x="316" y="292" width="9" height="9" fill="#4665c0"/>
<rect x="324" y="292" width="9" height="9" fill="#4763be"/>
<rect x="332" y="292" width="9" height="9" fill="#4861bc"/>
<rect x="340" y="292" width="9" height="9" fill="#485eb9"/>
<rect x="348" y="292" width="9" height="9" fill="#485cb5"/>
<rect x="356" y="292" width="9" height="9" fill="#4859b2"/>
<rect x="364" y="292" width="9" height="9" fill="#4857ae"/>
<rect x="372" y="292" width="9" height="9" fill="#4855aa"/>
<rect x="380" y="292" width="9" height="9" fill="#4853a7"/>
<rect x="388" y="292" width="9" height="9" fill="#4851a4"/>
<rect x="396" y="292" width="9" height="9" fill="#484fa1"/>
<rect x="404" y="292" width="9" height="9" fill="#484ea0"/>
<rect x="412" y="292" width="9" height="9" fill="#484ea0"/>
<rect x="420" y="292" width="9" height="9" fill="#484ea0"/>
<rect x="428" y="292" width="9" height="9" fill="#484ea0"/>
<rect x="436" y="292" width="9" height="9" fill="#484ea0"/>
<rect x="444" y="292" width="9" height="9" fill="#484ea0"/>
<rect x="156" y="300" width="9" height="9" fill="#4852a6"/>
<rect x="164" y="300" width="9" height="9" fill="#4852a7"/>
<rect x="172" y="300" width="9" height="9" fill="#4854a9"/>
<rect x="180" y="300" width="9" height="9" fill="#4855aa"/>
<rect x="188" y="300" width="9" height="9" fill="#4856ad"/>
<rect x="196" y="300" width="9" height="9" fill="#4858af"/>
<rect x="204" y="300" width="9" height="9" fill="#4859b1"/>
<rect x="212" y="300" width="9" height="9" fill="#485bb4"/>
<rect x="220" y="300" width="9" height="9" fill="#485cb6"/>
<rect x="228" y="300" width="9" height="9" fill="#485eb9"/>
<rect x="236" y="300" width="9" height="9" fill="#4860bb"/>
<rect x="244" y="300" width="9" height="9" fill="#4861bd"/>
<rect x="252" y="300" width="9" height="9" fill="#4762be"/>
<rect x="260" y="300" width="9" height="9" fill="#4664bf"/>
<rect x="268" y="300" width="9" height="9" fill="#4664bf"/>
<rect x="276" y="300" width="9" height="9" fill="#4665bf"/>
<rect x="284" y="300" width="9" height="9" fill="#4665bf"/>
<rect x="292" y="300" width="9" height="9" fill="#4664bf"/>
<rect x="300" y="300" width="9" height="9" fill="#4763be"/>
<rect x="308" y="300" width="9" height="9" fill="#4762bd"/>
<rect x="316" y="300" width="9" height="9" fill="#4860bc"/>
<rect x="324" y="300" width="9" height="9" fill="#485eba"/>
<rect x="332" y="300" width="9" height="9" fill="#485db7"/>
<rect x="340" y="300" width="9" height="9" fill="#485bb4"/>
<rect x="348" y="300" width="9" height="9" fill="#4859b0"/>
<rect x="356" y="300" width="9" height="9" fill="#4857ad"/>
<rect x="364" y="300" width="9" height="9" fill="#4854aa"/>
<rect x="372" y="300" width="9" height="9" fill="#4853a7"/>
<rect x="380" y="300" width="9" height="9" fill="#4851a4"/>
<rect x="388" y="300" width="9" height="9" fill="#484fa1"/>
<rect x="396" y="300" width="9" height="9" fill="#484ea0"/>
<rect x="404" y="300" width="9" height="9" fill="#484ea0"/>
<rect x="412" y="300" width="9" height="9" fill="#484ea0"/>
<rect x="420" y="300" width="9" height="9" fill="#484ea0"/>
<rect x="428" y="300" width="9" height="9" fill="#484ea0"/>
<rect x="436" y="300" width="9" height="9" fill="#484ea0"/>
<rect x="444" y="300" width="9" height="9" fill="#484ea0"/>
<rect x="156" y="308" width="9" height="9" fill="#4851a4"/>
<rect x="164" y="308" width="9" height="9" fill="#4851a5"/>
<rect x="172" y="308" width="9" height="9" fill="#4852a6"/>
<rect x="180" y="308" width="9" height="9" fill="#4853a8"/>
<rect x="188" y="308" width="9" height="9" fill="#4854aa"/>
<rect x="196" y="308" width="9" height="9" fill="#4855ac"/>
<rect x="204" y="308" width="9" height="9" fill="#4857ae"/>
<rect x="212" y="308" width="9" height="9" fill="#4858b0"/>
<rect x="220" y="308" width="9" height="9" fill="#4859b2"/>
<rect x="228" y="308" width="9" height="9" fill="#485bb4"/>
<rect x="236" y="308" width="9" height="9" fill="#485cb6"/>
<rect x="244" y="308" width="9" height="9" fill="#485db8"/>
<rect x="252" y="308" width="9" height="9" fill="#485eb9"/>
<rect x="260" y="308" width="9" height="9" fill="#485fba"/>
<rect x="268" y="308" width="9" height="9" fill="#485fbb"/>
<rect x="276" y="308" width="9" height="9" fill="#485fbb"/>
<rect x="284" y="308" width="9" height="9" fill="#485fbb"/>
<rect x="292" y="308" width="9" height="9" fill="#485fba"/>
<rect x="300" y="308" width="9" height="9" fill="#485eb9"/>
<rect x="308" y="308" width="9" height="9" fill="#485db8"/>
<rect x="316" y="308" width="9" height="9" fill="#485cb6"/>
<rect x="324" y="308" width="9" height="9" fill="#485bb4"/>
<rect x="332" y="308" width="9" height="9" fill="#4859b1"/>
<rect x="340" y="308" width="9" height="9" fill="#4857af"/>
<rect x="348" y="308" width="9" height="9" fill="#4856ac"/>
<rect x="356" y="308" width="9" height="9" fill="#4854a9"/>
<rect x="364" y="308" width="9" height="9" fill="#4852a7"/>
<rect x="372" y="308" width="9" height="9" fill="#4850a4"/>
<rect x="380" y="308" width="9" height="9" fill="#484fa1"/>
<rect x="388" y="308" width="9" height="9" fill="#484ea0"/>
<rect x="396" y="308" width="9" height="9" fill="#484ea0"/>
<rect x="404" y="308" width="9" height="9" fill="#484ea0"/>
<rect x="412" y="308" width="9" height="9" fill="#484ea0"/>
<rect x="420" y="308" width="9" height="9" fill="#484ea0"/>
<rect x="428" y="308" width="9" height="9" fill="#484ea0"/>
<rect x="436" y="308" width="9" height="9" fill="#484ea0"/>
<rect x="444" y="308" width="9" height="9" fill="#484ea0"/>
<rect x="156" y="316" width="9" height="9" fill="#4850a3"/>
<rect x="164" y="316" width="9" height="9" fill="#4850a4"/>
<rect x="172" y="316" width="9" height="9" fill="#4851a5"/>
<rect x="180" y="316" width="9" height="9" fill="#4852a6"/>
<rect x="188" y="316" width="9" height="9" fill="#4853a7"/>
<rect x="196" y="316" width="9" height="9" fill="#4854a9"/>
<rect x="204" y="316" width="9" height="9" fill="#4855aa"/>
<rect x="212" y="316" width="9" height="9" fill="#4856ac"/>
<rect x="220" y="316" width="9" height="9" fill="#4857ae"/>
<rect x="228" y="316" width="9" height="9" fill="#4858af"/>
<rect x="236" y="316" width="9" height="9" fill="#4859b1"/>
<rect x="244" y="316" width="9" height="9" fill="#485ab2"/>
<rect x="252" y="316" width="9" height="9" fill="#485ab3"/>
<rect x="260" y="316" width="9" height="9" fill="#485bb4"/>
<rect x="268" y="316" width="9" height="9" fill="#485bb5"/>
<rect x="276" y="316" width="9" height="9" fill="#485cb5"/>
<rect x="284" y="316" width="9" height="9" fill="#485bb5"/>
<rect x="292" y="316" width="9" height="9" fill="#485bb4"/>
<rect x="300" y="316" width="9" height="9" fill="#485ab3"/>
<rect x="308" y="316" width="9" height="9" fill="#485ab2"/>
<rect x="316" y="316" width="9" height="9" fill="#4859b0"/>
<rect x="324" y="316" width="9" height="9" fill="#4857af"/>
<rect x="332" y="316" width="9" height="9" fill="#4856ac"/>
<rect x="340" y="316" width="9" height="9" fill="#4855aa"/>
<rect x="348" y="316" width="9" height="9" fill="#4853a8"/>
<rect x="356" y="316" width="9" height="9" fill="#4852a6"/>
<rect x="364" y="316" width="9" height="9" fill="#4850a3"/>
<rect x="372" y="316" width="9" height="9" fill="#484fa1"/>
<rect x="380" y="316" width="9" height="9" fill="#484ea0"/>
<rect x="388" y="316" width="9" height="9" fill="#484ea0"/>
<rect x="396" y="316" width="9" height="9" fill="#484ea0"/>
<rect x="404" y="316" width="9" height="9" fill="#484ea0"/>
<rect x="412" y="316" width="9" height="9" fill="#484ea0"/>
<rect x="420" y="316" width="9" height="9" fill="#484ea0"/>
<rect x="428" y="316" width="9" height="9" fill="#484ea0"/>
<rect x="436" y="316" width="9" height="9" fill="#484ea0"/>
<rect x="444" y="316" width="9" height="9" fill="#484ea0"/>
<rect x="156" y="324" width="9" height="9" fill="#484fa2"/>
<rect x="164" y="324" width="9" height="9" fill="#484fa2"/>
<rect x="172" y="324" width="9" height="9" fill="#4850a3"/>
<rect x="180" y="324" width="9" height="9" fill="#4850a4"/>
<rect x="188" y="324" width="9" height="9" fill="#4851a5"/>
<rect x="196" y="324" width="9" height="9" fill="#4852a6"/>
<rect x="204" y="324" width="9" height="9" fill="#4853a7"/>
<rect x="212" y="324" width="9" height="9" fill="#4854a9"/>
<rect x="220" y="324" width="9" height="9" fill="#4854aa"/>
<rect x="228" y="324" width="9" height="9" fill="#4855ab"/>
<rect x="236" y="324" width="9" height="9" fill="#4856ac"/>
<rect x="244" y="324" width="9" height="9" fill="#4857ae"/>
<rect x="252" y="324" width="9" height="9" fill="#4857ae"/>
<rect x="260" y="324" width="9" height="9" fill="#4858af"/>
<rect x="268" y="324" width="9" height="9" fill="#4858b0"/>
<rect x="276" y="324" width="9" height="9" fill="#4858b0"/>
<rect x="284" y="324" width="9" height="9" fill="#4858af"/>
<rect x="292" y="324" width="9" height="9" fill="#4858af"/>
<rect x="300" y="324" width="9" height="9" fill="#4857ae"/>
<rect x="308" y="324" width="9" height="9" fill="#4856ad"/>
<rect x="316" y="324" width="9" height="9" fill="#4855ac"/>
<rect x="324" y="324" width="9" height="9" fill="#4854aa"/>
<rect x="332" y="324" width="9" height="9" fill="#4853a8"/>
<rect x="340" y="324" width="9" height="9" fill="#4852a6"/>
<rect x="348" y="324" width="9" height="9" fill="#4851a4"/>
<rect x="356" y="324" width="9" height="9" fill="#4850a2"/>
<rect x="364" y="324" width="9" height="9" fill="#484ea0"/>
<rect x="372" y="324" width="9" height="9" fill="#484ea0"/>
<rect x="380" y="324" width="9" height="9" fill="#484ea0"/>
<rect x="388" y="324" width="9" height="9" fill="#484ea0"/>
<rect x="396" y="324" width="9" height="9" fill="#484ea0"/>
<rect x="404" y="324" width="9" height="9" fill="#484ea0"/>
<rect x="412" y="324" width="9" height="9" fill="#484ea0"/>
<rect x="420" y="324" width="9" height="9" fill="#484ea0"/>
<rect x="428" y="324" width="9" height="9" fill="#484ea0"/>
<rect x="436" y="324" width="9" height="9" fill="#484ea0"/>
<rect x="444" y="324" width="9" height="9" fill="#484ea0"/>
<rect x="156" y="332" width="9" height="9" fill="#484ea0"/>
<rect x="164" y="332" width="9" height="9" fill="#484fa1"/>
<rect x="172" y="332" width="9" height="9" fill="#484fa1"/>
<rect x="180" y="332" width="9" height="9" fill="#484fa2"/>
<rect x="188" y="332" width="9" height="9" fill="#4850a3"/>
<rect x="196" y="332" width="9" height="9" fill="#4850a4"/>
<rect x="204" y="332" width="9" height="9" fill="#4851a5"/>
<rect x="212" y="332" width="9" height="9" fill="#4852a6"/>
<rect x="220" y="332" width="9" height="9" fill="#4852a7"/>
<rect x="228" y="332" width="9" height="9" fill="#4853a8"/>
<rect x="236" y="332" width="9" height="9" fill="#4854a9"/>
<rect x="244" y="332" width="9" height="9" fill="#4854a9"/>
<rect x="252" y="332" width="9" height="9" fill="#4855aa"/>
<rect x="260" y="332" width="9" height="9" fill="#4855ab"/>
<rect x="268" y="332" width="9" height="9" fill="#4855ab"/>
<rect x="276" y="332" width="9" height="9" fill="#4855ab"/>
<rect x="284" y="332" width="9" height="9" fill="#4855ab"/>
<rect x="292" y="332" width="9" height="9" fill="#4855aa"/>
<rect x="300" y="332" width="9" height="9" fill="#4854a9"/>
<rect x="308" y="332" width="9" height="9" fill="#4853a9"/>
<rect x="316" y="332" width="9" height="9" fill="#4853a7"/>
<rect x="324" y="332" width="9" height="9" fill="#4852a6"/>
<rect x="332" y="332" width="9" height="9" fill="#4851a4"/>
<rect x="340" y="332" width="9" height="9" fill="#4850a3"/>
<rect x="348" y="332" width="9" height="9" fill="#484fa1"/>
<rect x="356" y="332" width="9" height="9" fill="#484ea0"/>
<rect x="364" y="332" width="9" height="9" fill="#484ea0"/>
<rect x="372" y="332" width="9" height="9" fill="#484ea0"/>
<rect x="380" y="332" width="9" height="9" fill="#484ea0"/>
<rect x="388" y="332" width="9" height="9" fill="#484ea0"/>
<rect x="396" y="332" width="9" height="9" fill="#484ea0"/>
<rect x="404" y="332" width="9" height="9" fill="#484ea0"/>
<rect x="412" y="332" width="9" height="9" fill="#484ea0"/>
<rect x="420" y="332" width="9" height="9" fill="#484ea0"/>
<rect x="428" y="332" width="9" height="9" fill="#484ea0"/>
<rect x="436" y="332" width="9" height="9" fill="#484ea0"/>
<rect x="444" y="332" width="9" height="9" fill="#484ea0"/>
</g>
<path d="M177,73H428" stroke="#9cc8ee" stroke-width="1" opacity="0.6"/>
<path d="M176.5,78.5L177.5,77.4M191.9,78.5L193.6,76.9M207.3,78.5L209.9,76.4M222.7,78.5L226.4,76M238.1,78.5L242.9,75.9M253.5,78.5L259.1,76.3M268.9,78.5L274.9,77M284.3,78.5L290.2,77.8M299.7,78.5L305.1,78.6M315.1,78.5L319.7,79.3M330.5,78.5L334.1,79.6M345.9,78.5L348.6,79.7M361.3,78.5L363.2,79.6M376.7,78.5L377.9,79.4M392.1,78.5L393.1,79.4M407.5,78.5L408.4,79.4M422.9,78.5L423.8,79.5M176.5,93.5L178,91.7M191.9,93.5L194.4,90.8M207.3,93.5L211.1,89.9M222.7,93.5L228,89.4M238.1,93.5L244.8,89.3M253.5,93.5L261.2,89.9M268.9,93.5L277.1,91.1M284.3,93.5L292.2,92.4M299.7,93.5L306.8,93.7M315.1,93.5L321,94.6M330.5,93.5L335.1,95.1M345.9,93.5L349.3,95.3M361.3,93.5L363.7,95.1M376.7,93.5L378.3,94.9M392.1,93.5L393.1,94.5M407.5,93.5L408.3,94.5M422.9,93.5L423.7,94.5M176.5,108.5L178.4,105.6M191.9,108.5L195.1,104.2M207.3,108.5L212.2,103M222.7,108.5L229.5,102.2M238.1,108.5L246.6,102.2M253.5,108.5L263.2,103.2M268.9,108.5L278.9,105M284.3,108.5L293.8,107M299.7,108.5L308,108.8M315.1,108.5L321.9,110M330.5,108.5L335.7,110.7M345.9,108.5L349.8,110.9M361.3,108.5L364.1,110.7M376.7,108.5L378.6,110.4M392.1,108.5L393.3,109.9M407.5,108.5L408.3,109.6M422.9,108.5L423.6,109.6M176.5,123.5L178.8,119.2M191.9,123.5L195.7,117.3M207.3,123.5L213,115.6M222.7,123.5L230.5,114.5M238.1,123.5L247.8,114.7M253.5,123.5L264.4,116.2M268.9,123.5L280,118.7M284.3,123.5L294.6,121.5M299.7,123.5L308.4,123.9M315.1,123.5L321.9,125.4M330.5,123.5L335.7,126.2M345.9,123.5L349.7,126.4M361.3,123.5L364.1,126.3M376.7,123.5L378.6,125.9M392.1,123.5L393.4,125.4M407.5,123.5L408.3,124.8M422.9,123.5L423.5,124.7M176.5,138.5L178.9,132.8M191.9,138.5L195.8,130.2M207.3,138.5L213.1,127.9M222.7,138.5L230.6,126.6M238.1,138.5L247.9,126.8M253.5,138.5L264.5,128.8M268.9,138.5L280.1,132.2M284.3,138.5L294.4,135.9M299.7,138.5L307.8,138.9M315.1,138.5L321.1,140.7M330.5,138.5L334.9,141.5M345.9,138.5L349.2,141.7M361.3,138.5L363.7,141.7M376.7,138.5L378.5,141.3M392.1,138.5L393.3,140.8M407.5,138.5L408.2,140.2M422.9,138.5L423.4,139.7M176.5,153.5L178.6,146.3M191.9,153.5L195.3,143.2M207.3,153.5L212.4,140.4M222.7,153.5L229.6,138.7M238.1,153.5L246.6,139M253.5,153.5L263.2,141.3M268.9,153.5L278.9,145.3M284.3,153.5L293.4,150.2M299.7,153.5L306.4,154M315.1,153.5L319.5,155.8M330.5,153.5L333.6,156.5M345.9,153.5L348.3,156.9M361.3,153.5L363.2,157M376.7,153.5L378.1,156.7M392.1,153.5L393.1,156.2M407.5,153.5L408.1,155.5M422.9,153.5L423.3,154.8M176.5,168.5L177.8,160.2M191.9,168.5L194.1,156.5M207.3,168.5L210.6,153.3M222.7,168.5L227.2,151.3M238.1,168.5L243.8,151.3M253.5,168.5L260.2,153.6M268.9,168.5L276.3,157.8M284.3,168.5L291.7,163.7M299.7,168.5L304,169.1M315.1,168.5L317.5,170.7M330.5,168.5L332.2,171.5M345.9,168.5L347.3,172.1M361.3,168.5L362.5,172.3M376.7,168.5L377.6,172.2M392.1,168.5L392.7,171.6M407.5,168.5L407.9,170.9M422.9,168.5L423.1,170.1M176.5,183.5L176.8,174.5M191.9,183.5L192.5,170.6M207.3,183.5L208.1,167M222.7,183.5L223.8,164.7M238.1,183.5L239.5,164.5M253.5,183.5L255.3,166.5M268.9,183.5L271,170.1M284.3,183.5L286.2,178.1M299.7,183.5L300.8,184.2M315.1,183.5L315.6,185.5M330.5,183.5L330.9,186.8M345.9,183.5L346.3,187.5M361.3,183.5L361.6,187.9M376.7,183.5L376.9,187.7M392.1,183.5L392.3,187M407.5,183.5L407.6,186.2M422.9,183.5L423,185.3M176.5,198.5L175.7,189.5M191.9,198.5L190.6,185.5M207.3,198.5L205.3,181.8M222.7,198.5L220,179.4M238.1,198.5L234.6,179.1M253.5,198.5L249.3,181M268.9,198.5L263.7,184.6M284.3,198.5L279.1,192.2M299.7,198.5L296.9,199.2M315.1,198.5L313.5,201.2M330.5,198.5L329.4,202M345.9,198.5L345,202.7M361.3,198.5L360.6,202.9M376.7,198.5L376.1,202.7M392.1,198.5L391.7,202M407.5,198.5L407.2,201.1M422.9,198.5L422.8,200.3M176.5,213.5L174.7,205.1M191.9,213.5L188.9,201.3M207.3,213.5L202.8,197.7M222.7,213.5L216.5,195.4M238.1,213.5L230.1,195.1M253.5,213.5L243.9,197.2M268.9,213.5L257.9,201.4M284.3,213.5L272.7,207.7M299.7,213.5L290.4,214.5M315.1,213.5L310.1,217.1M330.5,213.5L327.4,217.6M345.9,213.5L343.6,217.9M361.3,213.5L359.6,217.9M376.7,213.5L375.4,217.5M392.1,213.5L391.2,216.8M407.5,213.5L406.9,216M422.9,213.5L422.6,215.1M176.5,228.5L174,221.2M191.9,228.5L187.8,217.8M207.3,228.5L201,214.7M222.7,228.5L214,212.6M238.1,228.5L227,212.3M253.5,228.5L240.3,214.3M268.9,228.5L254.4,218.5M284.3,228.5L269.9,224M299.7,228.5L287.5,229.3M315.1,228.5L306.8,232.2M330.5,228.5L324.9,233.1M345.9,228.5L342,233.2M361.3,228.5L358.5,232.9M376.7,228.5L374.7,232.4M392.1,228.5L390.8,231.6M407.5,228.5L406.7,230.7M422.9,228.5L422.4,229.9M176.5,243.5L173.8,237.6M191.9,243.5L187.3,234.9M207.3,243.5L200.3,232.2M222.7,243.5L212.9,230.4M238.1,243.5L225.6,230.2M253.5,243.5L238.7,231.9M268.9,243.5L252.8,235.4M284.3,243.5L268.4,239.9M299.7,243.5L285.6,244.2M315.1,243.5L304.5,247M330.5,243.5L322.9,248.1M345.9,243.5L340.6,248.2M361.3,243.5L357.6,247.8M376.7,243.5L374.2,247.1M392.1,243.5L390.5,246.2M407.5,243.5L406.5,245.4M422.9,243.5L422.4,244.7M176.5,258.5L174,254.1M191.9,258.5L187.6,252M207.3,258.5L200.6,250M222.7,258.5L213.2,248.5M238.1,258.5L225.9,248.3M253.5,258.5L239,249.5M268.9,258.5L253.1,252.2M284.3,258.5L268.5,255.6M299.7,258.5L285.3,259.1M315.1,258.5L303.6,261.5M330.5,258.5L321.9,262.6M345.9,258.5L339.8,262.7M361.3,258.5L357.1,262.3M376.7,258.5L374,261.6M392.1,258.5L390.4,260.8M407.5,258.5L406.5,260.1M422.9,258.5L422.3,259.6M176.5,273.5L174.4,270.5M191.9,273.5L188.3,269M207.3,273.5L201.6,267.5M222.7,273.5L214.6,266.4M238.1,273.5L227.5,266.2M253.5,273.5L240.8,267M268.9,273.5L254.9,268.9M284.3,273.5L270.1,271.4M299.7,273.5L286.5,273.9M315.1,273.5L304.3,275.8M330.5,273.5L322.2,276.8M345.9,273.5L339.9,276.9M361.3,273.5L357.2,276.6M376.7,273.5L374.1,276M392.1,273.5L390.5,275.3M407.5,273.5L406.6,274.7M422.9,273.5L422.2,274.6M176.5,288.5L174.9,286.6M191.9,288.5L189.2,285.7M207.3,288.5L203,284.7M222.7,288.5L216.5,283.9M238.1,288.5L229.9,283.7M253.5,288.5L243.5,284.2M268.9,288.5L257.8,285.4M284.3,288.5L272.9,287.1M299.7,288.5L289,288.8M315.1,288.5L306.1,290.1M330.5,288.5L323.5,290.8M345.9,288.5L340.8,291M361.3,288.5L357.8,290.7M376.7,288.5L374.5,290.3M392.1,288.5L390.8,289.8M407.5,288.5L406.6,289.5M422.9,288.5L422.1,289.5M176.5,303.5L175.5,302.4M191.9,303.5L190.1,301.8M207.3,303.5L204.4,301.2M222.7,303.5L218.4,300.7M238.1,303.5L232.4,300.6M253.5,303.5L246.5,300.9M268.9,303.5L261,301.6M284.3,303.5L276.1,302.6M299.7,303.5L291.9,303.7M315.1,303.5L308.4,304.5M330.5,303.5L325.2,305M345.9,303.5L342,305.1M361.3,303.5L358.7,305M376.7,303.5L375,304.7M392.1,303.5L391.1,304.3M407.5,303.5L406.6,304.4M422.9,303.5L422,304.5M176.5,318.5L175.5,317.6M191.9,318.5L190.8,317.6M207.3,318.5L205.5,317.3M222.7,318.5L220,317M238.1,318.5L234.5,316.9M253.5,318.5L249.1,317M268.9,318.5L263.8,317.4M284.3,318.5L279,318M299.7,318.5L294.6,318.6M315.1,318.5L310.7,319.1M330.5,318.5L327,319.4M345.9,318.5L343.3,319.5M361.3,318.5L359.5,319.4M376.7,318.5L375.6,319.2M392.1,318.5L391,319.3M407.5,318.5L406.5,319.3M422.9,318.5L422,319.4" stroke="#111" stroke-width="1.3" fill="none"/>
<path d="M209.9,76.4L208.7,78.8L207.3,77.1ZM226.4,76L224.8,78.6L223.3,76.5ZM242.9,75.9L240.8,78.7L239.4,76.2ZM259.1,76.3L256.6,78.9L255.5,76.1ZM274.9,77L272,79.3L271.3,76.3ZM290.2,77.8L287.1,79.7L286.8,76.7ZM305.1,78.6L301.9,80L302,77.2ZM319.7,79.3L316.6,80.1L317,77.5ZM334.1,79.6L331.3,80L332,77.7ZM194.4,90.8L193.5,93.5L191.7,91.9ZM211.1,89.9L209.8,93L207.9,91ZM228,89.4L226.2,92.8L224.2,90.3ZM244.8,89.3L242.4,92.9L240.6,89.9ZM261.2,89.9L258.3,93.3L256.8,90ZM277.1,91.1L273.7,94L272.7,90.5ZM292.2,92.4L288.6,94.7L288.1,91.2ZM306.8,93.7L303.1,95.2L303.2,92ZM321,94.6L317.5,95.5L318,92.5ZM335.1,95.1L331.9,95.4L332.8,92.9ZM349.3,95.3L346.4,95.1L347.5,93ZM178.4,105.6L178,108.3L176.1,107.1ZM195.1,104.2L194.4,107.5L192.1,105.9ZM212.2,103L211,106.9L208.5,104.6ZM229.5,102.2L227.7,106.5L225,103.7ZM246.6,102.2L244.2,106.5L241.8,103.3ZM263.2,103.2L260.2,107.2L258.2,103.6ZM278.9,105L275.3,108.4L274,104.5ZM293.8,107L289.8,109.6L289.2,105.7ZM308,108.8L303.9,110.4L304.1,106.9ZM321.9,110L318,110.8L318.7,107.7ZM335.7,110.7L332.2,110.8L333.3,108.1ZM349.8,110.9L346.7,110.5L348,108.3ZM364.1,110.7L361.3,110L362.8,108.2ZM178.8,119.2L178.6,122.5L176.2,121.2ZM195.7,117.3L195.2,121.3L192.4,119.6ZM213,115.6L212,120.3L208.8,118ZM230.5,114.5L229.1,119.3L226,116.6ZM247.8,114.7L245.8,119.2L243.1,116.2ZM264.4,116.2L261.8,120.4L259.5,117ZM280,118.7L276.7,122.3L275.1,118.6ZM294.6,121.5L290.6,124.3L289.8,120.4ZM308.4,123.9L304.2,125.5L304.4,121.8ZM321.9,125.4L318,126L318.9,122.9ZM335.7,126.2L332.1,126L333.5,123.4ZM349.7,126.4L346.6,125.7L348.2,123.6ZM364.1,126.3L361.3,125.2L363,123.5ZM378.6,125.9L376.3,124.7L377.9,123.3ZM178.9,132.8L179,136.4L176.2,135.3ZM195.8,130.2L195.7,134.9L192.3,133.3ZM213.1,127.9L212.7,132.9L209.2,130.9ZM230.6,126.6L229.8,131.5L226.4,129.2ZM247.9,126.8L246.5,131.6L243.4,129ZM264.5,128.8L262.5,133.3L259.8,130.3ZM280.1,132.2L277.2,136.1L275.2,132.6ZM294.4,135.9L290.6,139L289.5,135.1ZM307.8,138.9L303.8,140.5L304,137ZM321.1,140.7L317.4,141L318.4,138.1ZM334.9,141.5L331.6,140.9L333.1,138.6ZM349.2,141.7L346.2,140.6L348,138.8ZM363.7,141.7L361.1,140.3L363.1,138.8ZM378.5,141.3L376.2,139.8L378.1,138.6ZM178.6,146.3L179.1,150.4L175.9,149.5ZM195.3,143.2L195.8,148.1L192,146.8ZM212.4,140.4L212.6,145.3L208.8,143.8ZM229.6,138.7L229.5,143.7L225.8,142ZM246.6,139L246.1,143.9L242.6,141.8ZM263.2,141.3L262,146L258.8,143.5ZM278.9,145.3L276.7,149.7L274.2,146.6ZM293.4,150.2L289.9,153.5L288.6,149.8ZM306.4,154L302.8,155.3L303,152.2ZM319.5,155.8L316.2,155.6L317.5,153.2ZM333.6,156.5L330.7,155.5L332.5,153.7ZM348.3,156.9L345.7,155.4L347.7,153.9ZM363.2,157L360.8,155.2L363,154.1ZM378.1,156.7L376,154.9L378.1,153.9ZM177.8,160.2L179,164.4L175.4,163.9ZM194.1,156.5L195.3,161.3L191.3,160.6ZM210.6,153.3L211.6,158.1L207.7,157.2ZM227.2,151.3L228,156.1L224.1,155.1ZM243.8,151.3L244.3,156.2L240.4,155ZM260.2,153.6L260.2,158.6L256.5,156.9ZM276.3,157.8L275.4,162.7L272.1,160.4ZM291.7,163.7L289.2,167.5L287.2,164.4ZM304,169.1L301,170L301.4,167.5ZM317.5,170.7L314.9,169.9L316.5,168.2ZM332.2,171.5L330,169.8L331.9,168.7ZM347.3,172.1L345.2,170L347.4,169.2ZM362.5,172.3L360.5,170.1L362.8,169.4ZM377.6,172.2L375.8,169.9L378.1,169.3ZM392.7,171.6L391.2,169.4L393.3,169ZM176.8,174.5L178.6,178.8L174.8,178.6ZM192.5,170.6L194.3,175.1L190.2,175ZM208.1,167L209.9,171.6L205.9,171.4ZM223.8,164.7L225.6,169.3L221.5,169.1ZM239.5,164.5L241.2,169.2L237.2,168.9ZM255.3,166.5L256.8,171.2L252.8,170.8ZM271,170.1L272.3,174.9L268.3,174.2ZM286.2,178.1L286.5,181.6L283.8,180.7ZM330.9,186.8L329.5,184.5L331.7,184.2ZM346.3,187.5L344.8,184.9L347.2,184.7ZM361.6,187.9L360.1,185.1L362.7,185ZM376.9,187.7L375.5,185L378,184.8ZM392.3,187L391,184.5L393.3,184.4ZM175.7,189.5L178,193.5L174.2,193.8ZM190.6,185.5L193.1,189.7L189,190.1ZM205.3,181.8L207.9,186L203.9,186.5ZM220,179.4L222.6,183.6L218.6,184.1ZM234.6,179.1L237.4,183.2L233.4,183.9ZM249.3,181L252.3,184.9L248.4,185.8ZM263.7,184.6L267.2,188.1L263.4,189.6ZM279.1,192.2L283,194.1L280.2,196.4ZM313.5,201.2L313.8,198.5L315.7,199.6ZM329.4,202L329.1,199.2L331.3,199.9ZM345,202.7L344.4,199.7L346.8,200.2ZM360.6,202.9L359.8,199.9L362.3,200.3ZM376.1,202.7L375.3,199.8L377.7,200.1ZM391.7,202L390.8,199.4L393.1,199.6ZM174.7,205.1L177.4,208.7L173.8,209.4ZM188.9,201.3L192,205.2L188,206.1ZM202.8,197.7L206,201.5L202.1,202.6ZM216.5,195.4L219.9,199L216,200.3ZM230.1,195.1L233.8,198.5L230.1,200.1ZM243.9,197.2L248,200L244.5,202.1ZM257.9,201.4L262.5,203.4L259.5,206.1ZM272.7,207.7L277.6,207.9L275.8,211.5ZM290.4,214.5L294.5,212.1L294.9,216ZM310.1,217.1L311.9,213.9L313.7,216.4ZM327.4,217.6L328.1,214.3L330.3,216ZM343.6,217.9L343.8,214.6L346.2,215.9ZM359.6,217.9L359.4,214.7L361.9,215.7ZM375.4,217.5L375.1,214.5L377.4,215.3ZM391.2,216.8L390.8,214.1L393,214.7ZM174,221.2L176.9,224.3L173.6,225.3ZM187.8,217.8L191.3,221.3L187.5,222.8ZM201,214.7L204.7,217.9L201.1,219.6ZM214,212.6L217.9,215.5L214.4,217.5ZM227,212.3L231.2,214.9L227.9,217.2ZM240.3,214.3L244.9,216.3L241.9,219ZM254.4,218.5L259.3,219.4L257,222.7ZM269.9,224L274.8,223.4L273.6,227.3ZM287.5,229.3L291.8,227L292.1,231ZM306.8,232.2L309.9,228.8L311.4,232.2ZM324.9,233.1L326.7,229.5L328.8,232ZM342,233.2L343,229.7L345.3,231.6ZM358.5,232.9L359,229.6L361.3,231.1ZM374.7,232.4L374.9,229.3L377.1,230.4ZM390.8,231.6L390.7,228.8L392.8,229.7ZM173.8,237.6L176.6,240.1L173.8,241.4ZM187.3,234.9L191.2,237.9L187.6,239.7ZM200.3,232.2L204.4,235L201,237.1ZM212.9,230.4L217.2,232.8L214,235.2ZM225.6,230.2L230.1,232.1L227.2,234.9ZM238.7,231.9L243.5,233.1L241,236.3ZM252.8,235.4L257.8,235.6L255.9,239.2ZM268.4,239.9L273.2,238.9L272.3,242.8ZM285.6,244.2L290,241.9L290.2,246ZM304.5,247L308.1,243.6L309.4,247.5ZM322.9,248.1L325.5,244.3L327.4,247.5ZM340.6,248.2L342.2,244.6L344.4,247ZM357.6,247.8L358.6,244.4L360.8,246.3ZM374.2,247.1L374.8,244.1L376.8,245.5ZM390.5,246.2L390.8,243.6L392.7,244.7ZM174,254.1L176.6,256.1L174.3,257.4ZM187.6,252L191.1,254.3L188.3,256.2ZM200.6,250L205,252.2L201.8,254.7ZM213.2,248.5L217.8,250.4L214.8,253.2ZM225.9,248.3L230.6,249.6L228,252.7ZM239,249.5L243.9,250.2L241.7,253.6ZM253.1,252.2L258,252L256.5,255.7ZM268.5,255.6L273.2,254.5L272.5,258.4ZM285.3,259.1L289.7,256.9L289.8,260.9ZM303.6,261.5L307.5,258.4L308.5,262.3ZM321.9,262.6L325,258.9L326.7,262.5ZM339.8,262.7L341.9,259.2L343.8,262ZM357.1,262.3L358.5,259.1L360.5,261.2ZM374,261.6L374.8,258.7L376.7,260.4ZM174.4,270.5L176.8,272L174.9,273.3ZM188.3,269L191.4,270.6L189.2,272.4ZM201.6,267.5L205.6,269.2L203.1,271.6ZM214.6,266.4L219.3,267.9L216.6,270.9ZM227.5,266.2L232.3,267.1L230,270.4ZM240.8,267L245.7,267.3L243.9,270.9ZM254.9,268.9L259.8,268.4L258.6,272.2ZM270.1,271.4L274.9,270.1L274.3,274.1ZM286.5,273.9L291,271.8L291.1,275.8ZM304.3,275.8L308.2,272.9L309.1,276.8ZM322.2,276.8L325.4,273.5L326.8,277ZM339.9,276.9L342.2,273.8L343.8,276.5ZM357.2,276.6L358.8,273.7L360.5,275.8ZM374.1,276L375.2,273.4L376.7,275.1ZM189.2,285.7L191.9,286.8L190.2,288.4ZM203,284.7L206.4,285.7L204.4,287.9ZM216.5,283.9L220.6,284.8L218.5,287.6ZM229.9,283.7L234.6,284.2L232.6,287.6ZM243.5,284.2L248.5,284.1L246.9,287.8ZM257.8,285.4L262.7,284.7L261.6,288.6ZM272.9,287.1L277.6,285.6L277.1,289.6ZM289,288.8L293.4,286.6L293.5,290.7ZM306.1,290.1L309.9,287.5L310.6,291.3ZM323.5,290.8L326.5,288.1L327.5,291.3ZM340.8,291L343,288.3L344.3,290.9ZM357.8,290.7L359.4,288.2L360.8,290.3ZM204.4,301.2L207.2,301.9L205.7,303.8ZM218.4,300.7L221.7,301.2L220.2,303.5ZM232.4,300.6L236.1,300.8L234.7,303.5ZM246.5,300.9L250.6,300.6L249.4,303.8ZM261,301.6L265.2,300.8L264.4,304.2ZM276.1,302.6L280.2,301.3L279.8,304.8ZM291.9,303.7L295.7,301.9L295.8,305.3ZM308.4,304.5L311.7,302.4L312.1,305.6ZM325.2,305L327.8,302.8L328.6,305.5ZM342,305.1L344.1,302.9L345.1,305.2ZM358.7,305L360.2,302.9L361.3,304.7ZM220,317L222.7,317.2L221.6,319.1ZM234.5,316.9L237.5,316.9L236.5,319.1ZM249.1,317L252.2,316.7L251.4,319.2ZM263.8,317.4L267.1,316.7L266.5,319.4ZM279,318L282.2,316.9L281.9,319.7ZM294.6,318.6L297.6,317.2L297.7,319.9ZM310.7,319.1L313.3,317.5L313.7,320ZM327,319.4L329.2,317.6L329.8,319.9Z" fill="#111"/>
</g>
<rect x="203.5" y="339" width="44" height="6.5" fill="#000"/>
<text x="223" y="384" text-anchor="middle" class="sb">3 µm</text>
<path d="M153.3,464.4 C159.4,462.9 178.2,458.4 190,455.5 C201.8,452.6 213,449.1 223.8,446.8 C234.6,444.6 245.9,442.9 255,442 C264.1,441.1 271.7,440.9 278.3,441.1 C284.9,441.3 289.3,442 294.8,443.2 C300.3,444.4 306.5,446 311.3,448.4 C316.1,450.8 319.6,454 323.7,457.6 C327.8,461.2 331.5,466.4 336,470 C340.5,473.6 346,478.6 350.5,479.3 C355,480 358.8,477.5 362.9,474.2 C367,470.9 371.5,465.9 375.3,459.7 C379.1,453.5 381.8,446.6 385.6,437 C389.4,427.4 394.6,411.2 398,401.9 C401.4,392.6 403.4,386.1 406.2,381.3 C408.9,376.5 410.7,375.6 414.5,373 C418.3,370.4 424.4,368.6 428.9,365.8 C433.4,363.1 436.8,360.5 441.3,356.5 C445.8,352.5 451.4,346.9 455.8,342 C460.2,337.1 462.6,333.2 467.8,327 C473,320.8 479.9,310.7 487.2,304.7 C494.5,298.7 505.4,295.2 511.9,290.8 C518.4,286.4 519.2,284.1 525.9,278.4 C532.6,272.7 542.2,266.5 552.2,256.7 C562.2,246.9 575.4,234 586.2,219.6 C597,205.2 606.4,188.1 617.2,170 C628,151.9 641.9,125.1 651.2,111.2 C660.5,97.3 666.2,94.9 672.9,86.4 C679.6,77.9 686.5,64.9 691.5,60.1 C696.5,55.3 699.4,57.8 703,57.5 C706.6,57.2 710.4,57.5 713.2,58.6 C716,59.7 718.1,60.4 720,64 C721.9,67.6 723.1,68.5 724.5,80 C725.9,91.5 726.9,103.5 728.6,132.9 C730.3,162.3 732.3,214.8 734.8,256.7 C737.2,298.6 740.8,354.9 743.3,384.5 C745.8,414.1 747.3,421 749.8,434.4 C752.3,447.8 754.5,457.1 758.5,464.7 C762.5,472.3 767.2,476.3 773.7,479.9 C780.2,483.5 788.1,484.7 797.5,486.4 C806.9,488.1 819.6,489.4 830,490.2 C840.4,491 848.4,490.9 860,491.2 C871.6,491.5 892.8,491.7 899.4,491.8" stroke="#a61c3c" stroke-width="6.5" fill="none" stroke-linecap="round" stroke-linejoin="round"/>
<rect x="130.6" y="708" width="356" height="29.3" fill="url(#cbE)" stroke="#555" stroke-width="1.3"/>
<path d="M175.1,708v6M219.6,708v6M264.1,708v6M308.6,708v6M353.1,708v6M397.6,708v6M442.1,708v6" stroke="#444" stroke-width="1.2"/>
<rect x="567.4" y="706.3" width="356" height="31" fill="url(#cbS)" stroke="#555" stroke-width="1.3"/>
<path d="M611.9,706.3v6M656.4,706.3v6M700.9,706.3v6M745.4,706.3v6M789.9,706.3v6M834.4,706.3v6M878.9,706.3v6" stroke="#444" stroke-width="1.2"/>
<text x="124" y="689" text-anchor="middle" class="cbt" textLength="28" lengthAdjust="spacingAndGlyphs">-1</text>
<text x="487.5" y="689" text-anchor="middle" class="cbt" textLength="33" lengthAdjust="spacingAndGlyphs">+1</text>
<text x="571" y="689" text-anchor="middle" class="cbt" textLength="48" lengthAdjust="spacingAndGlyphs">-10</text>
<text x="934" y="689" text-anchor="middle" class="cbt" textLength="53" lengthAdjust="spacingAndGlyphs">+10</text>
<text y="675.6" class="ser"><tspan x="194" font-style="italic">E</tspan><tspan x="219" y="685" font-style="italic" font-size="34">z</tspan><tspan x="251" y="675.6">(MV</tspan><tspan x="343">m</tspan><tspan x="378" y="661" font-size="37">−</tspan><tspan x="402" y="658" font-size="28">1</tspan><tspan x="422" y="675.6">)</tspan></text>
<text y="675.6" class="ser"><tspan x="630" font-style="italic">S</tspan><tspan x="652" y="685" font-style="italic" font-size="34">z</tspan><tspan x="684" y="675.6">(GW</tspan><tspan x="780">m</tspan><tspan x="814" y="661" font-size="37">−</tspan><tspan x="839" y="658" font-size="28">2</tspan><tspan x="860" y="675.6">)</tspan></text>
<path d="M292.4,1457.5L292.4,767.5M334.6,1457.5L334.6,767.5M271.4,1470.9L271.4,780.9M355.6,1470.9L355.6,780.9M250.3,1484.4L250.3,794.4M376.7,1484.4L376.7,794.4M229.2,1497.9L229.2,807.9M397.8,1497.9L397.8,807.9M208.2,1511.3L208.2,821.3M418.8,1511.3L418.8,821.3M187.1,1524.8L187.1,834.8M439.9,1524.8L439.9,834.8M166,1538.3L166,848.3M461,1538.3L461,848.3M166,1551.7L324,1450.7M324,1639.3L166,1538.3M187.1,1565.2L345.1,1464.2M345.1,1625.8L187.1,1524.8M208.2,1578.7L366.2,1477.7M366.2,1612.3L208.2,1511.3M229.2,1592.1L387.2,1491.1M387.2,1598.9L229.2,1497.9M250.3,1605.6L408.3,1504.6M408.3,1585.4L250.3,1484.4M271.4,1619.1L429.4,1518.1M429.4,1571.9L271.4,1470.9M292.4,1632.5L450.4,1531.5M450.4,1558.5L292.4,1457.5M155.5,1487.5L313.5,1386.5L471.5,1487.5M155.5,1430L313.5,1329L471.5,1430M155.5,1372.5L313.5,1271.5L471.5,1372.5M155.5,1315L313.5,1214L471.5,1315M155.5,1257.5L313.5,1156.5L471.5,1257.5M155.5,1200L313.5,1099L471.5,1200M155.5,1142.5L313.5,1041.5L471.5,1142.5M155.5,1085L313.5,984L471.5,1085M155.5,1027.5L313.5,926.5L471.5,1027.5M155.5,970L313.5,869L471.5,970M155.5,912.5L313.5,811.5L471.5,912.5" stroke="#dcdcdc" stroke-width="1.1" fill="none"/>
<path d="M155.5,855L313.5,754L471.5,855M155.5,855L155.5,1545M471.5,855L471.5,1545M313.5,754L313.5,1444M155.5,1545L313.5,1444L471.5,1545M155.5,1545L313.5,1646L471.5,1545M155.5,1487.5l-15,-9M155.5,1430l-15,-9M155.5,1372.5l-15,-9M155.5,1315l-15,-9M155.5,1257.5l-15,-9M155.5,1200l-15,-9M155.5,1142.5l-15,-9M155.5,1085l-15,-9M155.5,1027.5l-15,-9M155.5,970l-15,-9M155.5,912.5l-15,-9M155.5,855l-15,-9M166,1551.7l-12,7.7M324,1639.3l12,7.7M187.1,1565.2l-12,7.7M345.1,1625.8l12,7.7M208.2,1578.7l-12,7.7M366.2,1612.3l12,7.7M229.2,1592.1l-12,7.7M387.2,1598.9l12,7.7M250.3,1605.6l-12,7.7M408.3,1585.4l12,7.7M271.4,1619.1l-12,7.7M429.4,1571.9l12,7.7M292.4,1632.5l-12,7.7M450.4,1558.5l12,7.7M313.5,1646l-12,7.7M471.5,1545l12,7.7" stroke="#4a4a4a" stroke-width="1.5" fill="none"/>
<path d="M726.9,1461.5L726.9,771.5M769.1,1461.5L769.1,771.5M705.9,1474.9L705.9,784.9M790.1,1474.9L790.1,784.9M684.8,1488.4L684.8,798.4M811.2,1488.4L811.2,798.4M663.7,1501.9L663.7,811.9M832.3,1501.9L832.3,811.9M642.7,1515.3L642.7,825.3M853.3,1515.3L853.3,825.3M621.6,1528.8L621.6,838.8M874.4,1528.8L874.4,838.8M600.5,1542.3L600.5,852.3M895.5,1542.3L895.5,852.3M600.5,1555.7L758.5,1454.7M758.5,1643.3L600.5,1542.3M621.6,1569.2L779.6,1468.2M779.6,1629.8L621.6,1528.8M642.7,1582.7L800.7,1481.7M800.7,1616.3L642.7,1515.3M663.7,1596.1L821.7,1495.1M821.7,1602.9L663.7,1501.9M684.8,1609.6L842.8,1508.6M842.8,1589.4L684.8,1488.4M705.9,1623.1L863.9,1522.1M863.9,1575.9L705.9,1474.9M726.9,1636.5L884.9,1535.5M884.9,1562.5L726.9,1461.5M590,1491.5L748,1390.5L906,1491.5M590,1434L748,1333L906,1434M590,1376.5L748,1275.5L906,1376.5M590,1319L748,1218L906,1319M590,1261.5L748,1160.5L906,1261.5M590,1204L748,1103L906,1204M590,1146.5L748,1045.5L906,1146.5M590,1089L748,988L906,1089M590,1031.5L748,930.5L906,1031.5M590,974L748,873L906,974M590,916.5L748,815.5L906,916.5" stroke="#dcdcdc" stroke-width="1.1" fill="none"/>
<path d="M590,859L748,758L906,859M590,859L590,1549M906,859L906,1549M748,758L748,1448M590,1549L748,1448L906,1549M590,1549L748,1650L906,1549M590,1491.5l-15,-9M590,1434l-15,-9M590,1376.5l-15,-9M590,1319l-15,-9M590,1261.5l-15,-9M590,1204l-15,-9M590,1146.5l-15,-9M590,1089l-15,-9M590,1031.5l-15,-9M590,974l-15,-9M590,916.5l-15,-9M590,859l-15,-9M600.5,1555.7l-12,7.7M758.5,1643.3l12,7.7M621.6,1569.2l-12,7.7M779.6,1629.8l12,7.7M642.7,1582.7l-12,7.7M800.7,1616.3l12,7.7M663.7,1596.1l-12,7.7M821.7,1602.9l12,7.7M684.8,1609.6l-12,7.7M842.8,1589.4l12,7.7M705.9,1623.1l-12,7.7M863.9,1575.9l12,7.7M726.9,1636.5l-12,7.7M884.9,1562.5l12,7.7M748,1650l-12,7.7M906,1549l12,7.7" stroke="#4a4a4a" stroke-width="1.5" fill="none"/>
<clipPath id="silB"><polygon points="235.3,804.5 314.3,855 393.3,804.5 393.3,1595.5 314.3,1545 235.3,1595.5"/></clipPath>
<mask id="mFaint" maskUnits="userSpaceOnUse" x="0" y="700" width="969" height="1020"><g filter="url(#bb12)"><rect x="0" y="700" width="969" height="1020" fill="#606060"/><polygon points="205.3,835 314.3,860 423.3,835 423.3,950 205.3,950" fill="#242424"/><polygon points="324.3,1450 423.3,1500 423.3,1640 255.3,1640 255.3,1560" fill="#303030"/><polygon points="205.3,1585 423.3,1580 423.3,1660 205.3,1660" fill="#101010"/></g><g filter="url(#bb4)"><polygon points="215.3,784.5 314.3,855 240.3,901.5 215.3,915.5" fill="#b8b8b8"/><polygon points="413.3,784.5 314.3,855 388.3,901.5 413.3,915.5" fill="#b8b8b8"/></g></mask>
<mask id="mStrong" maskUnits="userSpaceOnUse" x="0" y="700" width="969" height="1020"><g filter="url(#bb8)"><polygon points="205.3,960 309.3,930 373.3,985 423.3,1010 423.3,1420 314.3,1400 265.3,1440 205.3,1460" fill="#fff"/><polygon points="205.3,1440 257.3,1455 257.3,1530 205.3,1550" fill="#fff"/><polygon points="205.3,1455 314.3,1398 423.3,1448 423.3,1490 314.3,1445 205.3,1505" fill="#b0b0b0"/><polygon points="423.3,1440 373.3,1455 373.3,1520 423.3,1540" fill="#a0a0a0"/></g></mask>
<polygon points="235.3,804.5 314.3,855 393.3,804.5 393.3,1595.5 314.3,1545 235.3,1595.5" fill="#fff"/>
<g clip-path="url(#silB)">
<g mask="url(#mFaint)"><g filter="url(#rbF)"><rect x="225.3" y="780" width="178" height="880" fill="#808080"/>
<rect x="225.3" y="880" width="91" height="580" fill="url(#gL1)"/>
<rect x="225.3" y="880" width="91" height="580" fill="url(#gL2)" opacity="0.3"/>
<rect x="316.3" y="916" width="89" height="34" fill="url(#gC0)"/>
<rect x="316.3" y="950" width="89" height="34" fill="url(#gC1)"/>
<rect x="316.3" y="984" width="89" height="34" fill="url(#gC2)"/>
<rect x="316.3" y="1018" width="89" height="34" fill="url(#gC3)"/>
<rect x="316.3" y="1052" width="89" height="34" fill="url(#gC4)"/>
<rect x="316.3" y="1086" width="89" height="34" fill="url(#gC5)"/>
<rect x="316.3" y="1120" width="89" height="34" fill="url(#gC6)"/>
<rect x="316.3" y="1154" width="89" height="34" fill="url(#gC7)"/>
<rect x="316.3" y="1188" width="89" height="34" fill="url(#gC8)"/>
<rect x="316.3" y="1222" width="89" height="34" fill="url(#gC9)"/>
<rect x="316.3" y="1256" width="89" height="34" fill="url(#gC10)"/>
<rect x="316.3" y="1290" width="89" height="34" fill="url(#gC11)"/>
<rect x="316.3" y="1324" width="89" height="34" fill="url(#gC12)"/>
<rect x="316.3" y="1358" width="89" height="34" fill="url(#gC13)"/>
<g mask="url(#mRamp)"><g filter="url(#boost)" style="isolation:isolate"><rect x="316.3" y="880" width="89" height="580" fill="url(#gR1)"/><rect x="316.3" y="880" width="89" height="580" fill="url(#gR2)" style="mix-blend-mode:exclusion"/></g></g>
<polygon points="225.3,880 314.3,855 403.3,880 403.3,985 314.3,925 225.3,958" fill="url(#gTop)"/>
<polygon points="225.3,1444 316,1387.5 403.3,1438 403.3,1620 225.3,1620" fill="#808080"/>
<g fill="none" stroke-width="3.2"><path d="M223.3,1461.1 Q316,1345 405.3,1461.1" stroke="#000"/><path d="M223.3,1467.7 Q316,1354.6 405.3,1467.7" stroke="#fff"/><path d="M223.3,1474.3 Q316,1364.2 405.3,1474.3" stroke="#000"/><path d="M223.3,1480.9 Q316,1373.8 405.3,1480.9" stroke="#fff"/><path d="M223.3,1487.5 Q316,1383.4 405.3,1487.5" stroke="#000"/><path d="M223.3,1494 Q316,1393 405.3,1494" stroke="#fff"/><path d="M223.3,1500.6 Q316,1402.6 405.3,1500.6" stroke="#000"/><path d="M223.3,1507.2 Q316,1412.2 405.3,1507.2" stroke="#fff"/><path d="M223.3,1513.8 Q316,1421.8 405.3,1513.8" stroke="#000"/><path d="M223.3,1520.4 Q316,1431.4 405.3,1520.4" stroke="#fff"/><path d="M223.3,1527 Q316,1441 405.3,1527" stroke="#000"/><path d="M223.3,1533.6 Q316,1450.6 405.3,1533.6" stroke="#fff"/><path d="M223.3,1540.2 Q316,1460.2 405.3,1540.2" stroke="#000"/><path d="M223.3,1546.8 Q316,1469.8 405.3,1546.8" stroke="#fff"/><path d="M223.3,1553.4 Q316,1479.4 405.3,1553.4" stroke="#000"/><path d="M223.3,1560 Q316,1489 405.3,1560" stroke="#fff"/><path d="M223.3,1566.5 Q316,1498.6 405.3,1566.5" stroke="#000"/><path d="M223.3,1573.1 Q316,1508.2 405.3,1573.1" stroke="#fff"/><path d="M223.3,1579.7 Q316,1517.8 405.3,1579.7" stroke="#000"/><path d="M223.3,1586.3 Q316,1527.4 405.3,1586.3" stroke="#fff"/><path d="M223.3,1592.9 Q316,1537 405.3,1592.9" stroke="#000"/><path d="M223.3,1599.5 Q316,1546.6 405.3,1599.5" stroke="#fff"/><path d="M223.3,1606.1 Q316,1556.2 405.3,1606.1" stroke="#000"/><path d="M223.3,1612.7 Q316,1565.8 405.3,1612.7" stroke="#fff"/></g>
<polygon points="225.3,795 314.3,855 225.3,885" fill="url(#gW1)"/>
<polygon points="403.3,795 314.3,855 403.3,885" fill="url(#gW2)"/></g></g>
<g mask="url(#mStrong)"><g filter="url(#rbS)"><rect x="225.3" y="780" width="178" height="880" fill="#808080"/>
<rect x="225.3" y="880" width="91" height="580" fill="url(#gL1)"/>
<rect x="225.3" y="880" width="91" height="580" fill="url(#gL2)" opacity="0.3"/>
<rect x="316.3" y="916" width="89" height="34" fill="url(#gC0)"/>
<rect x="316.3" y="950" width="89" height="34" fill="url(#gC1)"/>
<rect x="316.3" y="984" width="89" height="34" fill="url(#gC2)"/>
<rect x="316.3" y="1018" width="89" height="34" fill="url(#gC3)"/>
<rect x="316.3" y="1052" width="89" height="34" fill="url(#gC4)"/>
<rect x="316.3" y="1086" width="89" height="34" fill="url(#gC5)"/>
<rect x="316.3" y="1120" width="89" height="34" fill="url(#gC6)"/>
<rect x="316.3" y="1154" width="89" height="34" fill="url(#gC7)"/>
<rect x="316.3" y="1188" width="89" height="34" fill="url(#gC8)"/>
<rect x="316.3" y="1222" width="89" height="34" fill="url(#gC9)"/>
<rect x="316.3" y="1256" width="89" height="34" fill="url(#gC10)"/>
<rect x="316.3" y="1290" width="89" height="34" fill="url(#gC11)"/>
<rect x="316.3" y="1324" width="89" height="34" fill="url(#gC12)"/>
<rect x="316.3" y="1358" width="89" height="34" fill="url(#gC13)"/>
<g mask="url(#mRamp)"><g filter="url(#boost)" style="isolation:isolate"><rect x="316.3" y="880" width="89" height="580" fill="url(#gR1)"/><rect x="316.3" y="880" width="89" height="580" fill="url(#gR2)" style="mix-blend-mode:exclusion"/></g></g>
<polygon points="225.3,880 314.3,855 403.3,880 403.3,985 314.3,925 225.3,958" fill="url(#gTop)"/>
<polygon points="225.3,1444 316,1387.5 403.3,1438 403.3,1620 225.3,1620" fill="#808080"/>
<g fill="none" stroke-width="3.2"><path d="M223.3,1461.1 Q316,1345 405.3,1461.1" stroke="#000"/><path d="M223.3,1467.7 Q316,1354.6 405.3,1467.7" stroke="#fff"/><path d="M223.3,1474.3 Q316,1364.2 405.3,1474.3" stroke="#000"/><path d="M223.3,1480.9 Q316,1373.8 405.3,1480.9" stroke="#fff"/><path d="M223.3,1487.5 Q316,1383.4 405.3,1487.5" stroke="#000"/><path d="M223.3,1494 Q316,1393 405.3,1494" stroke="#fff"/><path d="M223.3,1500.6 Q316,1402.6 405.3,1500.6" stroke="#000"/><path d="M223.3,1507.2 Q316,1412.2 405.3,1507.2" stroke="#fff"/><path d="M223.3,1513.8 Q316,1421.8 405.3,1513.8" stroke="#000"/><path d="M223.3,1520.4 Q316,1431.4 405.3,1520.4" stroke="#fff"/><path d="M223.3,1527 Q316,1441 405.3,1527" stroke="#000"/><path d="M223.3,1533.6 Q316,1450.6 405.3,1533.6" stroke="#fff"/><path d="M223.3,1540.2 Q316,1460.2 405.3,1540.2" stroke="#000"/><path d="M223.3,1546.8 Q316,1469.8 405.3,1546.8" stroke="#fff"/><path d="M223.3,1553.4 Q316,1479.4 405.3,1553.4" stroke="#000"/><path d="M223.3,1560 Q316,1489 405.3,1560" stroke="#fff"/><path d="M223.3,1566.5 Q316,1498.6 405.3,1566.5" stroke="#000"/><path d="M223.3,1573.1 Q316,1508.2 405.3,1573.1" stroke="#fff"/><path d="M223.3,1579.7 Q316,1517.8 405.3,1579.7" stroke="#000"/><path d="M223.3,1586.3 Q316,1527.4 405.3,1586.3" stroke="#fff"/><path d="M223.3,1592.9 Q316,1537 405.3,1592.9" stroke="#000"/><path d="M223.3,1599.5 Q316,1546.6 405.3,1599.5" stroke="#fff"/><path d="M223.3,1606.1 Q316,1556.2 405.3,1606.1" stroke="#000"/><path d="M223.3,1612.7 Q316,1565.8 405.3,1612.7" stroke="#fff"/></g>
<polygon points="225.3,795 314.3,855 225.3,885" fill="url(#gW1)"/>
<polygon points="403.3,795 314.3,855 403.3,885" fill="url(#gW2)"/></g></g>
</g>
<clipPath id="horB"><polygon points="156.3,1200 235.3,1149.5 235.3,1250.5"/><polygon points="472.3,1200 393.3,1149.5 393.3,1250.5"/><polygon points="314.3,1200 235.3,1250.5 314.3,1301 393.3,1250.5"/></clipPath>
<mask id="mH" maskUnits="userSpaceOnUse" x="0" y="700" width="969" height="1020"><g filter="url(#bb8)"><ellipse cx="316" cy="1201" rx="105" ry="68" fill="#fff"/><polygon points="313.5,1200 234.5,1250.5 313.5,1310 392.5,1250.5" fill="#fff"/></g></mask>
<g clip-path="url(#horB)">
<g filter="url(#rbHF)" opacity="0.7"><rect x="145" y="1090" width="340" height="220" fill="url(#gH)"/></g>
<g mask="url(#mH)"><g filter="url(#rbH)"><rect x="145" y="1090" width="340" height="220" fill="url(#gH)"/></g></g>
</g>
<clipPath id="silC"><polygon points="670.2,809.3 749.2,859.8 828.2,809.3 828.2,1600.3 749.2,1549.8 670.2,1600.3"/></clipPath>
<g clip-path="url(#silC)"><g filter="url(#vmap)">
<rect x="650.2" y="790" width="198" height="880" fill="#808080"/>
<g filter="url(#cb9)">
<polygon points="675.2,860 725.5,900 740.5,990 690.2,1000" fill="#919191" opacity="0.5"/>
<polygon points="778.2,920 765.5,960 780.5,1010 828.2,1060" fill="#999999" opacity="0.7"/>
<polygon points="670.2,1040 710.5,1090 700.5,1200 670.2,1150" fill="#949494" opacity="0.7"/>
</g>
<g filter="url(#cb4)" fill="none">
<path d="M746.5,942.5 Q728.5,971.2 655.2,1057.5" transform="translate(0 11)" stroke="#adadad" stroke-width="11" opacity="0.4"/>
<path d="M746.5,976.5 Q728.5,1007.8 655.2,1101.5" transform="translate(0 11)" stroke="#adadad" stroke-width="11" opacity="0.8"/>
<path d="M746.5,1010.5 Q728.5,1044.2 655.2,1145.5" transform="translate(0 11)" stroke="#adadad" stroke-width="11" opacity="0.8"/>
<path d="M746.5,1044.5 Q728.5,1080.8 655.2,1189.5" transform="translate(0 11)" stroke="#adadad" stroke-width="11" opacity="0.8"/>
<path d="M746.5,1078.5 Q728.5,1117.2 655.2,1233.5" transform="translate(0 11)" stroke="#adadad" stroke-width="11" opacity="0.8"/>
<path d="M746.5,1112.5 Q728.5,1153.8 655.2,1277.5" transform="translate(0 11)" stroke="#adadad" stroke-width="11" opacity="0.8"/>
<path d="M746.5,1146.5 Q728.5,1190.2 655.2,1321.5" transform="translate(0 11)" stroke="#adadad" stroke-width="11" opacity="0.8"/>
<path d="M746.5,1180.5 Q728.5,1226.8 655.2,1365.5" transform="translate(0 11)" stroke="#adadad" stroke-width="11" opacity="0.8"/>
<path d="M746.5,1214.5 Q728.5,1263.2 655.2,1409.5" transform="translate(0 11)" stroke="#adadad" stroke-width="11" opacity="0.8"/>
<path d="M746.5,1316.5 Q728.5,1354 655.2,1466.5" transform="translate(0 11)" stroke="#adadad" stroke-width="11" opacity="0.8"/>
<path d="M746.5,1350.5 Q728.5,1391 655.2,1512.5" transform="translate(0 11)" stroke="#adadad" stroke-width="11" opacity="0.8"/>
<path d="M746.5,1384.5 Q728.5,1428 655.2,1558.5" transform="translate(0 11)" stroke="#adadad" stroke-width="11" opacity="0.8"/>
<path d="M754.5,942.5 Q774.5,973.8 843.2,1067.5" transform="translate(0 11)" stroke="#adadad" stroke-width="11" opacity="0.4"/>
<path d="M754.5,976.5 Q774.5,1010.2 843.2,1111.5" transform="translate(0 11)" stroke="#adadad" stroke-width="11" opacity="0.8"/>
<path d="M754.5,1010.5 Q774.5,1046.8 843.2,1155.5" transform="translate(0 11)" stroke="#adadad" stroke-width="11" opacity="0.8"/>
<path d="M754.5,1044.5 Q774.5,1083.2 843.2,1199.5" transform="translate(0 11)" stroke="#adadad" stroke-width="11" opacity="0.8"/>
<path d="M754.5,1078.5 Q774.5,1119.8 843.2,1243.5" transform="translate(0 11)" stroke="#adadad" stroke-width="11" opacity="0.8"/>
<path d="M754.5,1112.5 Q774.5,1156.2 843.2,1287.5" transform="translate(0 11)" stroke="#adadad" stroke-width="11" opacity="0.8"/>
<path d="M754.5,1146.5 Q774.5,1192.8 843.2,1331.5" transform="translate(0 11)" stroke="#adadad" stroke-width="11" opacity="0.8"/>
<path d="M754.5,1180.5 Q774.5,1229.2 843.2,1375.5" transform="translate(0 11)" stroke="#adadad" stroke-width="11" opacity="0.8"/>
<path d="M754.5,1214.5 Q774.5,1265.8 843.2,1419.5" transform="translate(0 11)" stroke="#adadad" stroke-width="11" opacity="0.8"/>
<path d="M754.5,1316.5 Q774.5,1356.5 843.2,1476.5" transform="translate(0 11)" stroke="#adadad" stroke-width="11" opacity="0.8"/>
<path d="M754.5,1350.5 Q774.5,1393.5 843.2,1522.5" transform="translate(0 11)" stroke="#adadad" stroke-width="11" opacity="0.8"/>
<path d="M754.5,1384.5 Q774.5,1430.5 843.2,1568.5" transform="translate(0 11)" stroke="#adadad" stroke-width="11" opacity="0.8"/>
</g>
<g filter="url(#cb3)" fill="none" stroke-linecap="round">
<path d="M746.5,942.5 Q728.5,971.2 655.2,1057.5" stroke="#000" stroke-width="15" opacity="0.5"/>
<path d="M746.5,976.5 Q728.5,1007.8 655.2,1101.5" stroke="#000" stroke-width="15" opacity="1"/>
<path d="M746.5,1010.5 Q728.5,1044.2 655.2,1145.5" stroke="#000" stroke-width="15" opacity="1"/>
<path d="M746.5,1044.5 Q728.5,1080.8 655.2,1189.5" stroke="#000" stroke-width="15" opacity="1"/>
<path d="M746.5,1078.5 Q728.5,1117.2 655.2,1233.5" stroke="#000" stroke-width="15" opacity="1"/>
<path d="M746.5,1112.5 Q728.5,1153.8 655.2,1277.5" stroke="#000" stroke-width="15" opacity="1"/>
<path d="M746.5,1146.5 Q728.5,1190.2 655.2,1321.5" stroke="#000" stroke-width="15" opacity="1"/>
<path d="M746.5,1180.5 Q728.5,1226.8 655.2,1365.5" stroke="#000" stroke-width="15" opacity="1"/>
<path d="M746.5,1214.5 Q728.5,1263.2 655.2,1409.5" stroke="#000" stroke-width="15" opacity="1"/>
<path d="M746.5,1316.5 Q728.5,1354 655.2,1466.5" stroke="#000" stroke-width="15" opacity="1"/>
<path d="M746.5,1350.5 Q728.5,1391 655.2,1512.5" stroke="#000" stroke-width="15" opacity="1"/>
<path d="M746.5,1384.5 Q728.5,1428 655.2,1558.5" stroke="#000" stroke-width="15" opacity="1"/>
<path d="M754.5,942.5 Q774.5,973.8 843.2,1067.5" stroke="#000" stroke-width="12" opacity="0.5"/>
<path d="M754.5,976.5 Q774.5,1010.2 843.2,1111.5" stroke="#000" stroke-width="12" opacity="1"/>
<path d="M754.5,1010.5 Q774.5,1046.8 843.2,1155.5" stroke="#000" stroke-width="12" opacity="1"/>
<path d="M754.5,1044.5 Q774.5,1083.2 843.2,1199.5" stroke="#000" stroke-width="12" opacity="1"/>
<path d="M754.5,1078.5 Q774.5,1119.8 843.2,1243.5" stroke="#000" stroke-width="12" opacity="1"/>
<path d="M754.5,1112.5 Q774.5,1156.2 843.2,1287.5" stroke="#000" stroke-width="12" opacity="1"/>
<path d="M754.5,1146.5 Q774.5,1192.8 843.2,1331.5" stroke="#000" stroke-width="12" opacity="1"/>
<path d="M754.5,1180.5 Q774.5,1229.2 843.2,1375.5" stroke="#000" stroke-width="12" opacity="1"/>
<path d="M754.5,1214.5 Q774.5,1265.8 843.2,1419.5" stroke="#000" stroke-width="12" opacity="1"/>
<path d="M754.5,1316.5 Q774.5,1356.5 843.2,1476.5" stroke="#000" stroke-width="12" opacity="1"/>
<path d="M754.5,1350.5 Q774.5,1393.5 843.2,1522.5" stroke="#000" stroke-width="12" opacity="1"/>
<path d="M754.5,1384.5 Q774.5,1430.5 843.2,1568.5" stroke="#000" stroke-width="12" opacity="1"/>
</g>
<g filter="url(#cb4)">
<polygon points="746.5,972 728.5,1010 718.5,1080 708.5,1200 792.5,1200 780.5,1080 770.5,1010 754.5,972" fill="#000" opacity="0.9"/>
<polygon points="744.5,1300 720.5,1400 710.5,1420 745.5,1395 755.5,1395 792.5,1430 775.5,1380 756.5,1300" fill="#000" opacity="0.95"/>
<polygon points="744.5,1390 675.2,1470 665.2,1620 833.2,1620 823.2,1460 756.5,1390" fill="#000"/>
</g>
<g filter="url(#cb6)">
<polygon points="748.5,1412 720.5,1480 692.2,1610 750.5,1560 808.2,1610 788.5,1480" fill="#3d3d3d"/>
<polygon points="665.2,1470 686.2,1490 684.2,1610 665.2,1610" fill="#4c4c4c" opacity="0.9"/>
<polygon points="833.2,1460 814.2,1490 816.2,1610 833.2,1610" fill="#474747" opacity="0.9"/>
</g>
<g filter="url(#cb2)">
<ellipse cx="772.5" cy="980.5" rx="3.6" ry="11" transform="rotate(-38 772.5 980.5)" fill="#fff"/>
<ellipse cx="772.5" cy="1014.5" rx="3.6" ry="11" transform="rotate(-38 772.5 1014.5)" fill="#fff"/>
<ellipse cx="772.5" cy="1048.5" rx="3.6" ry="11" transform="rotate(-38 772.5 1048.5)" fill="#fff"/>
<ellipse cx="772.5" cy="1082.5" rx="3.6" ry="11" transform="rotate(-38 772.5 1082.5)" fill="#fff"/>
<ellipse cx="772.5" cy="1116.5" rx="3.6" ry="11" transform="rotate(-38 772.5 1116.5)" fill="#fff"/>
<ellipse cx="772.5" cy="1150.5" rx="3.6" ry="11" transform="rotate(-38 772.5 1150.5)" fill="#fff"/>
<ellipse cx="772.5" cy="1184.5" rx="3.6" ry="11" transform="rotate(-38 772.5 1184.5)" fill="#fff"/>
<ellipse cx="772.5" cy="1218.5" rx="3.6" ry="11" transform="rotate(-38 772.5 1218.5)" fill="#fff"/>
<ellipse cx="772.5" cy="1320.5" rx="3.6" ry="11" transform="rotate(-38 772.5 1320.5)" fill="#fff"/>
<ellipse cx="772.5" cy="1354.5" rx="3.6" ry="11" transform="rotate(-38 772.5 1354.5)" fill="#fff"/>
<ellipse cx="772.5" cy="1388.5" rx="3.6" ry="11" transform="rotate(-38 772.5 1388.5)" fill="#fff"/>
</g>
</g></g>
<clipPath id="horC"><polygon points="591.2,1204.8 670.2,1154.3 670.2,1255.3"/><polygon points="907.2,1204.8 828.2,1154.3 828.2,1255.3"/><polygon points="749.2,1204.8 670.2,1255.3 749.2,1305.8 828.2,1255.3"/></clipPath>
<g clip-path="url(#horC)"><g filter="url(#vmap2)">
<rect x="580" y="1090" width="340" height="230" fill="#808080"/>
<g filter="url(#cb2)">
<path d="M751,1190 L700,1237 Q751,1262 812,1244 Z" fill="#000"/>
</g>
<g filter="url(#cb2)" fill="none">
<path d="M727,1219 Q751,1250 790,1229" stroke="#8f8f8f" stroke-width="5"/>
<path d="M686,1246 Q751,1272 816,1247" stroke="#949494" stroke-width="6"/>
<path d="M668,1253 Q751,1292 828,1258" stroke="#383838" stroke-width="13"/>
<path d="M668,1253 Q751,1292 828,1258" stroke="#000" stroke-width="5"/>
</g>
<g filter="url(#cb6)"><polygon points="668.2,1174.8 673.2,1174.8 673.2,1254.8 656.2,1229.8" fill="#4c4c4c"/><polygon points="830.2,1174.8 825.2,1174.8 825.2,1254.8 842.2,1229.8" fill="#595959"/></g>
</g></g>
<path d="M315.5,865V1200 M315.5,1300V1558" stroke="#ec1c24" stroke-width="4" fill="none"/>
<polygon points="306,1527.5 325,1527.5 315.5,1540" fill="#ec1c24"/>
<path d="M-24.5,4 C-22.5,-0.5 -20.5,-2.8 -17.8,-3.1 L-2.3,-3.9 C1,-4.5 3,-5 4.4,-6.1 L11.8,-12.5 L22.5,-4.4 C20,-1.5 18,0.5 15.8,2 L6.4,4.7 C3,5.8 0,6.6 -2.3,7 L-17.8,6.9 C-21,6.6 -23,6 -24.5,5.3Z" transform="translate(315.5 930) scale(1 1.12)" fill="#eba81e"/>
<path d="M-24.5,4 C-22.5,-0.5 -20.5,-2.8 -17.8,-3.1 L-2.3,-3.9 C1,-4.5 3,-5 4.4,-6.1 L11.8,-12.5 L22.5,-4.4 C20,-1.5 18,0.5 15.8,2 L6.4,4.7 C3,5.8 0,6.6 -2.3,7 L-17.8,6.9 C-21,6.6 -23,6 -24.5,5.3Z" transform="translate(315.5 964) scale(1 1.12)" fill="#eba81e"/>
<path d="M-24.5,4 C-22.5,-0.5 -20.5,-2.8 -17.8,-3.1 L-2.3,-3.9 C1,-4.5 3,-5 4.4,-6.1 L11.8,-12.5 L22.5,-4.4 C20,-1.5 18,0.5 15.8,2 L6.4,4.7 C3,5.8 0,6.6 -2.3,7 L-17.8,6.9 C-21,6.6 -23,6 -24.5,5.3Z" transform="translate(315.5 998) scale(1 1.12)" fill="#eba81e"/>
<path d="M-24.5,4 C-22.5,-0.5 -20.5,-2.8 -17.8,-3.1 L-2.3,-3.9 C1,-4.5 3,-5 4.4,-6.1 L11.8,-12.5 L22.5,-4.4 C20,-1.5 18,0.5 15.8,2 L6.4,4.7 C3,5.8 0,6.6 -2.3,7 L-17.8,6.9 C-21,6.6 -23,6 -24.5,5.3Z" transform="translate(315.5 1032) scale(1 1.12)" fill="#eba81e"/>
<path d="M-24.5,4 C-22.5,-0.5 -20.5,-2.8 -17.8,-3.1 L-2.3,-3.9 C1,-4.5 3,-5 4.4,-6.1 L11.8,-12.5 L22.5,-4.4 C20,-1.5 18,0.5 15.8,2 L6.4,4.7 C3,5.8 0,6.6 -2.3,7 L-17.8,6.9 C-21,6.6 -23,6 -24.5,5.3Z" transform="translate(315.5 1066) scale(1 1.12)" fill="#eba81e"/>
<path d="M-24.5,4 C-22.5,-0.5 -20.5,-2.8 -17.8,-3.1 L-2.3,-3.9 C1,-4.5 3,-5 4.4,-6.1 L11.8,-12.5 L22.5,-4.4 C20,-1.5 18,0.5 15.8,2 L6.4,4.7 C3,5.8 0,6.6 -2.3,7 L-17.8,6.9 C-21,6.6 -23,6 -24.5,5.3Z" transform="translate(315.5 1100) scale(1 1.12)" fill="#eba81e"/>
<path d="M-24.5,4 C-22.5,-0.5 -20.5,-2.8 -17.8,-3.1 L-2.3,-3.9 C1,-4.5 3,-5 4.4,-6.1 L11.8,-12.5 L22.5,-4.4 C20,-1.5 18,0.5 15.8,2 L6.4,4.7 C3,5.8 0,6.6 -2.3,7 L-17.8,6.9 C-21,6.6 -23,6 -24.5,5.3Z" transform="translate(315.5 1134) scale(1 1.12)" fill="#eba81e"/>
<path d="M-24.5,4 C-22.5,-0.5 -20.5,-2.8 -17.8,-3.1 L-2.3,-3.9 C1,-4.5 3,-5 4.4,-6.1 L11.8,-12.5 L22.5,-4.4 C20,-1.5 18,0.5 15.8,2 L6.4,4.7 C3,5.8 0,6.6 -2.3,7 L-17.8,6.9 C-21,6.6 -23,6 -24.5,5.3Z" transform="translate(315.5 1168) scale(1 1.12)" fill="#eba81e"/>
<path d="M-24.5,4 C-22.5,-0.5 -20.5,-2.8 -17.8,-3.1 L-2.3,-3.9 C1,-4.5 3,-5 4.4,-6.1 L11.8,-12.5 L22.5,-4.4 C20,-1.5 18,0.5 15.8,2 L6.4,4.7 C3,5.8 0,6.6 -2.3,7 L-17.8,6.9 C-21,6.6 -23,6 -24.5,5.3Z" transform="translate(315.5 1202) scale(1 1.12)" fill="#eba81e"/>
<path d="M-24.5,4 C-22.5,-0.5 -20.5,-2.8 -17.8,-3.1 L-2.3,-3.9 C1,-4.5 3,-5 4.4,-6.1 L11.8,-12.5 L22.5,-4.4 C20,-1.5 18,0.5 15.8,2 L6.4,4.7 C3,5.8 0,6.6 -2.3,7 L-17.8,6.9 C-21,6.6 -23,6 -24.5,5.3Z" transform="translate(315.5 1304) scale(1 1.12)" fill="#eba81e"/>
<path d="M-24.5,4 C-22.5,-0.5 -20.5,-2.8 -17.8,-3.1 L-2.3,-3.9 C1,-4.5 3,-5 4.4,-6.1 L11.8,-12.5 L22.5,-4.4 C20,-1.5 18,0.5 15.8,2 L6.4,4.7 C3,5.8 0,6.6 -2.3,7 L-17.8,6.9 C-21,6.6 -23,6 -24.5,5.3Z" transform="translate(315.5 1338) scale(1 1.12)" fill="#eba81e"/>
<path d="M-24.5,4 C-22.5,-0.5 -20.5,-2.8 -17.8,-3.1 L-2.3,-3.9 C1,-4.5 3,-5 4.4,-6.1 L11.8,-12.5 L22.5,-4.4 C20,-1.5 18,0.5 15.8,2 L6.4,4.7 C3,5.8 0,6.6 -2.3,7 L-17.8,6.9 C-21,6.6 -23,6 -24.5,5.3Z" transform="translate(315.5 1372) scale(1 1.12)" fill="#eba81e"/>
<text transform="translate(277 1552) skewX(-13)" style="font-size:32px;fill:#c0272d;stroke:#c0272d;stroke-width:0.8">e</text>
<text x="294" y="1540" style="font-size:20px;fill:#c0272d">-</text>
<path d="M751,868.7V1204 M751,1304V1562" stroke="#ec1c24" stroke-width="4" fill="none"/>
<polygon points="741.5,1510.5 760.5,1510.5 751,1523" fill="#ec1c24"/>
<path d="M-24.5,4 C-22.5,-0.5 -20.5,-2.8 -17.8,-3.1 L-2.3,-3.9 C1,-4.5 3,-5 4.4,-6.1 L11.8,-12.5 L22.5,-4.4 C20,-1.5 18,0.5 15.8,2 L6.4,4.7 C3,5.8 0,6.6 -2.3,7 L-17.8,6.9 C-21,6.6 -23,6 -24.5,5.3Z" transform="translate(751 934) scale(1 1.12)" fill="#eba81e"/>
<path d="M-24.5,4 C-22.5,-0.5 -20.5,-2.8 -17.8,-3.1 L-2.3,-3.9 C1,-4.5 3,-5 4.4,-6.1 L11.8,-12.5 L22.5,-4.4 C20,-1.5 18,0.5 15.8,2 L6.4,4.7 C3,5.8 0,6.6 -2.3,7 L-17.8,6.9 C-21,6.6 -23,6 -24.5,5.3Z" transform="translate(751 968) scale(1 1.12)" fill="#eba81e"/>
<path d="M-24.5,4 C-22.5,-0.5 -20.5,-2.8 -17.8,-3.1 L-2.3,-3.9 C1,-4.5 3,-5 4.4,-6.1 L11.8,-12.5 L22.5,-4.4 C20,-1.5 18,0.5 15.8,2 L6.4,4.7 C3,5.8 0,6.6 -2.3,7 L-17.8,6.9 C-21,6.6 -23,6 -24.5,5.3Z" transform="translate(751 1002) scale(1 1.12)" fill="#eba81e"/>
<path d="M-24.5,4 C-22.5,-0.5 -20.5,-2.8 -17.8,-3.1 L-2.3,-3.9 C1,-4.5 3,-5 4.4,-6.1 L11.8,-12.5 L22.5,-4.4 C20,-1.5 18,0.5 15.8,2 L6.4,4.7 C3,5.8 0,6.6 -2.3,7 L-17.8,6.9 C-21,6.6 -23,6 -24.5,5.3Z" transform="translate(751 1036) scale(1 1.12)" fill="#eba81e"/>
<path d="M-24.5,4 C-22.5,-0.5 -20.5,-2.8 -17.8,-3.1 L-2.3,-3.9 C1,-4.5 3,-5 4.4,-6.1 L11.8,-12.5 L22.5,-4.4 C20,-1.5 18,0.5 15.8,2 L6.4,4.7 C3,5.8 0,6.6 -2.3,7 L-17.8,6.9 C-21,6.6 -23,6 -24.5,5.3Z" transform="translate(751 1070) scale(1 1.12)" fill="#eba81e"/>
<path d="M-24.5,4 C-22.5,-0.5 -20.5,-2.8 -17.8,-3.1 L-2.3,-3.9 C1,-4.5 3,-5 4.4,-6.1 L11.8,-12.5 L22.5,-4.4 C20,-1.5 18,0.5 15.8,2 L6.4,4.7 C3,5.8 0,6.6 -2.3,7 L-17.8,6.9 C-21,6.6 -23,6 -24.5,5.3Z" transform="translate(751 1104) scale(1 1.12)" fill="#eba81e"/>
<path d="M-24.5,4 C-22.5,-0.5 -20.5,-2.8 -17.8,-3.1 L-2.3,-3.9 C1,-4.5 3,-5 4.4,-6.1 L11.8,-12.5 L22.5,-4.4 C20,-1.5 18,0.5 15.8,2 L6.4,4.7 C3,5.8 0,6.6 -2.3,7 L-17.8,6.9 C-21,6.6 -23,6 -24.5,5.3Z" transform="translate(751 1138) scale(1 1.12)" fill="#eba81e"/>
<path d="M-24.5,4 C-22.5,-0.5 -20.5,-2.8 -17.8,-3.1 L-2.3,-3.9 C1,-4.5 3,-5 4.4,-6.1 L11.8,-12.5 L22.5,-4.4 C20,-1.5 18,0.5 15.8,2 L6.4,4.7 C3,5.8 0,6.6 -2.3,7 L-17.8,6.9 C-21,6.6 -23,6 -24.5,5.3Z" transform="translate(751 1172) scale(1 1.12)" fill="#eba81e"/>
<path d="M-24.5,4 C-22.5,-0.5 -20.5,-2.8 -17.8,-3.1 L-2.3,-3.9 C1,-4.5 3,-5 4.4,-6.1 L11.8,-12.5 L22.5,-4.4 C20,-1.5 18,0.5 15.8,2 L6.4,4.7 C3,5.8 0,6.6 -2.3,7 L-17.8,6.9 C-21,6.6 -23,6 -24.5,5.3Z" transform="translate(751 1206) scale(1 1.12)" fill="#eba81e"/>
<path d="M-24.5,4 C-22.5,-0.5 -20.5,-2.8 -17.8,-3.1 L-2.3,-3.9 C1,-4.5 3,-5 4.4,-6.1 L11.8,-12.5 L22.5,-4.4 C20,-1.5 18,0.5 15.8,2 L6.4,4.7 C3,5.8 0,6.6 -2.3,7 L-17.8,6.9 C-21,6.6 -23,6 -24.5,5.3Z" transform="translate(751 1308) scale(1 1.12)" fill="#eba81e"/>
<path d="M-24.5,4 C-22.5,-0.5 -20.5,-2.8 -17.8,-3.1 L-2.3,-3.9 C1,-4.5 3,-5 4.4,-6.1 L11.8,-12.5 L22.5,-4.4 C20,-1.5 18,0.5 15.8,2 L6.4,4.7 C3,5.8 0,6.6 -2.3,7 L-17.8,6.9 C-21,6.6 -23,6 -24.5,5.3Z" transform="translate(751 1342) scale(1 1.12)" fill="#eba81e"/>
<path d="M-24.5,4 C-22.5,-0.5 -20.5,-2.8 -17.8,-3.1 L-2.3,-3.9 C1,-4.5 3,-5 4.4,-6.1 L11.8,-12.5 L22.5,-4.4 C20,-1.5 18,0.5 15.8,2 L6.4,4.7 C3,5.8 0,6.6 -2.3,7 L-17.8,6.9 C-21,6.6 -23,6 -24.5,5.3Z" transform="translate(751 1376) scale(1 1.12)" fill="#eba81e"/>
<text transform="translate(712 1542) skewX(-13)" style="font-size:32px;fill:#c0272d;stroke:#c0272d;stroke-width:0.8">e</text>
<text x="729" y="1530" style="font-size:20px;fill:#c0272d">-</text>
<path d="M316,1401.5L235.2,1458 M316,1401.5L394,1451.6" stroke="#000" stroke-width="5.5" stroke-dasharray="24 18" fill="none"/>
<path d="M157.8,1408L236,1457.5" stroke="#000" stroke-width="1.6" stroke-dasharray="2 1.6" fill="none"/>
<text transform="translate(106 1402) skewX(-12)" style="font-size:38px;stroke:#000;stroke-width:1">z</text>
<text x="123.5" y="1412.5" style="font-size:28.5px;stroke:#000;stroke-width:0.5">0</text>
<path d="M527.1,1557L527.1,1486 M527.1,1557L469,1598 M527.1,1557L584,1594.5" stroke="#000" stroke-width="2.2" fill="none"/>
<polygon points="520.8,1488.5 533.4,1488.5 527.1,1475.5" fill="#000"/>
<polygon points="462.3,1602.4 469.2,1589.6 476.7,1600.3" fill="#000"/>
<polygon points="590.7,1598.7 576.3,1597 583.4,1586.1" fill="#000"/>
<text x="499" y="1483.7" style="font-style:italic;font-size:34px;stroke:#000;stroke-width:0.7">z</text>
<text x="590" y="1588" style="font-style:italic;font-size:34px;stroke:#000;stroke-width:0.7">y</text>
<text x="478.5" y="1628.2" style="font-style:italic;font-size:34px;stroke:#000;stroke-width:0.7">x</text>
<path d="M346.7,1656L387.1,1630.7" stroke="#000" stroke-width="5.5"/>
<text transform="translate(359 1696) rotate(-32)" style="font-size:34px;stroke:#000;stroke-width:0.6">5 µm</text>
<text x="0" y="779.5" class="lbl">(b)</text>
<text x="532" y="779.5" class="lbl">(c)</text>
</svg></body></html>
